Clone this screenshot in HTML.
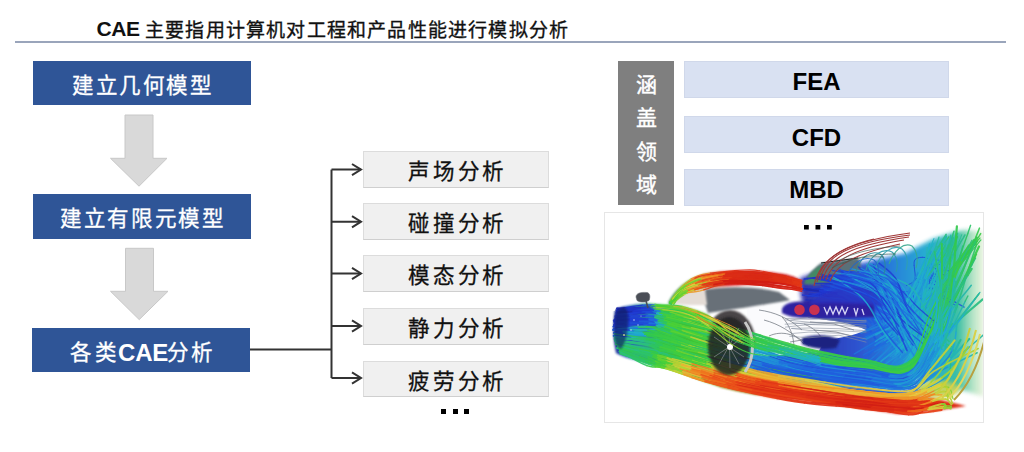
<!DOCTYPE html>
<html lang="zh-CN">
<head>
<meta charset="utf-8">
<style>
*{margin:0;padding:0;box-sizing:border-box}
html,body{width:1024px;height:452px;background:#fff;overflow:hidden;position:relative;font-family:"Liberation Serif",serif}
.a{position:absolute}
.title{font-size:19px;letter-spacing:1.2px;font-weight:bold;white-space:nowrap;color:#111;line-height:28px}
.tcn{font-weight:400;-webkit-text-stroke:0.35px #111}
.title .en{font-family:"Liberation Sans",sans-serif;font-size:19px;letter-spacing:0}
.hr{left:15px;top:41px;width:991px;height:2px;background:#9aa5bb}
.bb{background:#2f5597;color:#fff;text-align:center;font-size:21.5px;letter-spacing:1.6px;padding-top:3px;padding-left:1.6px;font-weight:500;white-space:nowrap;-webkit-text-stroke:0.3px #fff}
.gb{background:#f0f0f0;border:1px solid #dcdcdc;border-bottom-color:#cfcfcf;color:#111;text-align:center;font-size:21.5px;letter-spacing:2.6px;font-weight:500;white-space:nowrap;line-height:36px;padding-top:2px;padding-left:3.2px;-webkit-text-stroke:0.3px #111}
.lb{background:#d9e1f2;border:1px solid #d0d8ea;color:#000;text-align:center;font-family:"Liberation Sans",sans-serif;font-weight:bold;font-size:24px;line-height:37px;padding-top:1.5px}
.dots{font-family:"Liberation Sans",sans-serif}
.dot{position:absolute;width:5px;height:5px;background:#000}
</style>
</head>
<body>
<div class="a title" style="left:96.5px;font-family:'Liberation Sans',sans-serif;font-size:21px;letter-spacing:-0.4px;top:14.6px">CAE</div>
<div class="a title tcn" style="left:145px;top:16.5px">主要指用计算机对工程和产品性能进行模拟分析</div>
<div class="a hr"></div>

<div class="a bb" style="left:33px;top:61px;width:218px;height:44px;line-height:44px">建立几何模型</div>
<div class="a bb" style="left:33px;top:194px;width:218px;height:45px;line-height:45px">建立有限元模型</div>
<div class="a bb" style="left:32px;top:328px;width:218px;height:44px;line-height:44px;padding:0">
<span class="a" style="left:38px;top:3px">各</span><span class="a" style="left:63px;top:3px">类</span><span class="a" style="left:86px;top:3px;font-family:'Liberation Sans',sans-serif;font-size:24px;letter-spacing:-0.2px;font-weight:bold;-webkit-text-stroke:0">CAE</span><span class="a" style="left:135px;top:3px">分</span><span class="a" style="left:159px;top:3px">析</span></div>

<svg class="a" style="left:0;top:0" width="600" height="452">
  <g fill="#d9d9d9" stroke="#c8c8c8" stroke-width="1">
    <path d="M125 115 H153 V158.3 H167 L139 186.2 L110.5 158.3 H125 Z"/>
    <path d="M125.5 248.3 H153.5 V291.3 H168 L139.2 319.6 L110.5 291.3 H125.5 Z"/>
  </g>
  <g fill="none" stroke="#333" stroke-width="2">
    <path d="M250 349.5 H331.5"/>
    <path d="M331.5 169.6 V378"/>
    <path d="M331.5 169.6 H361 M331.5 221.7 H361 M331.5 273.5 H361 M331.5 326 H361 M331.5 378 H361"/>
    <path d="M352 164 L361 169.6 L352 175.2 M352 216.1 L361 221.7 L352 227.3 M352 267.9 L361 273.5 L352 279.1 M352 320.4 L361 326 L352 331.6 M352 372.4 L361 378 L352 383.6"/>
  </g>
</svg>

<div class="a gb" style="left:363px;top:151px;width:186px;height:37px">声场分析</div>
<div class="a gb" style="left:363px;top:203px;width:186px;height:37px">碰撞分析</div>
<div class="a gb" style="left:363px;top:255px;width:186px;height:37px">模态分析</div>
<div class="a gb" style="left:363px;top:308px;width:186px;height:37px">静力分析</div>
<div class="a gb" style="left:363px;top:361px;width:186px;height:36px">疲劳分析</div>
<div class="dot" style="left:441px;top:409px"></div>
<div class="dot" style="left:452.5px;top:409px"></div>
<div class="dot" style="left:464px;top:409px"></div>

<div class="a" style="left:618px;top:61px;width:56px;height:144px;background:#7f7f7f;color:#fff;font-size:21px;font-weight:400;-webkit-text-stroke:0.4px #fff;text-align:center;line-height:33.6px;padding-top:7.7px">涵<br>盖<br>领<br>域</div>
<div class="a lb" style="left:684px;top:60.5px;width:265px;height:37px">FEA</div>
<div class="a lb" style="left:684px;top:116px;width:265px;height:37px">CFD</div>
<div class="a lb" style="left:684px;top:168.5px;width:265px;height:37px">MBD</div>

<div class="a" id="car" style="left:604px;top:212px;width:380px;height:211px;border:1px solid #e6e6e6;background:#fff;overflow:hidden">
<svg width="380" height="211" viewBox="0 0 380 211" style="position:absolute;left:-1px;top:-1px">
<defs>
 <filter id="b1" x="-10%" y="-10%" width="120%" height="120%"><feGaussianBlur stdDeviation="1"/></filter>
 <filter id="b2" x="-10%" y="-10%" width="120%" height="120%"><feGaussianBlur stdDeviation="2"/></filter>
 <filter id="b05" x="-10%" y="-10%" width="120%" height="120%"><feGaussianBlur stdDeviation="0.5"/></filter>
 <linearGradient id="gPlume" x1="196" y1="0" x2="380" y2="0" gradientUnits="userSpaceOnUse">
  <stop offset="0" stop-color="#2828a8"/><stop offset="0.3" stop-color="#2048cc"/><stop offset="0.5" stop-color="#1f78d8"/><stop offset="0.68" stop-color="#1fa8d0"/><stop offset="0.86" stop-color="#30bca0"/><stop offset="1" stop-color="#b8dc98" stop-opacity="0.3"/>
 </linearGradient>
 <linearGradient id="gRoof" x1="64" y1="0" x2="200" y2="0" gradientUnits="userSpaceOnUse">
  <stop offset="0" stop-color="#309050"/><stop offset="0.2" stop-color="#a0a040"/><stop offset="0.35" stop-color="#c84020"/><stop offset="0.45" stop-color="#d81c1c"/><stop offset="1" stop-color="#c81818"/>
 </linearGradient>
 <linearGradient id="gNose" x1="9" y1="0" x2="110" y2="0" gradientUnits="userSpaceOnUse">
  <stop offset="0" stop-color="#1a2a88"/><stop offset="0.1" stop-color="#2a50c0"/><stop offset="0.3" stop-color="#2a9a90"/><stop offset="0.5" stop-color="#38c040"/><stop offset="1" stop-color="#40c030"/>
 </linearGradient>
 <linearGradient id="gBot" x1="0" y1="150" x2="0" y2="200" gradientUnits="userSpaceOnUse">
  <stop offset="0" stop-color="#d8c838"/><stop offset="0.3" stop-color="#f09028"/><stop offset="0.6" stop-color="#e84a18"/><stop offset="1" stop-color="#d82414"/>
 </linearGradient>
</defs>
<rect width="380" height="211" fill="#fff"/>

<!-- PLUME base fill -->
<path d="M196 66 L218 58 C228 57 234 56 240 55 C255 52 265 49 284 45 L302 41 L313 35 L329 27 L351 20 L362 18 L380 20 L380 185 C360 178 340 172 320 168 C290 164 260 160 230 156 C215 150 208 130 205 108 C198 95 195 80 196 66 Z" fill="url(#gPlume)" opacity="0.95" filter="url(#b2)"/>
<!-- dark spoiler region -->
<path d="M200 72 C203 64 209 57 217 51 L254 46 C258 50 258 58 252 66 C240 70 225 71 212 73 Z" fill="#5a7078" filter="url(#b1)"/>
<path d="M200 72 C203 64 209 58 216 54 L222 70 Z" fill="#3c9060" opacity="0.8" filter="url(#b1)"/>
<path d="M217 51 L254 46" stroke="#1a2020" stroke-width="1.2" fill="none"/>
<g fill="none" stroke-linecap="round"><g stroke-width="1.3" opacity="0.90"><path d="M247.3 75.2 249.6 75.8 252.7 76.6 256.4 77.5 260.4 78.6" stroke="#204ed9"/><path d="M260.4 78.6 264.4 79.6 268.1 80.7 271.5 81.5 275.0 82.2 278.4 82.9" stroke="#2061df"/><path d="M278.4 82.9 281.8 83.8 285.3 85.2 288.8 87.2 292.4 90.0 296.0 93.6" stroke="#2070de"/><path d="M296.0 93.6 299.6 97.5 303.2 101.7 306.9 105.7 310.5 109.4 314.4 112.9" stroke="#209bd6"/><path d="M314.4 112.9 318.5 116.4 322.7 119.9 326.5 123.0 329.8 125.6 332.2 127.6" stroke="#20aed2"/></g><g stroke-width="1.7" opacity="0.90"><path d="M224.7 75.7 227.1 75.4 230.5 74.9 234.5 74.4" stroke="#2047d7"/><path d="M234.5 74.4 238.8 73.9 243.1 73.5 247.1 73.4 250.8 73.5 254.6 73.7" stroke="#205cde"/><path d="M254.6 73.7 258.5 74.1 262.2 74.6 265.9 75.4 269.5 76.5 272.8 78.0" stroke="#205ede"/><path d="M272.8 78.0 276.0 79.9 279.2 82.0 282.2 84.3 285.3 86.4 288.5 88.4" stroke="#207cdc"/><path d="M288.5 88.4 291.8 90.3 295.5 92.2 299.1 94.0 302.5 95.7 305.4 97.1" stroke="#2099d6"/><path d="M305.4 97.1 307.5 98.2" stroke="#209dd6"/></g><g stroke-width="1.5" opacity="0.90"><path d="M240.3 60.0 242.6 61.0 245.7 62.3 249.4 63.8 253.4 65.6 257.4 67.5" stroke="#2054db"/><path d="M257.4 67.5 261.1 69.6 264.6 71.7 268.1 73.9 271.6 76.3 275.0 79.0" stroke="#2065e0"/><path d="M275.0 79.0 278.5 82.0 281.8 85.5 285.0 89.7 288.2 94.5 291.2 99.6" stroke="#207ddb"/><path d="M291.2 99.6 294.3 104.9 297.3 110.0 300.4 114.7 303.7 119.2 307.3 123.9" stroke="#209cd6"/><path d="M307.3 123.9 310.9 128.4 314.2 132.5 317.0 136.0 319.0 138.5" stroke="#209fd5"/></g><g stroke-width="1.9" opacity="0.90"><path d="M227.8 77.1 229.6 77.2 232.0 77.3" stroke="#2040d5"/><path d="M232.0 77.3 234.9 77.5 238.1 77.7 241.2 78.2 244.1 78.8 246.8 79.7" stroke="#2043d6"/><path d="M246.8 79.7 249.5 80.8 252.1 82.0 254.8 83.4 257.6 85.0 260.4 86.8" stroke="#204ad8"/><path d="M260.4 86.8 263.4 89.0 266.5 91.6 269.7 94.4 272.9 97.2 276.1 100.0" stroke="#205ede"/><path d="M276.1 100.0 279.3 102.5 282.7 105.0 286.3 107.5 289.9 109.9 293.3 112.1" stroke="#208ed8"/><path d="M293.3 112.1 296.1 114.0 298.1 115.3" stroke="#209fd5"/></g><g stroke-width="1.8" opacity="0.90"><path d="M205.4 82.3 207.9 82.6" stroke="#1e2cb6"/><path d="M207.9 82.6 211.2 83.0 215.3 83.4 219.6 83.9 223.9 84.6 227.9 85.5" stroke="#1e30c0"/><path d="M227.9 85.5 231.7 86.5 235.4 87.7 239.1 89.0 242.9 90.5 246.7 92.1" stroke="#203cd3"/><path d="M246.7 92.1 250.4 93.7 254.3 95.6 258.1 97.6 262.0 99.8 265.8 101.9" stroke="#204cd8"/><path d="M265.8 101.9 269.7 104.0 273.6 106.0 277.7 107.9 282.1 109.9 286.6 111.8" stroke="#2058dc"/><path d="M286.6 111.8 290.7 113.5 294.2 115.0 296.7 116.1" stroke="#2072dd"/></g><g stroke-width="1.3" opacity="0.90"><path d="M249.4 71.5 251.1 72.8 253.4 74.6 256.2 76.7 259.1 79.0 262.1 81.4" stroke="#2052da"/><path d="M262.1 81.4 264.9 83.5 267.4 85.4 270.0 87.1 272.5 88.8 275.1 90.7" stroke="#205ede"/><path d="M275.1 90.7 277.7 93.1 280.3 96.2 283.1 100.1 285.9 104.8 288.7 109.9" stroke="#2096d7"/><path d="M288.7 109.9 291.6 115.2 294.4 120.3 297.3 125.0 300.3 129.5 303.6 134.1" stroke="#20b0d1"/><path d="M303.6 134.1 306.8 138.6 309.8 142.7 312.4 146.1 314.2 148.6" stroke="#20a6d4"/></g><g stroke-width="1.3" opacity="0.90"><path d="M233.9 69.9 236.0 70.1 238.9 70.3" stroke="#204ad8"/><path d="M238.9 70.3 242.3 70.5 246.0 70.9 249.7 71.4 253.1 72.2 256.3 73.2" stroke="#204fd9"/><path d="M256.3 73.2 259.4 74.4 262.5 75.8 265.6 77.3 268.9 78.9 272.3 80.5" stroke="#2057dc"/><path d="M272.3 80.5 275.9 82.2 279.7 84.0 283.7 86.0 287.6 87.9 291.6 89.7" stroke="#206ede"/><path d="M291.6 89.7 295.5 91.5 299.7 93.2 304.1 95.0 308.6 96.7 312.7 98.2" stroke="#20a7d4"/><path d="M312.7 98.2 316.2 99.5 318.7 100.5" stroke="#24b7ae"/></g><g stroke-width="1.7" opacity="0.90"><path d="M220.1 66.5 222.7 67.5 226.2 68.8 230.4 70.4" stroke="#2037d1"/><path d="M230.4 70.4 234.9 72.2 239.4 73.9 243.6 75.5 247.5 76.9 251.3 78.1" stroke="#2058dc"/><path d="M251.3 78.1 255.1 79.2 258.9 80.6 262.9 82.4 267.1 84.8 271.7 88.0" stroke="#2067df"/><path d="M271.7 88.0 276.4 91.9 281.3 96.2 286.2 100.6 291.2 104.9 296.1 108.9" stroke="#2080db"/><path d="M296.1 108.9 301.2 112.6 306.8 116.5 312.3 120.2 317.5 123.6 321.8 126.4" stroke="#209bd6"/><path d="M321.8 126.4 325.0 128.5" stroke="#20acd3"/></g><g stroke-width="1.7" opacity="0.90"><path d="M226.2 63.9 228.7 64.5 232.2 65.4" stroke="#203ed4"/><path d="M232.2 65.4 236.3 66.4 240.7 67.5 245.2 68.6 249.3 69.6 253.2 70.3" stroke="#2052da"/><path d="M253.2 70.3 257.0 70.7 260.8 71.2 264.7 71.9 268.6 73.2 272.5 75.2" stroke="#205add"/><path d="M272.5 75.2 276.4 78.4 280.3 82.3 284.3 86.9 288.3 91.6 292.2 96.2" stroke="#2075dd"/><path d="M292.2 96.2 296.2 100.3 300.4 104.3 305.0 108.3 309.6 112.2 313.8 115.7" stroke="#20abd3"/><path d="M313.8 115.7 317.4 118.7 319.9 120.9" stroke="#20a9d3"/></g><g stroke-width="1.2" opacity="0.90"><path d="M236.8 78.5 239.2 78.1 242.5 77.5 246.4 76.7 250.7 76.0" stroke="#2046d6"/><path d="M250.7 76.0 254.9 75.5 258.8 75.3 262.5 75.2 266.2 75.1 269.9 75.2" stroke="#205cdd"/><path d="M269.9 75.2 273.6 75.6 277.3 76.4 280.9 77.7 284.4 79.9 287.9 82.7" stroke="#2065e0"/><path d="M287.9 82.7 291.4 85.9 294.9 89.3 298.3 92.6 301.8 95.6 305.5 98.4" stroke="#20a8d3"/><path d="M305.5 98.4 309.5 101.3 313.5 104.1 317.3 106.6 320.4 108.7 322.7 110.2" stroke="#21b2c9"/></g><g stroke-width="1.8" opacity="0.90"><path d="M198.9 77.6 201.8 78.0 205.7 78.5 210.4 79.1" stroke="#1f34c8"/><path d="M210.4 79.1 215.4 79.8 220.4 80.5 225.1 81.3 229.5 81.9 233.8 82.4" stroke="#1f32c5"/><path d="M233.8 82.4 238.1 82.9 242.5 83.7 246.9 85.1 251.3 87.2 255.8 90.3" stroke="#203fd4"/><path d="M255.8 90.3 260.3 94.2 264.9 98.7 269.4 103.4 274.0 108.0 278.6 112.1" stroke="#2062df"/><path d="M278.6 112.1 283.4 116.0 288.7 120.0 293.9 123.8 298.8 127.4 302.9 130.3" stroke="#209bd6"/><path d="M302.9 130.3 305.9 132.5" stroke="#20acd3"/></g><g stroke-width="1.8" opacity="0.90"><path d="M233.9 65.9 236.2 67.0" stroke="#2054db"/><path d="M236.2 67.0 239.3 68.3 243.0 70.0 247.0 71.8 250.9 73.8 254.6 75.8" stroke="#2051da"/><path d="M254.6 75.8 258.0 77.8 261.4 79.8 264.7 81.9 268.1 84.3 271.6 87.1" stroke="#205dde"/><path d="M271.6 87.1 275.3 90.7 279.2 95.1 283.3 100.4 287.5 106.1 291.8 112.0" stroke="#207ddb"/><path d="M291.8 112.0 296.0 117.7 300.3 122.9 304.7 128.0 309.5 133.2 314.3 138.2" stroke="#207bdc"/><path d="M314.3 138.2 318.7 142.7 322.5 146.5 325.2 149.3" stroke="#209bd6"/></g><g stroke-width="1.4" opacity="0.90"><path d="M249.1 68.9 250.1 70.0" stroke="#205bdd"/><path d="M250.1 70.0 251.4 71.4 253.1 73.0 254.8 74.9 256.5 76.7 258.2 78.5" stroke="#2052da"/><path d="M258.2 78.5 259.6 80.0 261.1 81.4 262.5 82.7 264.0 84.4 265.5 86.5" stroke="#2058dc"/><path d="M265.5 86.5 267.2 89.2 269.0 92.9 270.9 97.4 272.9 102.3 274.9 107.4" stroke="#206ede"/><path d="M274.9 107.4 277.0 112.3 279.0 116.8 281.1 121.1 283.3 125.6 285.6 129.8" stroke="#206fde"/><path d="M285.6 129.8 287.7 133.7 289.4 137.0 290.7 139.4" stroke="#208ad9"/></g><g stroke-width="1.8" opacity="0.90"><path d="M234.2 71.0 236.5 70.8" stroke="#204cd8"/><path d="M236.5 70.8 239.7 70.6 243.5 70.4 247.6 70.2 251.7 70.0 255.5 69.9" stroke="#205add"/><path d="M255.5 69.9 259.0 69.6 262.7 69.1 266.3 68.7 269.8 68.5 273.3 68.8" stroke="#2064e0"/><path d="M273.3 68.8 276.7 69.9 279.9 71.8 283.0 74.5 286.0 77.7 289.0 81.1" stroke="#2073dd"/><path d="M289.0 81.1 292.0 84.4 295.0 87.3 298.3 90.1 301.8 92.9 305.3 95.6" stroke="#20abd3"/><path d="M305.3 95.6 308.6 98.0 311.3 100.1 313.3 101.6" stroke="#20a5d4"/></g><g stroke-width="1.5" opacity="0.90"><path d="M229.4 71.5 231.8 71.5 235.3 71.3 239.4 71.2" stroke="#2041d5"/><path d="M239.4 71.2 243.8 71.1 248.2 71.0 252.3 71.0 256.0 70.9 259.7 70.6" stroke="#204cd8"/><path d="M259.7 70.6 263.4 70.4 267.2 70.5 271.1 70.9 275.2 72.0 279.6 74.0" stroke="#2065e0"/><path d="M279.6 74.0 284.1 76.6 288.8 79.6 293.6 82.8 298.3 85.9 303.0 88.7" stroke="#208ed8"/><path d="M303.0 88.7 308.0 91.3 313.3 94.0 318.7 96.6 323.6 98.9 327.8 100.9" stroke="#23b4ba"/><path d="M327.8 100.9 330.8 102.4" stroke="#2abf81"/></g><g stroke-width="1.5" opacity="0.90"><path d="M209.4 76.9 212.6 76.7 216.9 76.5" stroke="#1f33c6"/><path d="M216.9 76.5 222.1 76.2 227.7 76.0 233.3 76.0 238.4 76.2 243.3 76.4" stroke="#204cd8"/><path d="M243.3 76.4 248.2 76.6 253.1 76.9 257.9 77.6 262.8 78.7 267.5 80.5" stroke="#205add"/><path d="M267.5 80.5 272.1 83.2 276.7 86.7 281.2 90.6 285.6 94.7 290.1 98.7" stroke="#2077dc"/><path d="M290.1 98.7 294.6 102.3 299.4 105.7 304.7 109.2 309.9 112.6 314.7 115.6" stroke="#20b0d0"/><path d="M314.7 115.6 318.8 118.2 321.7 120.1" stroke="#22b4be"/></g><g stroke-width="1.6" opacity="0.90"><path d="M225.8 63.4 228.5 63.4 232.2 63.2" stroke="#2042d5"/><path d="M232.2 63.2 236.6 63.1 241.3 63.1 246.0 63.2 250.4 63.7 254.5 64.3" stroke="#204bd8"/><path d="M254.5 64.3 258.5 65.1 262.6 66.1 266.7 67.3 270.8 68.8 275.0 70.5" stroke="#2059dc"/><path d="M275.0 70.5 279.4 72.6 283.8 75.0 288.3 77.7 292.8 80.5 297.3 83.3" stroke="#2071de"/><path d="M297.3 83.3 301.8 85.7 306.6 88.1 311.8 90.6 316.9 92.9 321.7 95.1" stroke="#20a2d5"/><path d="M321.7 95.1 325.7 96.9 328.6 98.2" stroke="#25b8a5"/></g><g stroke-width="1.2" opacity="0.90"><path d="M217.1 73.1 219.4 73.9 222.6 74.9 226.4 76.0 230.5 77.3" stroke="#2037cf"/><path d="M230.5 77.3 234.6 78.7 238.4 80.0 242.0 81.0 245.6 81.8 249.2 82.7" stroke="#2040d5"/><path d="M249.2 82.7 252.8 83.8 256.3 85.6 259.8 88.3 263.1 92.2 266.5 97.1" stroke="#2060df"/><path d="M266.5 97.1 269.7 102.7 273.0 108.5 276.2 114.1 279.5 119.2 283.0 124.0" stroke="#2089d9"/><path d="M283.0 124.0 286.8 128.9 290.6 133.7 294.1 138.1 297.1 141.7 299.3 144.4" stroke="#2095d7"/></g><g stroke-width="1.6" opacity="0.90"><path d="M236.3 66.4 238.1 66.8" stroke="#204dd9"/><path d="M238.1 66.8 240.5 67.3 243.4 68.0 246.6 68.8 249.7 69.8 252.6 71.1" stroke="#204ad8"/><path d="M252.6 71.1 255.3 72.3 258.1 73.6 260.9 75.0 263.6 76.9 266.3 79.4" stroke="#205add"/><path d="M266.3 79.4 268.9 82.8 271.4 87.4 273.8 93.0 276.1 99.3 278.4 105.9" stroke="#2085da"/><path d="M278.4 105.9 280.7 112.2 283.1 118.0 285.6 123.5 288.3 129.2 291.1 134.6" stroke="#208ed8"/><path d="M291.1 134.6 293.6 139.6 295.7 143.8 297.3 146.9" stroke="#20a2d5"/></g><g stroke-width="1.8" opacity="0.90"><path d="M220.0 75.4 223.3 76.3 227.9 77.6 233.3 79.1 239.1 80.7" stroke="#203bd3"/><path d="M239.1 80.7 244.9 82.5 250.3 84.3 255.3 86.2 260.2 88.0 265.1 90.0" stroke="#205add"/><path d="M265.1 90.0 270.1 92.2 275.2 94.6 280.5 97.4 286.1 100.7 291.8 104.5" stroke="#2088d9"/><path d="M291.8 104.5 297.7 108.5 303.6 112.6 309.5 116.6 315.4 120.3 321.6 123.8" stroke="#22b3c3"/><path d="M321.6 123.8 328.3 127.5 335.0 131.0 341.2 134.2 346.5 136.9 350.3 138.9" stroke="#28bc90"/></g><g stroke-width="1.3" opacity="0.90"><path d="M226.4 76.7 228.4 77.2 231.1 77.9 234.3 78.8" stroke="#2048d7"/><path d="M234.3 78.8 237.8 79.8 241.3 80.9 244.6 82.1 247.5 83.3 250.4 84.4" stroke="#2042d5"/><path d="M250.4 84.4 253.3 85.5 256.2 87.1 259.4 89.2 262.7 92.1 266.4 96.1" stroke="#205bdd"/><path d="M266.4 96.1 270.3 101.0 274.3 106.5 278.4 112.2 282.6 117.8 286.6 122.8" stroke="#2086da"/><path d="M286.6 122.8 290.9 127.6 295.5 132.6 300.0 137.3 304.3 141.6 307.9 145.3" stroke="#20aad3"/><path d="M307.9 145.3 310.5 148.0" stroke="#21b2c9"/></g><g stroke-width="1.7" opacity="0.90"><path d="M203.8 84.7 207.5 84.0 212.7 83.0" stroke="#1f33c7"/><path d="M212.7 83.0 218.9 81.8 225.5 80.6 232.1 79.7 238.3 79.1 244.1 78.9" stroke="#2041d5"/><path d="M244.1 78.9 249.9 79.0 255.8 79.2 261.6 79.7 267.3 80.3 272.8 81.2" stroke="#2055db"/><path d="M272.8 81.2 278.2 82.5 283.4 84.1 288.5 85.9 293.6 87.8 298.7 89.6" stroke="#2078dc"/><path d="M298.7 89.6 303.8 91.3 309.3 92.8 315.3 94.4 321.2 96.0 326.7 97.4" stroke="#22b3c2"/><path d="M326.7 97.4 331.4 98.6 334.8 99.5" stroke="#2cc174"/></g><g stroke-width="1.2" opacity="0.90"><path d="M232.3 73.0 235.6 72.8 240.0 72.6 245.3 72.3 251.1 72.1 256.8 72.0" stroke="#2052da"/><path d="M256.8 72.0 262.1 72.2 267.1 72.6 272.2 73.2 277.2 73.9 282.2 74.8" stroke="#2061df"/><path d="M282.2 74.8 287.1 75.9 291.9 77.4 296.4 79.2 300.7 81.4 305.0 83.8" stroke="#20aad3"/><path d="M305.0 83.8 309.2 86.3 313.4 88.8 317.6 91.0 322.2 93.2 327.2 95.4" stroke="#23b4bc"/><path d="M327.2 95.4 332.1 97.5 336.7 99.4 340.6 101.1 343.4 102.2" stroke="#27bb98"/></g><g stroke-width="1.8" opacity="0.90"><path d="M200.4 67.1 203.3 66.7" stroke="#2036cd"/><path d="M203.3 66.7 207.3 66.2 212.0 65.6 217.1 65.0 222.2 64.5 227.0 64.2" stroke="#1f32c5"/><path d="M227.0 64.2 231.4 64.1 235.9 63.9 240.4 63.8 244.8 64.0 249.2 64.7" stroke="#203dd4"/><path d="M249.2 64.7 253.5 65.8 257.8 67.8 261.9 70.3 266.1 73.3 270.2 76.5" stroke="#205add"/><path d="M270.2 76.5 274.2 79.6 278.4 82.3 282.8 84.9 287.6 87.5 292.3 90.1" stroke="#2072dd"/><path d="M292.3 90.1 296.8 92.4 300.5 94.3 303.2 95.8" stroke="#2088d9"/></g><g stroke-width="1.6" opacity="0.90"><path d="M208.8 82.7 212.2 82.1 216.8 81.4 222.3 80.5 228.2 79.6 234.2 79.0" stroke="#203ad3"/><path d="M234.2 79.0 239.7 78.8 244.8 78.9 249.8 79.3 254.8 79.8 259.9 80.6" stroke="#204ed9"/><path d="M259.9 80.6 265.1 81.6 270.5 82.7 276.1 84.2 281.9 86.0 287.8 87.9" stroke="#206bdf"/><path d="M287.8 87.9 293.8 90.0 299.8 92.0 305.7 93.8 311.9 95.5 318.7 97.3" stroke="#20b0cf"/><path d="M318.7 97.3 325.5 99.0 331.7 100.6 337.0 101.9 340.9 102.9" stroke="#27bb97"/></g><g stroke-width="1.7" opacity="0.90"><path d="M244.4 59.9 246.0 60.5 248.2 61.2 250.8 62.0 253.6 63.1" stroke="#205cdd"/><path d="M253.6 63.1 256.4 64.3 259.0 65.7 261.3 67.1 263.7 68.6 266.0 70.3" stroke="#2062df"/><path d="M266.0 70.3 268.3 72.3 270.8 74.7 273.5 77.8 276.5 81.8 279.7 86.5" stroke="#205add"/><path d="M279.7 86.5 282.9 91.8 286.3 97.1 289.6 102.4 292.9 107.1 296.4 111.7" stroke="#2079dc"/><path d="M296.4 111.7 300.1 116.4 303.8 121.0 307.3 125.1 310.2 128.6 312.3 131.1" stroke="#208dd8"/></g><g stroke-width="1.8" opacity="0.90"><path d="M238.0 58.7 240.9 59.3 245.1 60.3" stroke="#204bd8"/><path d="M245.1 60.3 250.0 61.4 255.3 62.7 260.6 63.9 265.5 65.2 270.2 66.2" stroke="#2053db"/><path d="M270.2 66.2 274.9 67.1 279.6 68.0 284.2 69.2 288.8 70.8 293.1 73.0" stroke="#2061df"/><path d="M293.1 73.0 297.2 76.0 301.1 79.8 304.8 83.9 308.5 88.2 312.3 92.5" stroke="#208ed8"/><path d="M312.3 92.5 316.0 96.3 320.1 99.9 324.5 103.6 328.9 107.3 333.0 110.5" stroke="#26b9a4"/><path d="M333.0 110.5 336.5 113.3 339.0 115.3" stroke="#2dc464"/></g><g stroke-width="1.9" opacity="0.90"><path d="M217.4 62.3 218.9 63.0" stroke="#1e30c0"/><path d="M218.9 63.0 220.9 64.0 223.3 65.1 226.0 66.4 228.6 67.8 231.0 69.2" stroke="#203cd3"/><path d="M231.0 69.2 233.2 70.3 235.4 71.3 237.6 72.3 239.8 73.7 242.1 75.8" stroke="#204cd9"/><path d="M242.1 75.8 244.6 78.8 247.3 83.1 250.2 88.5 253.2 94.5 256.2 100.8" stroke="#2054db"/><path d="M256.2 100.8 259.3 106.9 262.3 112.4 265.4 117.7 268.8 123.1 272.2 128.3" stroke="#2059dc"/><path d="M272.2 128.3 275.4 133.0 278.0 137.0 279.9 139.9" stroke="#2079dc"/></g><g stroke-width="1.8" opacity="0.90"><path d="M232.7 66.0 235.1 66.1 238.5 66.2 242.5 66.4" stroke="#2053db"/><path d="M242.5 66.4 246.9 66.6 251.2 66.8 255.2 67.0 259.1 67.0 262.9 66.7" stroke="#205ede"/><path d="M262.9 66.7 266.8 66.4 270.6 66.4 274.3 66.9 277.8 68.2 281.1 70.5" stroke="#2076dd"/><path d="M281.1 70.5 284.2 73.6 287.1 77.2 290.0 81.1 292.9 84.8 295.9 88.2" stroke="#207adc"/><path d="M295.9 88.2 299.1 91.3 302.5 94.5 306.0 97.6 309.2 100.5 311.9 102.8" stroke="#2096d7"/><path d="M311.9 102.8 313.9 104.6" stroke="#22b3bf"/></g><g stroke-width="1.8" opacity="0.90"><path d="M230.9 78.9 233.8 78.7 237.7 78.3 242.4 77.9 247.4 77.6 252.4 77.4" stroke="#204fd9"/><path d="M252.4 77.4 257.1 77.7 261.4 78.2 265.8 78.9 270.1 79.8 274.5 81.0" stroke="#2062df"/><path d="M274.5 81.0 278.8 82.4 283.2 84.0 287.5 86.1 291.8 88.5 296.1 91.2" stroke="#2089d9"/><path d="M296.1 91.2 300.4 93.9 304.6 96.6 308.9 99.1 313.5 101.4 318.5 103.8" stroke="#24b5b5"/><path d="M318.5 103.8 323.4 106.2 328.0 108.3 331.9 110.1 334.7 111.4" stroke="#26b9a3"/></g><g stroke-width="1.3" opacity="0.90"><path d="M235.7 73.5 237.8 74.0 240.8 74.7" stroke="#2049d7"/><path d="M240.8 74.7 244.3 75.5 248.1 76.5 251.9 77.6 255.4 79.0 258.7 80.5" stroke="#2057dc"/><path d="M258.7 80.5 262.0 82.1 265.4 83.9 268.7 86.0 271.9 88.5 275.0 91.6" stroke="#205bdd"/><path d="M275.0 91.6 277.9 95.5 280.7 100.2 283.3 105.3 286.0 110.6 288.6 115.8" stroke="#2064e0"/><path d="M288.6 115.8 291.2 120.4 294.1 125.0 297.2 129.6 300.4 134.0 303.2 138.1" stroke="#2090d8"/><path d="M303.2 138.1 305.7 141.5 307.5 144.0" stroke="#20afd2"/></g><g stroke-width="1.7" opacity="0.90"><path d="M229.7 63.1 231.9 63.9 235.0 65.1 238.6 66.5 242.5 68.0 246.4 69.5" stroke="#204cd9"/><path d="M246.4 69.5 250.0 70.9 253.5 72.2 257.0 73.3 260.5 74.4 263.9 75.7" stroke="#2059dd"/><path d="M263.9 75.7 267.2 77.3 270.3 79.5 273.2 82.4 275.9 85.8 278.5 89.6" stroke="#205fde"/><path d="M278.5 89.6 280.9 93.6 283.4 97.4 286.0 100.9 288.8 104.2 291.8 107.6" stroke="#2097d7"/><path d="M291.8 107.6 294.8 111.0 297.6 114.0 300.0 116.5 301.7 118.4" stroke="#20b1ce"/></g><g stroke-width="1.3" opacity="0.90"><path d="M205.7 81.9 209.5 82.2" stroke="#2037d0"/><path d="M209.5 82.2 214.7 82.7 220.9 83.2 227.6 83.9 234.3 84.7 240.5 85.6" stroke="#2039d2"/><path d="M240.5 85.6 246.3 86.6 252.1 87.5 257.8 88.6 263.6 90.0 269.5 91.8" stroke="#204cd8"/><path d="M269.5 91.8 275.4 94.0 281.4 97.0 287.5 100.7 293.6 104.7 299.8 108.9" stroke="#2073dd"/><path d="M299.8 108.9 306.0 113.0 312.1 116.7 318.7 120.3 325.8 123.9 332.8 127.4" stroke="#20aad3"/><path d="M332.8 127.4 339.4 130.6 344.9 133.3 348.9 135.3" stroke="#2cc273"/></g><g stroke-width="1.4" opacity="0.90"><path d="M207.6 84.5 209.6 84.0 212.3 83.4 215.5 82.6 219.0 81.9 222.5 81.2" stroke="#1f35cb"/><path d="M222.5 81.2 225.8 80.6 228.8 80.2 231.7 79.6 234.6 79.2 237.6 78.9" stroke="#204cd8"/><path d="M237.6 78.9 240.7 79.1 244.0 79.7 247.4 81.0 251.1 82.9 254.8 85.1" stroke="#2059dc"/><path d="M254.8 85.1 258.6 87.5 262.4 89.9 266.2 91.9 270.1 93.8 274.4 95.8" stroke="#2075dd"/><path d="M274.4 95.8 278.6 97.7 282.6 99.4 285.9 100.9 288.3 101.9" stroke="#2097d7"/></g><g stroke-width="1.6" opacity="0.90"><path d="M244.9 72.3 247.3 72.3 250.6 72.4 254.5 72.4" stroke="#205ede"/><path d="M254.5 72.4 258.7 72.6 263.0 72.9 266.9 73.5 270.6 74.1 274.3 74.8" stroke="#2070de"/><path d="M274.3 74.8 278.1 75.6 281.8 76.8 285.4 78.4 288.9 80.5 292.2 83.5" stroke="#2083da"/><path d="M292.2 83.5 295.4 87.2 298.5 91.4 301.5 95.7 304.6 99.9 307.6 103.8" stroke="#20a0d5"/><path d="M307.6 103.8 311.0 107.4 314.6 111.1 318.2 114.7 321.5 118.0 324.3 120.7" stroke="#20add2"/><path d="M324.3 120.7 326.4 122.8" stroke="#20aad3"/></g><g stroke-width="1.8" opacity="0.90"><path d="M242.1 65.7 244.7 67.1 248.3 68.9 252.6 71.1" stroke="#205add"/><path d="M252.6 71.1 257.2 73.5 261.8 75.8 266.1 78.1 270.2 80.0 274.2 81.6" stroke="#2062df"/><path d="M274.2 81.6 278.3 83.3 282.3 85.3 286.3 87.6 290.1 90.7 293.9 94.7" stroke="#2069df"/><path d="M293.9 94.7 297.7 99.4 301.3 104.6 305.0 109.9 308.6 115.1 312.3 119.9" stroke="#20a7d4"/><path d="M312.3 119.9 316.2 124.4 320.5 129.1 324.7 133.6 328.7 137.7 332.0 141.2" stroke="#27bb96"/><path d="M332.0 141.2 334.4 143.7" stroke="#29bd8d"/></g><g stroke-width="1.3" opacity="0.90"><path d="M225.2 62.7 227.5 63.5 230.6 64.8" stroke="#2039d2"/><path d="M230.6 64.8 234.4 66.2 238.4 67.8 242.5 69.4 246.3 71.0 249.8 72.4" stroke="#203cd3"/><path d="M249.8 72.4 253.4 73.8 257.0 75.2 260.6 76.8 264.0 78.6 267.4 81.0" stroke="#2050da"/><path d="M267.4 81.0 270.5 83.8 273.5 87.2 276.4 90.9 279.2 94.7 282.1 98.4" stroke="#2075dd"/><path d="M282.1 98.4 285.0 101.8 288.1 105.1 291.5 108.4 294.9 111.7 298.0 114.6" stroke="#20a4d4"/><path d="M298.0 114.6 300.7 117.1 302.6 118.9" stroke="#21b1ce"/></g><g stroke-width="1.3" opacity="0.90"><path d="M198.4 83.0 201.4 83.3" stroke="#2036ce"/><path d="M201.4 83.3 205.6 83.7 210.5 84.2 215.9 84.7 221.2 85.3 226.1 85.9" stroke="#203fd4"/><path d="M226.1 85.9 230.8 86.4 235.6 86.8 240.4 87.3 245.1 87.9 249.6 88.9" stroke="#2053da"/><path d="M249.6 88.9 253.9 90.3 257.9 92.2 261.7 94.6 265.4 97.3 268.9 100.2" stroke="#2061df"/><path d="M268.9 100.2 272.5 102.9 276.1 105.4 280.1 107.8 284.4 110.2 288.6 112.6" stroke="#205cdd"/><path d="M288.6 112.6 292.6 114.7 295.9 116.5 298.3 117.8" stroke="#206cdf"/></g><g stroke-width="1.3" opacity="0.90"><path d="M199.3 76.5 202.9 76.8 207.7 77.2" stroke="#1d2ab1"/><path d="M207.7 77.2 213.5 77.8 219.7 78.4 226.0 79.3 231.7 80.4 237.1 81.8" stroke="#203fd4"/><path d="M237.1 81.8 242.6 83.3 248.0 85.1 253.4 87.0 258.8 89.1 264.1 91.3" stroke="#204fd9"/><path d="M264.1 91.3 269.3 93.8 274.5 96.6 279.6 99.5 284.7 102.4 289.8 105.3" stroke="#205dde"/><path d="M289.8 105.3 294.9 108.0 300.4 110.6 306.4 113.3 312.3 115.8 317.8 118.2" stroke="#2083da"/><path d="M317.8 118.2 322.4 120.2 325.8 121.6" stroke="#20a8d3"/></g><g stroke-width="1.6" opacity="0.90"><path d="M242.2 71.6 244.8 71.4" stroke="#2058dc"/><path d="M244.8 71.4 248.5 71.1 252.9 70.8 257.6 70.6 262.3 70.5 266.7 70.7" stroke="#205ede"/><path d="M266.7 70.7 270.8 71.2 274.8 71.7 278.9 72.3 283.0 73.3 287.1 74.6" stroke="#2068df"/><path d="M287.1 74.6 291.2 76.3 295.3 78.7 299.4 81.6 303.5 84.9 307.6 88.3" stroke="#2080db"/><path d="M307.6 88.3 311.7 91.6 315.8 94.7 320.2 97.5 325.0 100.5 329.7 103.3" stroke="#20b0d2"/><path d="M329.7 103.3 334.1 105.9 337.8 108.1 340.5 109.7" stroke="#2abf7f"/></g><g stroke-width="1.4" opacity="0.90"><path d="M210.6 77.6 213.9 77.5 218.5 77.3 223.9 77.1" stroke="#2040d5"/><path d="M223.9 77.1 229.8 76.9 235.7 77.0 241.1 77.3 246.3 77.9 251.5 78.6" stroke="#2049d7"/><path d="M251.5 78.6 256.7 79.6 261.9 80.7 266.9 82.1 271.7 83.8 276.2 86.0" stroke="#206fde"/><path d="M276.2 86.0 280.5 88.6 284.7 91.5 288.8 94.5 292.9 97.4 297.1 100.0" stroke="#2080db"/><path d="M297.1 100.0 301.6 102.5 306.5 105.1 311.4 107.6 315.9 109.9 319.7 111.9" stroke="#2096d7"/><path d="M319.7 111.9 322.5 113.3" stroke="#21b1cd"/></g><g stroke-width="1.7" opacity="0.90"><path d="M234.4 64.2 237.3 64.9 241.3 65.7 246.1 66.7 251.2 67.7" stroke="#204bd8"/><path d="M251.2 67.7 256.3 68.9 261.0 70.0 265.4 70.9 269.8 71.6 274.1 72.4" stroke="#206ede"/><path d="M274.1 72.4 278.5 73.4 283.0 75.1 287.5 77.6 292.2 81.2 297.0 85.7" stroke="#2065e0"/><path d="M297.0 85.7 301.8 90.8 306.6 96.1 311.5 101.3 316.3 106.0 321.5 110.4" stroke="#21b1ca"/><path d="M321.5 110.4 327.0 115.0 332.5 119.4 337.7 123.4 342.0 126.8 345.1 129.3" stroke="#28bd8e"/></g><g stroke-width="1.8" opacity="0.90"><path d="M209.4 66.1 212.9 66.8 217.7 67.7" stroke="#1f34c8"/><path d="M217.7 67.7 223.4 68.8 229.6 70.0 235.8 71.2 241.5 72.3 246.8 73.3" stroke="#2038d2"/><path d="M246.8 73.3 252.1 74.2 257.4 75.2 262.8 76.2 268.1 77.6 273.5 79.2" stroke="#2050da"/><path d="M273.5 79.2 278.9 81.3 284.4 83.8 289.9 86.6 295.4 89.4 301.0 92.2" stroke="#2075dd"/><path d="M301.0 92.2 306.5 94.7 312.3 97.1 318.7 99.6 325.0 102.0 330.9 104.1" stroke="#20a7d4"/><path d="M330.9 104.1 335.8 106.0 339.4 107.3" stroke="#23b4bd"/></g><g stroke-width="1.9" opacity="0.90"><path d="M240.0 60.1 241.5 60.0 243.7 60.0 246.2 60.0 249.0 59.9" stroke="#2044d6"/><path d="M249.0 59.9 251.8 60.0 254.3 60.1 256.7 60.2 259.2 60.0 261.7 60.0" stroke="#2053da"/><path d="M261.7 60.0 264.1 60.2 266.5 60.9 268.7 62.3 270.8 64.6 272.7 67.7" stroke="#2074dd"/><path d="M272.7 67.7 274.6 71.3 276.4 75.1 278.2 78.8 280.1 82.1 282.1 85.2" stroke="#2085da"/><path d="M282.1 85.2 284.3 88.4 286.5 91.5 288.6 94.3 290.3 96.6 291.5 98.3" stroke="#207bdc"/></g><g stroke-width="1.4" opacity="0.90"><path d="M235.8 57.3 237.1 58.3 238.8 59.6 240.9 61.1 243.1 62.8 245.3 64.6" stroke="#204fd9"/><path d="M245.3 64.6 247.4 66.3 249.2 68.0 251.1 69.6 252.9 71.2 254.8 73.1" stroke="#205dde"/><path d="M254.8 73.1 256.8 75.4 258.9 78.2 261.2 81.7 263.6 85.9 266.1 90.4" stroke="#205dde"/><path d="M266.1 90.4 268.6 95.0 271.1 99.5 273.6 103.7 276.2 107.7 279.1 111.7" stroke="#206bdf"/><path d="M279.1 111.7 281.9 115.7 284.5 119.3 286.7 122.3 288.3 124.5" stroke="#2086da"/></g><g stroke-width="1.5" opacity="0.90"><path d="M221.4 71.8 224.3 71.7 228.4 71.4" stroke="#2039d2"/><path d="M228.4 71.4 233.2 71.0 238.3 70.8 243.5 70.8 248.3 71.0 252.8 71.5" stroke="#204fd9"/><path d="M252.8 71.5 257.3 72.0 261.8 72.7 266.3 73.7 270.7 75.2 275.1 77.4" stroke="#206ede"/><path d="M275.1 77.4 279.4 80.4 283.6 84.1 287.8 88.3 291.9 92.8 296.1 97.1" stroke="#209bd6"/><path d="M296.1 97.1 300.2 100.9 304.7 104.6 309.5 108.4 314.4 112.0 318.8 115.4" stroke="#23b5b9"/><path d="M318.8 115.4 322.6 118.2 325.4 120.2" stroke="#26b9a1"/></g><g stroke-width="1.4" opacity="0.90"><path d="M227.5 68.8 229.1 69.8 231.3 71.2 234.0 72.9 236.8 74.7 239.6 76.5" stroke="#204cd8"/><path d="M239.6 76.5 242.2 78.2 244.7 79.7 247.0 81.0 249.4 82.3 251.8 83.7" stroke="#2054db"/><path d="M251.8 83.7 254.3 85.6 257.0 87.9 259.8 91.0 262.8 94.7 265.9 98.7" stroke="#2055db"/><path d="M265.9 98.7 269.1 102.9 272.2 106.9 275.3 110.6 278.6 114.2 282.1 117.8" stroke="#205ede"/><path d="M282.1 117.8 285.6 121.3 288.9 124.5 291.6 127.2 293.6 129.2" stroke="#207fdb"/></g><g stroke-width="1.4" opacity="0.90"><path d="M210.0 77.7 211.8 78.0 214.2 78.4 217.1 78.9 220.3 79.5 223.4 80.1" stroke="#203cd3"/><path d="M223.4 80.1 226.3 80.9 228.9 81.8 231.5 82.6 234.1 83.6 236.8 84.8" stroke="#2043d6"/><path d="M236.8 84.8 239.6 86.2 242.5 87.8 245.7 89.9 249.1 92.3 252.6 95.0" stroke="#2041d5"/><path d="M252.6 95.0 256.2 97.7 259.7 100.4 263.2 102.8 266.9 105.2 270.9 107.6" stroke="#2061df"/><path d="M270.9 107.6 274.9 109.9 278.6 112.0 281.7 113.8 283.9 115.1" stroke="#2087da"/></g><g stroke-width="1.2" opacity="0.90"><path d="M220.5 72.7 223.2 73.1" stroke="#2043d5"/><path d="M223.2 73.1 226.9 73.7 231.4 74.4 236.2 75.2 241.0 76.1 245.5 77.1" stroke="#204ad8"/><path d="M245.5 77.1 249.6 78.0 253.7 78.8 257.7 79.7 261.9 80.9 266.1 82.5" stroke="#2058dc"/><path d="M266.1 82.5 270.5 84.7 275.1 87.8 279.8 91.6 284.7 95.9 289.6 100.4" stroke="#2074dd"/><path d="M289.6 100.4 294.5 104.7 299.3 108.6 304.5 112.4 310.0 116.2 315.6 119.9" stroke="#22b3c4"/><path d="M315.6 119.9 320.7 123.3 325.0 126.1 328.2 128.2" stroke="#21b2c7"/></g><g stroke-width="1.8" opacity="0.90"><path d="M239.8 69.8 242.4 69.7 246.0 69.5 250.2 69.3" stroke="#2044d6"/><path d="M250.2 69.3 254.8 69.2 259.4 69.3 263.7 69.6 267.7 70.3 271.8 71.3" stroke="#205add"/><path d="M271.8 71.3 275.9 72.4 279.9 73.7 283.9 75.0 287.6 76.5 291.1 78.0" stroke="#206fde"/><path d="M291.1 78.0 294.4 79.7 297.7 81.5 300.8 83.3 304.0 85.1 307.2 86.7" stroke="#208bd9"/><path d="M307.2 86.7 310.7 88.3 314.4 90.0 318.2 91.6 321.7 93.0 324.6 94.2" stroke="#20b1cf"/><path d="M324.6 94.2 326.8 95.1" stroke="#26b9a0"/></g><g stroke-width="1.5" opacity="0.90"><path d="M211.3 71.5 214.5 71.5 218.9 71.5 224.2 71.6 229.8 71.7" stroke="#1f34c8"/><path d="M229.8 71.7 235.5 71.8 240.7 72.1 245.6 72.3 250.6 72.4 255.5 72.6" stroke="#2052da"/><path d="M255.5 72.6 260.4 73.1 265.3 74.1 270.1 75.8 274.8 78.5 279.5 82.1" stroke="#205fde"/><path d="M279.5 82.1 284.1 86.1 288.6 90.4 293.2 94.5 297.8 98.3 302.7 101.8" stroke="#2091d8"/><path d="M302.7 101.8 308.0 105.4 313.3 108.8 318.3 112.0 322.4 114.7 325.4 116.6" stroke="#25b7ac"/></g><g stroke-width="1.5" opacity="0.90"><path d="M202.1 88.0 205.8 88.5 211.0 89.1 217.1 89.8 223.7 90.6 230.3 91.4" stroke="#1e2fbd"/><path d="M230.3 91.4 236.5 92.2 242.3 92.7 248.1 92.9 253.9 93.2 259.7 93.7" stroke="#2043d5"/><path d="M259.7 93.7 265.4 94.7 270.9 96.5 276.2 99.1 281.4 102.6 286.5 106.6" stroke="#2058dc"/><path d="M286.5 106.6 291.5 110.7 296.6 114.7 301.7 118.3 307.1 121.8 313.1 125.3" stroke="#209dd5"/><path d="M313.1 125.3 319.0 128.7 324.4 131.8 329.1 134.3 332.4 136.3" stroke="#25b7ac"/></g><g stroke-width="1.9" opacity="0.90"><path d="M212.6 65.7 214.8 66.2" stroke="#2037d0"/><path d="M214.8 66.2 217.8 66.8 221.5 67.6 225.3 68.6 229.2 69.7 232.8 71.1" stroke="#203bd3"/><path d="M232.8 71.1 236.2 72.5 239.6 74.0 242.9 75.6 246.3 77.6 249.7 80.2" stroke="#204ed9"/><path d="M249.7 80.2 253.1 83.5 256.4 87.7 259.8 92.9 263.2 98.6 266.6 104.6" stroke="#2061df"/><path d="M266.6 104.6 270.0 110.3 273.4 115.5 277.0 120.6 280.9 125.7 284.9 130.7" stroke="#205bdd"/><path d="M284.9 130.7 288.5 135.2 291.5 139.0 293.8 141.8" stroke="#2079dc"/></g><g stroke-width="1.4" opacity="0.90"><path d="M241.0 73.2 243.0 73.1 245.8 72.8 249.1 72.4 252.7 72.2 256.2 72.1" stroke="#2057dc"/><path d="M256.2 72.1 259.5 72.3 262.6 72.8 265.8 73.3 268.9 74.1 272.0 75.1" stroke="#2072dd"/><path d="M272.0 75.1 275.1 76.4 278.0 78.1 280.9 80.4 283.6 83.2 286.3 86.3" stroke="#2080db"/><path d="M286.3 86.3 289.0 89.5 291.7 92.6 294.3 95.5 297.3 98.2 300.4 101.0" stroke="#207bdc"/><path d="M300.4 101.0 303.5 103.6 306.5 106.1 308.9 108.1 310.7 109.7" stroke="#209fd5"/></g><g stroke-width="1.2" opacity="0.90"><path d="M248.9 74.6 250.7 74.7" stroke="#204bd8"/><path d="M250.7 74.7 253.1 74.8 256.0 74.9 259.2 75.0 262.3 75.1 265.2 75.2" stroke="#204dd9"/><path d="M265.2 75.2 267.9 75.2 270.7 74.9 273.5 74.6 276.2 74.5 278.9 74.9" stroke="#2062df"/><path d="M278.9 74.9 281.5 76.0 283.9 77.9 286.3 80.6 288.6 83.7 290.9 87.0" stroke="#209bd6"/><path d="M290.9 87.0 293.1 90.3 295.4 93.1 297.9 95.8 300.6 98.6 303.3 101.2" stroke="#20a4d4"/><path d="M303.3 101.2 305.8 103.6 307.9 105.7 309.4 107.2" stroke="#209bd6"/></g><g stroke-width="1.2" opacity="0.90"><path d="M225.3 68.9 228.1 69.6" stroke="#203cd3"/><path d="M228.1 69.6 231.9 70.4 236.4 71.5 241.3 72.6 246.2 73.9 250.8 75.2" stroke="#204cd8"/><path d="M250.8 75.2 255.0 76.4 259.3 77.5 263.6 78.7 267.9 80.2 272.1 82.1" stroke="#205ede"/><path d="M272.1 82.1 276.2 84.6 280.3 88.0 284.2 92.1 288.1 96.7 292.0 101.4" stroke="#206ede"/><path d="M292.0 101.4 295.9 106.0 299.8 110.1 304.0 114.1 308.5 118.2 313.0 122.1" stroke="#207fdb"/><path d="M313.0 122.1 317.2 125.7 320.7 128.8 323.3 131.0" stroke="#20a3d4"/></g><g stroke-width="1.4" opacity="0.90"><path d="M204.3 77.2 207.0 77.4 210.8 77.5 215.2 77.8 220.0 78.1" stroke="#1f33c6"/><path d="M220.0 78.1 224.7 78.5 229.2 79.0 233.3 79.7 237.3 80.6 241.4 81.5" stroke="#2051da"/><path d="M241.4 81.5 245.5 82.5 249.7 83.7 254.0 84.9 258.6 86.3 263.3 88.0" stroke="#205ede"/><path d="M263.3 88.0 268.1 89.7 273.0 91.5 277.9 93.2 282.7 94.7 287.8 96.3" stroke="#2061df"/><path d="M287.8 96.3 293.3 97.9 298.8 99.4 303.9 100.8 308.2 101.9 311.4 102.8" stroke="#209ad6"/></g><g stroke-width="1.7" opacity="0.90"><path d="M217.0 84.1 220.2 85.0 224.6 86.3 229.9 87.9 235.5 89.5" stroke="#2043d5"/><path d="M235.5 89.5 241.2 91.3 246.4 92.9 251.4 94.5 256.4 95.9 261.4 97.4" stroke="#204ed9"/><path d="M261.4 97.4 266.3 99.1 271.2 101.0 275.8 103.3 280.3 106.2 284.6 109.5" stroke="#2082db"/><path d="M284.6 109.5 288.8 113.1 292.9 116.8 297.0 120.4 301.2 123.7 305.7 126.9" stroke="#2080db"/><path d="M305.7 126.9 310.5 130.2 315.4 133.3 319.9 136.2 323.7 138.6 326.5 140.4" stroke="#22b3c1"/></g><g stroke-width="2.0" opacity="0.90"><path d="M202.3 77.6 204.6 77.8 207.8 78.1 211.6 78.4 215.7 78.8" stroke="#1d27aa"/><path d="M215.7 78.8 219.7 79.3 223.5 80.0 227.1 80.6 230.7 81.1 234.2 81.8" stroke="#2037d1"/><path d="M234.2 81.8 237.8 82.7 241.3 84.1 244.8 86.1 248.1 88.9 251.4 92.4" stroke="#2056dc"/><path d="M251.4 92.4 254.7 96.4 257.9 100.5 261.1 104.5 264.4 108.1 267.9 111.6" stroke="#205dde"/><path d="M267.9 111.6 271.6 115.1 275.4 118.5 278.9 121.6 281.9 124.3 284.0 126.2" stroke="#2067df"/></g><g stroke-width="1.5" opacity="0.90"><path d="M228.6 78.7 230.4 78.9 232.9 79.2 236.0 79.6 239.2 80.0" stroke="#204dd9"/><path d="M239.2 80.0 242.5 80.4 245.5 80.9 248.4 81.5 251.3 82.0 254.2 82.6" stroke="#2060df"/><path d="M254.2 82.6 257.0 83.3 259.8 84.1 262.5 85.0 265.0 86.1 267.4 87.4" stroke="#2074dd"/><path d="M267.4 87.4 269.7 88.7 272.0 90.1 274.3 91.4 276.7 92.7 279.2 93.9" stroke="#207adc"/><path d="M279.2 93.9 281.9 95.1 284.6 96.3 287.2 97.4 289.3 98.3 290.8 99.0" stroke="#2091d8"/></g><g stroke-width="1.0" opacity="0.85"><path d="M302.5 73.4 303.5 72.9 305.0 72.3 306.7 71.6 308.4 70.5 309.9 69.1" stroke="#2047d7"/><path d="M309.9 69.1 310.9 67.3 311.2 64.5 311.0 61.0 310.5 57.1 310.1 53.3" stroke="#2047d7"/><path d="M310.1 53.3 310.1 50.0 310.9 47.7 312.7 46.4 315.4 45.5 318.4 45.3" stroke="#2047d7"/><path d="M318.4 45.3 321.5 45.5 324.1 46.4 325.9 47.7 327.0 50.1 327.6 53.5" stroke="#2047d7"/><path d="M327.6 53.5 327.8 57.5 327.6 61.5 327.0 64.9 325.9 67.3 323.8 68.2" stroke="#2047d7"/><path d="M323.8 68.2 320.4 68.1 316.6 67.4 313.2 66.7 311.1 66.5 310.9 67.3" stroke="#2047d7"/><path d="M310.9 67.3 313.5 69.3 318.3 72.2 324.4 75.7 330.6 79.1 336.0 82.0" stroke="#2047d7"/><path d="M336.0 82.0 339.7 84.1" stroke="#2047d7"/></g><g stroke-width="1.3" opacity="0.85"><path d="M324.7 85.0 325.7 84.5 327.1 83.9 328.7 83.2 330.3 82.2" stroke="#2053da"/><path d="M330.3 82.2 331.8 80.9 332.7 79.1 333.0 76.5 332.8 73.1 332.3 69.4" stroke="#2053da"/><path d="M332.3 69.4 332.0 65.8 332.0 62.7 332.7 60.5 334.4 59.2 337.0 58.4" stroke="#2053da"/><path d="M337.0 58.4 339.9 58.2 342.8 58.4 345.3 59.2 347.0 60.5 348.0 62.7" stroke="#2053da"/><path d="M348.0 62.7 348.6 66.0 348.8 69.8 348.6 73.6 348.0 76.9 347.0 79.1" stroke="#2053da"/><path d="M347.0 79.1 345.0 80.0 341.8 79.9 338.2 79.3 334.9 78.6 332.9 78.4" stroke="#2053da"/><path d="M332.9 78.4 332.7 79.1 335.2 81.0 339.8 83.8 345.5 87.1 351.4 90.3" stroke="#2053da"/><path d="M351.4 90.3 356.6 93.1 360.1 95.1" stroke="#2053da"/></g><g stroke-width="1.2" opacity="0.85"><path d="M285.8 106.9 286.7 106.4 288.2 105.9 289.8 105.1 291.5 104.1 292.9 102.8" stroke="#2060df"/><path d="M292.9 102.8 293.9 101.0 294.2 98.3 294.0 94.9 293.5 91.1 293.2 87.4" stroke="#2060df"/><path d="M293.2 87.4 293.2 84.2 293.9 82.0 295.7 80.7 298.2 79.9 301.2 79.6" stroke="#2060df"/><path d="M301.2 79.6 304.2 79.9 306.7 80.7 308.5 82.0 309.5 84.3 310.1 87.6" stroke="#2060df"/><path d="M310.1 87.6 310.3 91.5 310.1 95.3 309.5 98.7 308.5 101.0 306.4 101.9" stroke="#2060df"/><path d="M306.4 101.9 303.1 101.8 299.5 101.1 296.2 100.5 294.1 100.2 293.9 101.0" stroke="#2060df"/><path d="M293.9 101.0 296.4 102.9 301.1 105.8 307.0 109.1 313.0 112.4 318.3 115.3" stroke="#2060df"/><path d="M318.3 115.3 321.8 117.2" stroke="#2060df"/></g><g stroke-width="0.9" opacity="0.85"><path d="M323.4 72.3 324.1 71.9 325.2 71.5" stroke="#204bd8"/><path d="M325.2 71.5 326.4 71.0 327.6 70.3 328.6 69.3 329.3 68.0 329.6 66.1" stroke="#204bd8"/><path d="M329.6 66.1 329.4 63.6 329.1 60.8 328.8 58.1 328.8 55.8 329.3 54.2" stroke="#204bd8"/><path d="M329.3 54.2 330.6 53.3 332.5 52.7 334.6 52.5 336.8 52.7 338.6 53.3" stroke="#204bd8"/><path d="M338.6 53.3 339.9 54.2 340.6 55.9 341.1 58.3 341.2 61.1 341.1 63.9" stroke="#204bd8"/><path d="M341.1 63.9 340.6 66.3 339.9 68.0 338.4 68.6 336.0 68.5 333.4 68.1" stroke="#204bd8"/><path d="M333.4 68.1 331.0 67.6 329.4 67.4 329.3 68.0 331.2 69.4 334.5 71.5" stroke="#204bd8"/><path d="M334.5 71.5 338.8 73.9 343.2 76.3 347.0 78.3 349.5 79.8" stroke="#204bd8"/></g><g stroke-width="1.0" opacity="0.85"><path d="M306.6 104.0 307.2 103.7 308.1 103.3 309.2 102.9 310.2 102.3 311.1 101.4" stroke="#205cdd"/><path d="M311.1 101.4 311.7 100.3 311.9 98.6 311.7 96.5 311.5 94.1 311.2 91.8" stroke="#205cdd"/><path d="M311.2 91.8 311.2 89.8 311.7 88.4 312.8 87.6 314.4 87.1 316.3 86.9" stroke="#205cdd"/><path d="M316.3 86.9 318.1 87.1 319.7 87.6 320.8 88.4 321.5 89.8 321.8 91.9" stroke="#205cdd"/><path d="M321.8 91.9 322.0 94.3 321.8 96.8 321.5 98.8 320.8 100.3 319.5 100.8" stroke="#205cdd"/><path d="M319.5 100.8 317.5 100.8 315.2 100.4 313.1 100.0 311.8 99.8 311.7 100.3" stroke="#205cdd"/><path d="M311.7 100.3 313.3 101.5 316.2 103.3 319.9 105.4 323.7 107.5 327.0 109.2" stroke="#205cdd"/><path d="M327.0 109.2 329.2 110.5" stroke="#205cdd"/></g><g stroke-width="1.0" opacity="0.85"><path d="M320.0 80.3 320.7 79.9" stroke="#2057dc"/><path d="M320.7 79.9 321.7 79.6 322.8 79.1 323.9 78.4 324.9 77.5 325.5 76.2" stroke="#2057dc"/><path d="M325.5 76.2 325.7 74.5 325.6 72.2 325.3 69.6 325.0 67.1 325.0 65.0" stroke="#2057dc"/><path d="M325.0 65.0 325.5 63.5 326.7 62.6 328.4 62.1 330.4 61.9 332.4 62.1" stroke="#2057dc"/><path d="M332.4 62.1 334.2 62.6 335.3 63.5 336.0 65.0 336.4 67.3 336.6 69.9" stroke="#2057dc"/><path d="M336.6 69.9 336.4 72.5 336.0 74.7 335.3 76.2 333.9 76.9 331.7 76.8" stroke="#2057dc"/><path d="M331.7 76.8 329.3 76.4 327.0 75.9 325.6 75.8 325.5 76.2 327.2 77.6" stroke="#2057dc"/><path d="M327.2 77.6 330.4 79.5 334.3 81.7 338.4 84.0 341.9 85.9 344.3 87.2" stroke="#2057dc"/></g><g stroke-width="1.2" opacity="0.85"><path d="M293.8 106.9 294.8 106.4 296.2 105.8 297.8 105.1 299.4 104.2" stroke="#207bdc"/><path d="M299.4 104.2 300.8 102.8 301.7 101.1 302.0 98.6 301.8 95.3 301.3 91.6" stroke="#207bdc"/><path d="M301.3 91.6 301.0 88.0 301.0 85.0 301.7 82.9 303.4 81.6 305.9 80.8" stroke="#207bdc"/><path d="M305.9 80.8 308.7 80.6 311.6 80.8 314.1 81.6 315.7 82.9 316.7 85.1" stroke="#207bdc"/><path d="M316.7 85.1 317.3 88.3 317.5 92.0 317.3 95.7 316.7 98.9 315.7 101.1" stroke="#207bdc"/><path d="M315.7 101.1 313.7 102.0 310.6 101.9 307.0 101.3 303.9 100.6 301.8 100.4" stroke="#207bdc"/><path d="M301.8 100.4 301.7 101.1 304.1 103.0 308.6 105.7 314.3 108.9 320.1 112.1" stroke="#207bdc"/><path d="M320.1 112.1 325.2 114.9 328.6 116.8" stroke="#207bdc"/></g><g stroke-width="1.1" opacity="0.85"><path d="M318.4 68.8 319.2 68.4 320.3 68.0" stroke="#206adf"/><path d="M320.3 68.0 321.6 67.4 322.9 66.6 324.0 65.5 324.8 64.1 325.0 62.1" stroke="#206adf"/><path d="M325.0 62.1 324.9 59.4 324.5 56.4 324.2 53.5 324.2 51.0 324.8 49.3" stroke="#206adf"/><path d="M324.8 49.3 326.2 48.3 328.2 47.7 330.5 47.5 332.8 47.7 334.8 48.3" stroke="#206adf"/><path d="M334.8 48.3 336.2 49.3 337.0 51.1 337.5 53.7 337.6 56.7 337.5 59.7" stroke="#206adf"/><path d="M337.5 59.7 337.0 62.3 336.2 64.1 334.6 64.8 332.0 64.8 329.1 64.3" stroke="#206adf"/><path d="M329.1 64.3 326.6 63.7 324.9 63.6 324.8 64.1 326.8 65.7 330.4 67.9" stroke="#206adf"/><path d="M330.4 67.9 335.0 70.5 339.7 73.1 343.9 75.3 346.6 76.9" stroke="#206adf"/></g><g stroke-width="1.2" opacity="0.85"><path d="M318.5 71.7 319.0 71.4 319.9 71.1 320.9 70.6 321.9 70.0" stroke="#2051da"/><path d="M321.9 70.0 322.7 69.2 323.3 68.1 323.5 66.6 323.4 64.5 323.1 62.3" stroke="#2051da"/><path d="M323.1 62.3 322.9 60.1 322.9 58.2 323.3 56.8 324.4 56.1 325.9 55.6" stroke="#2051da"/><path d="M325.9 55.6 327.7 55.4 329.4 55.6 331.0 56.1 332.0 56.8 332.6 58.2" stroke="#2051da"/><path d="M332.6 58.2 333.0 60.2 333.1 62.5 333.0 64.8 332.6 66.8 332.0 68.1" stroke="#2051da"/><path d="M332.0 68.1 330.8 68.7 328.8 68.6 326.6 68.2 324.7 67.8 323.4 67.7" stroke="#2051da"/><path d="M323.4 67.7 323.3 68.1 324.8 69.3 327.6 71.0 331.1 73.0 334.7 75.0" stroke="#2051da"/><path d="M334.7 75.0 337.8 76.7 339.9 77.8" stroke="#2051da"/></g><g stroke-width="1.1" opacity="0.85"><path d="M321.5 84.8 322.3 84.3 323.5 83.9 325.0 83.2 326.4 82.4" stroke="#205add"/><path d="M326.4 82.4 327.6 81.2 328.4 79.7 328.7 77.5 328.5 74.5 328.1 71.3" stroke="#205add"/><path d="M328.1 71.3 327.8 68.2 327.8 65.5 328.4 63.6 329.9 62.5 332.1 61.8" stroke="#205add"/><path d="M332.1 61.8 334.6 61.6 337.1 61.8 339.3 62.5 340.8 63.6 341.7 65.5" stroke="#205add"/><path d="M341.7 65.5 342.2 68.4 342.4 71.6 342.2 74.9 341.7 77.7 340.8 79.7" stroke="#205add"/><path d="M340.8 79.7 339.0 80.5 336.3 80.4 333.1 79.8 330.3 79.3 328.5 79.1" stroke="#205add"/><path d="M328.5 79.1 328.4 79.7 330.6 81.4 334.5 83.8 339.5 86.6 344.7 89.4" stroke="#205add"/><path d="M344.7 89.4 349.1 91.9 352.1 93.5" stroke="#205add"/></g><g stroke-width="1.7" opacity="0.90"><path d="M272.8 135.7 275.9 133.6 280.3 130.7 285.4 127.3 290.9 123.5" stroke="#206ede"/><path d="M290.9 123.5 296.2 119.4 300.8 115.2 304.9 110.7 308.8 105.8 312.6 100.7" stroke="#2091d8"/><path d="M312.6 100.7 316.2 95.4 319.6 89.9 322.8 84.5 325.8 78.8 328.6 72.9" stroke="#22b3c0"/><path d="M328.6 72.9 331.2 66.8 333.6 60.9 335.9 55.2 338.1 50.1 340.2 45.4" stroke="#20aed2"/><path d="M340.2 45.4 342.2 40.8 344.1 36.5 345.8 32.7 347.2 29.6 348.3 27.2" stroke="#24b6b0"/></g><g stroke-width="1.7" opacity="0.90"><path d="M301.2 134.4 302.9 132.5 305.4 130.0" stroke="#2087da"/><path d="M305.4 130.0 308.3 127.0 311.4 123.7 314.3 120.0 316.7 116.3 318.6 112.3" stroke="#208fd8"/><path d="M318.6 112.3 320.2 108.1 321.7 103.7 323.1 99.0 324.5 94.1 326.2 89.0" stroke="#20a7d4"/><path d="M326.2 89.0 328.1 83.5 330.2 77.4 332.3 71.2 334.4 64.9 336.4 59.1" stroke="#21b1cb"/><path d="M336.4 59.1 338.2 53.8 339.9 48.9 341.5 44.2 343.0 39.8 344.3 35.9" stroke="#22b3c0"/><path d="M344.3 35.9 345.4 32.7 346.3 30.3" stroke="#26b9a1"/></g><g stroke-width="1.4" opacity="0.90"><path d="M319.4 158.0 320.4 155.9" stroke="#20aed2"/><path d="M320.4 155.9 321.8 153.1 323.5 149.7 325.3 145.8 326.9 141.7 328.1 137.4" stroke="#23b4ba"/><path d="M328.1 137.4 328.8 133.0 329.3 128.2 329.7 123.1 329.9 117.8 330.3 112.3" stroke="#25b7ab"/><path d="M330.3 112.3 330.8 106.5 331.4 100.2 332.2 93.4 333.0 86.4 333.8 79.4" stroke="#23b5b7"/><path d="M333.8 79.4 334.6 72.8 335.3 66.9 335.9 61.4 336.6 56.1 337.1 51.2" stroke="#23b5b9"/><path d="M337.1 51.2 337.6 46.8 338.0 43.2 338.4 40.5" stroke="#29be88"/></g><g stroke-width="1.1" opacity="0.90"><path d="M302.4 122.0 303.9 120.5" stroke="#209ad6"/><path d="M303.9 120.5 306.0 118.4 308.4 115.9 310.9 113.1 313.3 110.0 315.2 106.9" stroke="#2091d8"/><path d="M315.2 106.9 316.7 103.6 318.0 99.9 319.1 96.1 320.2 92.1 321.1 88.1" stroke="#209ad6"/><path d="M321.1 88.1 321.9 84.2 322.7 80.3 323.4 76.3 323.9 72.2 324.4 68.2" stroke="#20acd3"/><path d="M324.4 68.2 324.9 64.5 325.4 61.1 325.8 57.9 326.3 54.8 326.7 51.9" stroke="#20a6d4"/><path d="M326.7 51.9 327.1 49.3 327.4 47.2 327.6 45.6" stroke="#22b2c5"/></g><g stroke-width="1.8" opacity="0.90"><path d="M257.7 120.7 261.8 119.0 267.7 116.8 274.6 114.2 281.9 111.2" stroke="#2081db"/><path d="M281.9 111.2 289.1 107.9 295.4 104.6 301.1 101.1 306.7 97.3 312.0 93.4" stroke="#20a8d3"/><path d="M312.0 93.4 317.2 89.2 322.3 84.9 327.2 80.4 332.1 75.7 336.9 70.6" stroke="#20abd3"/><path d="M336.9 70.6 341.6 65.3 346.0 60.1 350.3 55.1 354.2 50.7 357.9 46.6" stroke="#2dc36c"/><path d="M357.9 46.6 361.5 42.6 364.8 38.9 367.8 35.6 370.3 32.9 372.1 30.8" stroke="#31c850"/></g><g stroke-width="1.3" opacity="0.90"><path d="M297.2 163.6 298.9 161.1 301.4 157.8 304.3 153.8" stroke="#209fd5"/><path d="M304.3 153.8 307.3 149.3 310.1 144.5 312.4 139.5 314.3 134.2 315.8 128.4" stroke="#2097d7"/><path d="M315.8 128.4 317.1 122.3 318.5 116.0 319.9 109.6 321.7 103.3 323.8 96.7" stroke="#20b0d0"/><path d="M323.8 96.7 326.2 89.9 328.7 83.0 331.3 76.2 333.7 69.8 335.8 64.0" stroke="#23b5b6"/><path d="M335.8 64.0 337.8 58.5 339.7 53.3 341.4 48.4 343.0 44.1 344.3 40.5" stroke="#27ba9a"/><path d="M344.3 40.5 345.3 37.8" stroke="#2abf82"/></g><g stroke-width="1.7" opacity="0.90"><path d="M250.6 153.4 253.3 151.3 257.1 148.5 261.5 145.1 266.2 141.3" stroke="#2061df"/><path d="M266.2 141.3 270.7 137.2 274.6 132.9 278.0 128.5 281.1 123.7 284.0 118.6" stroke="#2064e0"/><path d="M284.0 118.6 286.8 113.3 289.7 107.8 292.7 102.2 295.9 96.3 299.2 89.9" stroke="#2083da"/><path d="M299.2 89.9 302.6 83.3 305.9 76.8 309.0 70.6 311.9 65.1 314.5 59.9" stroke="#208cd9"/><path d="M314.5 59.9 317.1 55.0 319.5 50.3 321.6 46.2 323.3 42.8 324.7 40.3" stroke="#20a6d4"/></g><g stroke-width="1.0" opacity="0.90"><path d="M293.5 153.9 295.9 151.4 299.3 148.0" stroke="#2088d9"/><path d="M299.3 148.0 303.2 143.9 307.4 139.4 311.4 134.4 314.9 129.3 317.8 124.0" stroke="#20a2d5"/><path d="M317.8 124.0 320.4 118.1 322.9 112.0 325.3 105.6 327.8 99.0 330.3 92.4" stroke="#22b3c3"/><path d="M330.3 92.4 333.1 85.6 335.9 78.4 338.8 71.0 341.6 63.7 344.3 56.8" stroke="#25b7ac"/><path d="M344.3 56.8 346.8 50.6 349.0 44.8 351.2 39.3 353.3 34.1 355.1 29.4" stroke="#27ba9c"/><path d="M355.1 29.4 356.6 25.6 357.7 22.7" stroke="#28bc91"/></g><g stroke-width="1.7" opacity="0.90"><path d="M281.4 146.6 283.4 144.5" stroke="#207adc"/><path d="M283.4 144.5 286.3 141.7 289.7 138.4 293.2 134.6 296.6 130.5 299.5 126.3" stroke="#207ddb"/><path d="M299.5 126.3 301.9 121.9 304.1 117.2 306.1 112.2 308.0 107.0 309.9 101.5" stroke="#2097d7"/><path d="M309.9 101.5 311.6 95.9 313.2 89.8 314.8 83.2 316.2 76.4 317.6 69.7" stroke="#22b3c1"/><path d="M317.6 69.7 318.9 63.3 320.1 57.6 321.2 52.3 322.4 47.2 323.4 42.4" stroke="#23b4bb"/><path d="M323.4 42.4 324.3 38.2 325.1 34.7 325.7 32.1" stroke="#20b1cf"/></g><g stroke-width="1.6" opacity="0.90"><path d="M261.5 137.4 265.1 135.4 270.3 132.8 276.3 129.6 282.7 126.0 289.0 122.1" stroke="#206adf"/><path d="M289.0 122.1 294.5 118.1 299.4 114.0 304.1 109.6 308.7 104.9 313.1 100.0" stroke="#209dd6"/><path d="M313.1 100.0 317.4 94.7 321.6 89.2 325.8 83.0 330.0 76.2 334.1 69.2" stroke="#27ba9d"/><path d="M334.1 69.2 338.0 62.1 341.8 55.5 345.2 49.5 348.5 44.0 351.6 38.7" stroke="#26b8a5"/><path d="M351.6 38.7 354.5 33.8 357.1 29.4 359.3 25.8 360.9 23.0" stroke="#29bd8a"/></g><g stroke-width="1.1" opacity="0.90"><path d="M267.0 154.0 269.4 151.5" stroke="#2083da"/><path d="M269.4 151.5 272.8 148.1 276.8 144.1 281.0 139.6 285.1 134.7 288.6 129.7" stroke="#2086da"/><path d="M288.6 129.7 291.5 124.3 294.2 118.6 296.7 112.4 299.1 106.1 301.6 99.6" stroke="#208ad9"/><path d="M301.6 99.6 304.1 93.2 306.7 86.6 309.4 79.7 312.2 72.6 314.8 65.7" stroke="#209ed5"/><path d="M314.8 65.7 317.3 59.2 319.6 53.2 321.7 47.7 323.8 42.4 325.7 37.4" stroke="#25b8a6"/><path d="M325.7 37.4 327.4 33.0 328.8 29.3 329.9 26.6" stroke="#22b3c4"/></g><g stroke-width="1.5" opacity="0.90"><path d="M299.8 154.5 301.3 152.5 303.3 149.7 305.7 146.4" stroke="#20a7d4"/><path d="M305.7 146.4 308.2 142.7 310.6 138.7 312.5 134.6 313.9 130.3 315.2 125.7" stroke="#21b1ca"/><path d="M315.2 125.7 316.3 120.9 317.3 115.8 318.2 110.4 319.1 104.7 319.9 98.6" stroke="#25b7aa"/><path d="M319.9 98.6 320.7 91.8 321.3 84.8 322.0 77.8 322.6 71.2 323.1 65.3" stroke="#26b99f"/><path d="M323.1 65.3 323.7 59.9 324.3 54.6 324.8 49.7 325.2 45.4 325.6 41.8" stroke="#26b99f"/><path d="M325.6 41.8 325.9 39.1" stroke="#26b9a0"/></g><g stroke-width="1.1" opacity="0.90"><path d="M266.9 152.0 269.3 150.0 272.6 147.2" stroke="#2061df"/><path d="M272.6 147.2 276.5 144.0 280.6 140.3 284.5 136.3 287.9 132.2 290.7 128.0" stroke="#2074dd"/><path d="M290.7 128.0 293.2 123.5 295.5 118.7 297.8 113.6 300.2 108.2 302.8 102.5" stroke="#2092d7"/><path d="M302.8 102.5 305.8 96.2 309.0 89.2 312.3 81.9 315.6 74.7 318.7 67.8" stroke="#20a8d3"/><path d="M318.7 67.8 321.5 61.6 324.1 56.0 326.6 50.5 328.9 45.4 330.9 40.9" stroke="#22b3c1"/><path d="M330.9 40.9 332.7 37.2 333.9 34.4" stroke="#26b99f"/></g><g stroke-width="1.1" opacity="0.90"><path d="M282.5 123.0 284.3 121.4 286.8 119.2 289.8 116.6 292.8 113.7" stroke="#2094d7"/><path d="M292.8 113.7 295.7 110.5 298.2 107.2 300.1 103.8 301.6 100.0 303.0 96.0" stroke="#2097d7"/><path d="M303.0 96.0 304.4 91.8 306.0 87.7 307.8 83.6 310.0 79.4 312.6 75.1" stroke="#2086da"/><path d="M312.6 75.1 315.3 70.7 317.9 66.4 320.5 62.4 322.8 58.7 324.8 55.3" stroke="#2097d7"/><path d="M324.8 55.3 326.8 51.9 328.7 48.9 330.3 46.1 331.7 43.8 332.7 42.1" stroke="#20acd3"/></g><g stroke-width="1.6" opacity="0.90"><path d="M313.5 155.9 315.9 153.6 319.3 150.7 323.2 147.1" stroke="#24b5b5"/><path d="M323.2 147.1 327.4 143.1 331.4 138.7 334.9 134.3 337.8 129.6 340.6 124.6" stroke="#28bb94"/><path d="M340.6 124.6 343.1 119.3 345.5 113.8 347.9 108.0 350.3 101.9 352.7 95.4" stroke="#29bd8c"/><path d="M352.7 95.4 355.0 88.2 357.3 80.9 359.5 73.6 361.6 66.6 363.6 60.4" stroke="#2bc07b"/><path d="M363.6 60.4 365.4 54.7 367.2 49.1 368.8 44.0 370.3 39.4 371.5 35.6" stroke="#2dc369"/><path d="M371.5 35.6 372.4 32.7" stroke="#2ec561"/></g><g stroke-width="1.6" opacity="0.90"><path d="M284.6 141.3 287.3 139.1 291.2 136.1" stroke="#2091d8"/><path d="M291.2 136.1 295.8 132.5 300.6 128.4 305.3 124.1 309.3 119.6 312.9 114.9" stroke="#20a0d5"/><path d="M312.9 114.9 316.2 109.9 319.4 104.5 322.5 98.9 325.4 93.1 328.1 87.1" stroke="#24b5b5"/><path d="M328.1 87.1 330.7 80.6 333.1 73.6 335.3 66.4 337.4 59.2 339.4 52.5" stroke="#28bc93"/><path d="M339.4 52.5 341.3 46.4 343.1 40.7 344.8 35.3 346.5 30.3 347.9 25.8" stroke="#29be89"/><path d="M347.9 25.8 349.1 22.0 350.0 19.2" stroke="#2bc177"/></g><g stroke-width="1.8" opacity="0.90"><path d="M277.1 149.3 279.7 147.1 283.4 144.2 287.7 140.7 292.3 136.7" stroke="#20a0d5"/><path d="M292.3 136.7 296.7 132.5 300.5 128.1 303.8 123.6 306.7 118.7 309.6 113.5" stroke="#21b1ce"/><path d="M309.6 113.5 312.3 108.0 315.1 102.3 318.0 96.5 321.0 90.1 324.2 83.3" stroke="#23b4bc"/><path d="M324.2 83.3 327.3 76.2 330.4 69.2 333.4 62.6 336.0 56.6 338.5 51.1" stroke="#23b4ba"/><path d="M338.5 51.1 340.9 45.8 343.2 40.8 345.2 36.4 346.8 32.8 348.1 30.0" stroke="#26b9a2"/></g><g stroke-width="1.8" opacity="0.90"><path d="M266.8 131.6 270.8 129.5 276.3 126.6" stroke="#2065e0"/><path d="M276.3 126.6 282.8 123.2 289.8 119.3 296.5 115.2 302.6 110.9 307.9 106.3" stroke="#20a1d5"/><path d="M307.9 106.3 313.1 101.3 318.2 96.1 323.0 90.6 327.7 85.2 332.3 79.8" stroke="#20acd3"/><path d="M332.3 79.8 336.8 74.3 341.2 68.6 345.4 62.9 349.4 57.3 353.2 52.0" stroke="#25b8a7"/><path d="M353.2 52.0 356.7 47.1 360.1 42.6 363.4 38.3 366.4 34.2 369.1 30.6" stroke="#33c94d"/><path d="M369.1 30.6 371.3 27.6 373.0 25.4" stroke="#36ca4b"/></g><g stroke-width="1.2" opacity="0.90"><path d="M288.3 151.4 290.3 149.2" stroke="#2092d7"/><path d="M290.3 149.2 293.2 146.4 296.6 142.9 300.2 139.0 303.6 134.9 306.5 130.6" stroke="#20a6d4"/><path d="M306.5 130.6 308.8 126.1 310.8 121.4 312.6 116.5 314.5 111.2 316.4 105.5" stroke="#21b2c9"/><path d="M316.4 105.5 318.7 99.4 321.3 92.5 324.2 84.9 327.2 77.0 330.2 69.0" stroke="#20b0d0"/><path d="M330.2 69.0 333.1 61.5 335.6 54.7 338.0 48.5 340.2 42.6 342.3 37.0" stroke="#20acd3"/><path d="M342.3 37.0 344.2 32.1 345.8 28.0 346.9 24.9" stroke="#23b5b6"/></g><g stroke-width="1.1" opacity="0.90"><path d="M270.5 140.1 274.0 138.1" stroke="#2079dc"/><path d="M274.0 138.1 279.0 135.4 284.9 132.1 291.1 128.5 297.2 124.6 302.6 120.5" stroke="#2081db"/><path d="M302.6 120.5 307.3 116.2 311.8 111.6 316.2 106.7 320.4 101.6 324.5 96.4" stroke="#20a0d5"/><path d="M324.5 96.4 328.6 91.1 332.8 85.7 336.9 79.9 340.9 74.0 344.8 68.1" stroke="#24b6b0"/><path d="M344.8 68.1 348.5 62.6 351.8 57.7 355.1 53.0 358.2 48.6 361.0 44.4" stroke="#27bb98"/><path d="M361.0 44.4 363.6 40.7 365.7 37.7 367.3 35.4" stroke="#2fc65b"/></g><g stroke-width="1.7" opacity="0.90"><path d="M291.3 142.6 293.1 140.9 295.7 138.5 298.7 135.6" stroke="#20a9d3"/><path d="M298.7 135.6 301.8 132.4 304.8 128.9 307.2 125.4 309.3 121.6 311.2 117.7" stroke="#22b2c5"/><path d="M311.2 117.7 312.9 113.4 314.4 109.0 315.8 104.3 317.1 99.5 318.3 94.3" stroke="#21b2c8"/><path d="M318.3 94.3 319.3 88.6 320.2 82.7 321.0 76.9 321.8 71.4 322.5 66.5" stroke="#22b2c6"/><path d="M322.5 66.5 323.2 61.9 323.9 57.5 324.6 53.4 325.2 49.8 325.7 46.7" stroke="#22b2c5"/><path d="M325.7 46.7 326.1 44.5" stroke="#21b2c9"/></g><g stroke-width="1.6" opacity="0.90"><path d="M256.9 127.5 261.1 125.7" stroke="#206cde"/><path d="M261.1 125.7 267.0 123.2 274.0 120.2 281.4 116.9 288.6 113.3 295.0 109.5" stroke="#2090d8"/><path d="M295.0 109.5 300.8 105.6 306.4 101.4 311.8 96.9 317.1 92.3 322.2 87.4" stroke="#23b4bb"/><path d="M322.2 87.4 327.1 82.5 331.9 77.2 336.5 71.6 341.0 65.7 345.2 59.9" stroke="#2abf7e"/><path d="M345.2 59.9 349.2 54.5 352.9 49.6 356.5 45.0 359.9 40.6 363.1 36.5" stroke="#34c94c"/><path d="M363.1 36.5 366.0 32.9 368.4 29.9 370.1 27.6" stroke="#2fc65a"/></g><g stroke-width="1.4" opacity="0.90"><path d="M259.1 126.6 262.0 124.8" stroke="#206fde"/><path d="M262.0 124.8 266.1 122.5 270.9 119.7 276.0 116.6 280.9 113.3 285.2 109.8" stroke="#2084da"/><path d="M285.2 109.8 288.9 106.1 292.4 102.2 295.8 98.1 299.0 93.7 302.1 89.2" stroke="#20a3d4"/><path d="M302.1 89.2 305.2 84.6 308.2 79.8 311.2 74.6 314.0 69.2 316.7 63.9" stroke="#23b4bb"/><path d="M316.7 63.9 319.3 58.9 321.7 54.4 324.0 50.2 326.2 46.2 328.2 42.4" stroke="#27bb97"/><path d="M328.2 42.4 330.0 39.1 331.5 36.3 332.7 34.2" stroke="#27ba9d"/></g><g stroke-width="1.5" opacity="0.90"><path d="M277.0 163.2 279.3 160.9 282.6 157.7 286.4 153.9 290.5 149.6 294.4 145.0" stroke="#208bd9"/><path d="M294.4 145.0 297.7 140.2 300.5 135.2 303.0 129.8 305.3 124.0 307.6 118.0" stroke="#2082da"/><path d="M307.6 118.0 309.9 111.9 312.4 105.7 315.1 99.2 318.0 92.3 320.9 85.3" stroke="#20a9d3"/><path d="M320.9 85.3 323.8 78.3 326.6 71.7 329.0 65.8 331.3 60.3 333.6 55.0" stroke="#22b3c4"/><path d="M333.6 55.0 335.6 50.0 337.5 45.6 339.0 41.9 340.1 39.2" stroke="#25b8a7"/></g><g stroke-width="1.4" opacity="0.90"><path d="M250.2 142.0 253.9 139.8 259.0 136.9 265.1 133.4 271.5 129.5" stroke="#2074dd"/><path d="M271.5 129.5 277.7 125.2 283.3 120.9 288.2 116.2 292.9 111.3 297.4 106.0" stroke="#209fd5"/><path d="M297.4 106.0 301.9 100.5 306.2 94.9 310.4 89.1 314.6 83.0 318.7 76.5" stroke="#20a1d5"/><path d="M318.7 76.5 322.7 69.8 326.6 63.1 330.2 56.9 333.6 51.2 336.8 46.0" stroke="#22b2c4"/><path d="M336.8 46.0 340.0 41.0 342.8 36.3 345.4 32.1 347.5 28.6 349.1 26.0" stroke="#29bd8c"/></g><g stroke-width="1.7" opacity="0.90"><path d="M272.5 122.9 275.0 120.9 278.5 118.2 282.6 114.9 286.9 111.2 291.0 107.3" stroke="#208cd9"/><path d="M291.0 107.3 294.7 103.2 297.7 98.9 300.4 94.1 302.9 89.1 305.5 83.9" stroke="#20afd2"/><path d="M305.5 83.9 308.0 78.7 310.8 73.6 313.9 68.5 317.1 63.1 320.4 57.7" stroke="#20a6d4"/><path d="M320.4 57.7 323.7 52.5 326.8 47.5 329.6 43.0 332.2 38.7 334.7 34.6" stroke="#27bb96"/><path d="M334.7 34.6 337.0 30.8 339.1 27.5 340.8 24.6 342.1 22.5" stroke="#2abf7f"/></g><g stroke-width="1.5" opacity="0.90"><path d="M306.3 123.6 309.2 121.5" stroke="#20b0d0"/><path d="M309.2 121.5 313.3 118.7 318.1 115.4 323.2 111.7 328.1 107.7 332.4 103.6" stroke="#25b8a7"/><path d="M332.4 103.6 336.2 99.2 339.8 94.5 343.2 89.5 346.5 84.3 349.6 79.0" stroke="#2dc465"/><path d="M349.6 79.0 352.5 73.6 355.2 68.0 357.7 62.0 360.1 55.9 362.3 49.9" stroke="#35ca4b"/><path d="M362.3 49.9 364.3 44.2 366.3 39.1 368.2 34.3 370.1 29.7 371.8 25.4" stroke="#33c94d"/><path d="M371.8 25.4 373.3 21.6 374.6 18.4 375.5 16.1" stroke="#33c94d"/></g><g stroke-width="1.2" opacity="0.90"><path d="M256.7 120.9 259.8 119.1 264.3 116.7" stroke="#2074dd"/><path d="M264.3 116.7 269.5 113.9 275.0 110.7 280.4 107.3 285.1 103.7 289.2 100.0" stroke="#2077dc"/><path d="M289.2 100.0 293.0 96.0 296.7 91.8 300.3 87.4 303.9 82.8 307.5 78.0" stroke="#2081db"/><path d="M307.5 78.0 311.4 72.9 315.3 67.5 319.2 61.8 323.0 56.2 326.6 50.9" stroke="#209ed5"/><path d="M326.6 50.9 329.9 46.1 333.0 41.7 336.0 37.4 338.8 33.5 341.2 29.9" stroke="#26b99f"/><path d="M341.2 29.9 343.3 27.0 344.8 24.8" stroke="#2ec561"/></g><g stroke-width="1.6" opacity="0.90"><path d="M283.5 120.8 285.6 119.2" stroke="#206adf"/><path d="M285.6 119.2 288.5 117.1 291.9 114.5 295.5 111.6 298.9 108.5 301.8 105.2" stroke="#207adc"/><path d="M301.8 105.2 304.1 101.9 306.1 98.2 308.0 94.4 309.8 90.4 311.8 86.2" stroke="#2095d7"/><path d="M311.8 86.2 314.0 81.8 316.6 77.2 319.4 72.1 322.3 66.9 325.3 61.7" stroke="#21b1cd"/><path d="M325.3 61.7 328.0 56.8 330.5 52.4 332.8 48.4 335.0 44.4 337.1 40.8" stroke="#27bb97"/><path d="M337.1 40.8 338.9 37.6 340.4 34.9 341.5 32.8" stroke="#2dc369"/></g><g stroke-width="1.3" opacity="0.90"><path d="M286.2 144.6 288.8 142.5 292.3 139.6" stroke="#209cd6"/><path d="M292.3 139.6 296.4 136.1 300.8 132.3 305.0 128.1 308.7 123.8 311.8 119.2" stroke="#20add3"/><path d="M311.8 119.2 314.8 114.1 317.6 108.8 320.2 103.3 322.7 97.8 325.1 92.5" stroke="#24b7ae"/><path d="M325.1 92.5 327.4 87.1 329.6 81.6 331.7 76.0 333.6 70.6 335.5 65.4" stroke="#28bd8d"/><path d="M335.5 65.4 337.2 60.8 338.9 56.4 340.5 52.1 342.0 48.2 343.3 44.7" stroke="#2abf82"/><path d="M343.3 44.7 344.4 41.8 345.3 39.6" stroke="#29bd8b"/></g><g stroke-width="1.0" opacity="0.90"><path d="M307.0 156.9 308.0 154.4 309.6 151.2 311.4 147.2 313.2 142.8 314.8 138.1" stroke="#209cd6"/><path d="M314.8 138.1 316.1 133.2 317.0 128.0 317.6 122.3 318.1 116.3 318.5 110.1" stroke="#20aed2"/><path d="M318.5 110.1 318.8 103.8 319.3 97.7 319.7 91.4 320.1 84.9 320.5 78.3" stroke="#21b2c6"/><path d="M320.5 78.3 320.9 71.9 321.3 65.8 321.6 60.3 321.9 55.1 322.2 50.1" stroke="#20a5d4"/><path d="M322.2 50.1 322.5 45.5 322.8 41.4 323.0 37.9 323.1 35.4" stroke="#24b6b0"/></g><g stroke-width="1.6" opacity="0.90"><path d="M319.5 138.3 321.2 136.3" stroke="#22b3c1"/><path d="M321.2 136.3 323.6 133.8 326.5 130.8 329.4 127.3 332.2 123.6 334.6 119.8" stroke="#21b2c7"/><path d="M334.6 119.8 336.4 115.8 338.0 111.5 339.4 107.0 340.8 102.2 342.1 97.2" stroke="#25b7aa"/><path d="M342.1 97.2 343.6 92.1 345.1 86.6 346.7 80.6 348.3 74.4 349.9 68.3" stroke="#2abf81"/><path d="M349.9 68.3 351.3 62.5 352.7 57.2 353.9 52.4 355.2 47.8 356.3 43.4" stroke="#28bc92"/><path d="M356.3 43.4 357.3 39.6 358.1 36.4 358.8 34.0" stroke="#28bc91"/></g><g stroke-width="1.3" opacity="0.90"><path d="M271.1 133.2 273.9 131.3 277.8 128.7 282.4 125.7" stroke="#2097d7"/><path d="M282.4 125.7 287.3 122.2 292.0 118.5 296.1 114.6 299.6 110.5 302.7 106.1" stroke="#20b1ce"/><path d="M302.7 106.1 305.7 101.3 308.7 96.5 311.8 91.5 315.1 86.7 318.7 81.8" stroke="#20a9d3"/><path d="M318.7 81.8 322.6 76.6 326.6 71.5 330.5 66.4 334.3 61.6 337.6 57.3" stroke="#22b3c3"/><path d="M337.6 57.3 340.7 53.2 343.7 49.3 346.5 45.6 349.0 42.4 351.1 39.6" stroke="#27bb97"/><path d="M351.1 39.6 352.7 37.6" stroke="#2ac07e"/></g><g stroke-width="1.3" opacity="0.90"><path d="M317.0 162.1 318.3 159.4 320.2 155.8" stroke="#20a7d4"/><path d="M320.2 155.8 322.3 151.5 324.5 146.7 326.6 141.4 328.3 136.1 329.5 130.4" stroke="#20add3"/><path d="M329.5 130.4 330.4 124.2 331.2 117.7 331.9 110.9 332.7 104.0 333.5 97.0" stroke="#20b0d2"/><path d="M333.5 97.0 334.4 89.8 335.3 82.2 336.3 74.5 337.2 66.9 338.0 59.7" stroke="#23b4bc"/><path d="M338.0 59.7 338.8 53.2 339.6 47.1 340.3 41.3 341.0 35.8 341.6 31.0" stroke="#26b9a2"/><path d="M341.6 31.0 342.1 27.0 342.4 24.0" stroke="#25b8a7"/></g><g stroke-width="1.1" opacity="0.90"><path d="M282.0 149.6 284.7 147.6 288.5 145.0" stroke="#208ad9"/><path d="M288.5 145.0 292.9 141.9 297.6 138.3 302.2 134.5 306.2 130.6 309.6 126.5" stroke="#209bd6"/><path d="M309.6 126.5 312.9 122.1 316.0 117.4 318.9 112.5 321.7 107.4 324.4 102.0" stroke="#23b4bb"/><path d="M324.4 102.0 326.8 96.2 329.1 89.8 331.3 83.2 333.3 76.6 335.2 70.4" stroke="#26b8a4"/><path d="M335.2 70.4 337.0 64.8 338.8 59.7 340.4 54.7 342.0 50.1 343.4 46.0" stroke="#27bb99"/><path d="M343.4 46.0 344.6 42.6 345.4 40.0" stroke="#2ec561"/></g><g stroke-width="1.7" opacity="0.90"><path d="M303.6 133.1 304.7 131.6" stroke="#20add3"/><path d="M304.7 131.6 306.3 129.6 308.1 127.3 310.0 124.6 311.7 121.8 313.0 118.8" stroke="#20a8d3"/><path d="M313.0 118.8 313.9 115.8 314.4 112.6 314.8 109.3 315.1 105.7 315.6 101.7" stroke="#21b1cc"/><path d="M315.6 101.7 316.4 97.5 317.6 92.6 319.0 87.2 320.6 81.5 322.2 75.7" stroke="#23b4bc"/><path d="M322.2 75.7 323.7 70.3 325.1 65.4 326.3 61.0 327.4 56.7 328.5 52.7" stroke="#209cd6"/><path d="M328.5 52.7 329.4 49.2 330.2 46.3 330.8 44.1" stroke="#20a4d4"/></g><g stroke-width="1.4" opacity="0.90"><path d="M255.1 129.0 258.2 127.3" stroke="#2058dc"/><path d="M258.2 127.3 262.5 125.0 267.6 122.3 273.0 119.2 278.2 115.9 282.8 112.5" stroke="#206bdf"/><path d="M282.8 112.5 286.7 108.9 290.4 105.1 293.9 101.0 297.3 96.7 300.8 92.3" stroke="#208cd9"/><path d="M300.8 92.3 304.4 87.9 308.3 83.2 312.4 78.1 316.5 73.0 320.6 67.9" stroke="#20a7d4"/><path d="M320.6 67.9 324.4 63.2 327.9 58.8 331.1 54.8 334.3 50.9 337.2 47.3" stroke="#29be85"/><path d="M337.2 47.3 339.8 44.1 341.9 41.5 343.5 39.5" stroke="#2ec561"/></g><g stroke-width="1.2" opacity="0.90"><path d="M303.9 121.5 305.9 119.7 308.7 117.3 312.0 114.4 315.4 111.1" stroke="#20b0d0"/><path d="M315.4 111.1 318.7 107.6 321.4 103.9 323.7 100.1 325.8 96.0 327.8 91.6" stroke="#23b4bb"/><path d="M327.8 91.6 329.6 87.0 331.3 82.3 332.9 77.4 334.5 72.2 336.0 66.6" stroke="#28bc93"/><path d="M336.0 66.6 337.5 60.8 338.8 55.1 340.1 49.7 341.3 44.8 342.4 40.3" stroke="#26b9a2"/><path d="M342.4 40.3 343.5 36.0 344.6 31.9 345.5 28.3 346.3 25.3 346.8 23.1" stroke="#26b8a4"/></g><g stroke-width="1.5" opacity="0.90"><path d="M303.4 154.7 305.5 152.5 308.3 149.4 311.7 145.8" stroke="#20a5d4"/><path d="M311.7 145.8 315.2 141.7 318.5 137.3 321.4 132.7 323.7 127.9 325.9 122.9" stroke="#21b1cb"/><path d="M325.9 122.9 327.9 117.5 329.7 111.9 331.5 105.9 333.3 99.6 335.1 92.7" stroke="#23b4bb"/><path d="M335.1 92.7 336.8 85.1 338.4 77.3 340.0 69.4 341.5 62.0 342.9 55.3" stroke="#26b99f"/><path d="M342.9 55.3 344.2 49.2 345.5 43.3 346.6 37.8 347.7 32.9 348.6 28.9" stroke="#28bc92"/><path d="M348.6 28.9 349.2 25.8" stroke="#27bb97"/></g><g stroke-width="1.8" opacity="0.90"><path d="M261.4 123.5 265.5 121.9 271.3 119.7 278.1 117.1 285.4 114.2" stroke="#2063e0"/><path d="M285.4 114.2 292.5 111.0 298.8 107.8 304.4 104.4 309.9 100.8 315.2 97.0" stroke="#2094d7"/><path d="M315.2 97.0 320.3 93.0 325.3 88.7 330.2 84.1 334.9 79.0 339.5 73.4" stroke="#25b8a7"/><path d="M339.5 73.4 344.0 67.5 348.3 61.7 352.3 56.1 356.0 51.1 359.6 46.6" stroke="#2ec65c"/><path d="M359.6 46.6 363.1 42.2 366.3 38.1 369.1 34.5 371.5 31.4 373.3 29.2" stroke="#33c94d"/></g><g stroke-width="1.5" opacity="0.90"><path d="M286.2 140.0 287.7 138.2 289.8 135.9 292.3 133.1" stroke="#208bd9"/><path d="M292.3 133.1 294.9 129.9 297.3 126.5 299.3 123.0 300.7 119.4 301.9 115.5" stroke="#2089d9"/><path d="M301.9 115.5 302.8 111.4 303.8 107.1 304.9 102.5 306.3 97.6 308.1 92.2" stroke="#208bd9"/><path d="M308.1 92.2 310.2 86.3 312.4 80.1 314.7 73.9 316.8 68.0 318.7 62.8" stroke="#20aed2"/><path d="M318.7 62.8 320.4 57.9 322.1 53.3 323.6 48.9 325.0 45.1 326.1 41.9" stroke="#21b1cb"/><path d="M326.1 41.9 327.0 39.5" stroke="#209ed5"/></g><g stroke-width="1.2" opacity="0.90"><path d="M286.6 122.3 288.7 120.5 291.6 118.1 295.0 115.1 298.5 111.8" stroke="#209ed5"/><path d="M298.5 111.8 302.0 108.3 304.9 104.6 307.3 100.7 309.4 96.6 311.4 92.1" stroke="#2097d7"/><path d="M311.4 92.1 313.3 87.5 315.2 82.8 317.1 77.9 319.0 72.8 320.9 67.3" stroke="#20a0d5"/><path d="M320.9 67.3 322.8 61.7 324.6 56.2 326.3 50.9 327.9 46.2 329.3 41.8" stroke="#24b6b0"/><path d="M329.3 41.8 330.8 37.5 332.1 33.6 333.3 30.1 334.3 27.2 335.0 25.0" stroke="#26b9a2"/></g><g stroke-width="1.4" opacity="0.90"><path d="M262.4 127.0 266.2 125.1 271.6 122.7" stroke="#208bd9"/><path d="M271.6 122.7 278.0 119.7 284.7 116.4 291.3 112.8 297.2 109.1 302.3 105.3" stroke="#20a6d4"/><path d="M302.3 105.3 307.2 101.1 311.9 96.7 316.5 92.1 321.2 87.3 326.0 82.4" stroke="#20a7d4"/><path d="M326.0 82.4 331.0 77.0 336.3 71.2 341.5 65.2 346.6 59.3 351.5 53.7" stroke="#24b6b1"/><path d="M351.5 53.7 355.9 48.6 360.1 44.0 364.1 39.4 367.8 35.2 371.1 31.5" stroke="#30c754"/><path d="M371.1 31.5 373.8 28.4 375.9 26.1" stroke="#37ca49"/></g><g stroke-width="1.3" opacity="0.90"><path d="M259.9 153.4 262.4 151.2 265.9 148.1 270.1 144.5" stroke="#207cdc"/><path d="M270.1 144.5 274.5 140.4 278.7 136.0 282.4 131.4 285.4 126.6 288.2 121.5" stroke="#2078dc"/><path d="M288.2 121.5 290.8 116.0 293.4 110.3 296.0 104.4 298.8 98.4 301.8 91.9" stroke="#208ed8"/><path d="M301.8 91.9 305.0 85.0 308.2 77.9 311.4 70.9 314.4 64.2 317.1 58.2" stroke="#21b2c9"/><path d="M317.1 58.2 319.6 52.7 322.0 47.3 324.3 42.4 326.3 37.9 328.0 34.3" stroke="#24b5b5"/><path d="M328.0 34.3 329.3 31.5" stroke="#21b2c8"/></g><g stroke-width="1.5" opacity="0.90"><path d="M271.2 132.9 275.2 130.8 280.7 128.1" stroke="#2083da"/><path d="M280.7 128.1 287.1 124.8 294.0 121.1 300.7 117.1 306.7 113.0 312.0 108.6" stroke="#209fd5"/><path d="M312.0 108.6 317.1 104.0 322.1 99.1 326.9 93.9 331.6 88.6 336.1 83.1" stroke="#20b0d0"/><path d="M336.1 83.1 340.6 77.2 344.9 70.8 349.2 64.3 353.2 57.8 357.0 51.7" stroke="#27ba99"/><path d="M357.0 51.7 360.5 46.2 363.9 41.1 367.1 36.1 370.1 31.6 372.8 27.5" stroke="#31c84f"/><path d="M372.8 27.5 375.1 24.1 376.7 21.6" stroke="#39cb48"/></g><g stroke-width="1.2" opacity="0.90"><path d="M259.2 143.0 263.3 140.8 268.9 137.9 275.6 134.3 282.7 130.4" stroke="#206dde"/><path d="M282.7 130.4 289.7 126.1 295.8 121.7 301.3 117.1 306.5 112.1 311.5 106.8" stroke="#209cd6"/><path d="M311.5 106.8 316.5 101.3 321.4 95.6 326.4 89.9 331.6 83.8 336.9 77.4" stroke="#24b6b1"/><path d="M336.9 77.4 342.2 70.8 347.4 64.3 352.3 58.2 356.7 52.7 360.9 47.5" stroke="#29be89"/><path d="M360.9 47.5 365.0 42.6 368.7 37.9 372.1 33.8 374.8 30.4 376.9 27.9" stroke="#30c851"/></g><g stroke-width="1.5" opacity="0.90"><path d="M275.5 147.9 278.4 145.7 282.4 142.8 287.2 139.2 292.3 135.3" stroke="#207adc"/><path d="M292.3 135.3 297.2 131.0 301.5 126.7 305.2 122.1 308.7 117.3 312.0 112.2" stroke="#20a3d4"/><path d="M312.0 112.2 315.2 106.7 318.4 101.0 321.6 94.8 324.9 88.0 328.3 80.5" stroke="#209fd5"/><path d="M328.3 80.5 331.7 72.7 334.9 64.8 338.0 57.4 340.8 50.8 343.5 44.7" stroke="#22b3c3"/><path d="M343.5 44.7 346.1 38.8 348.4 33.3 350.6 28.5 352.3 24.4 353.6 21.4" stroke="#27bb98"/></g><g stroke-width="1.3" opacity="0.90"><path d="M275.8 164.2 279.0 161.7 283.6 158.5" stroke="#206dde"/><path d="M283.6 158.5 289.0 154.5 294.7 150.1 300.3 145.3 305.1 140.4 309.4 135.3" stroke="#208dd8"/><path d="M309.4 135.3 313.4 129.8 317.2 124.0 320.9 117.9 324.7 111.5 328.5 104.8" stroke="#20b1ce"/><path d="M328.5 104.8 332.5 97.6 336.7 89.7 340.8 81.5 344.9 73.4 348.7 65.7" stroke="#25b8a6"/><path d="M348.7 65.7 352.2 58.8 355.5 52.5 358.6 46.3 361.6 40.6 364.2 35.6" stroke="#29bd8a"/><path d="M364.2 35.6 366.3 31.3 368.0 28.2" stroke="#2bc176"/></g><g stroke-width="1.7" opacity="0.90"><path d="M308.7 163.3 310.1 160.7" stroke="#20acd3"/><path d="M310.1 160.7 312.1 157.3 314.4 153.3 316.8 148.7 319.1 143.8 320.9 138.7" stroke="#22b2c5"/><path d="M320.9 138.7 322.2 133.3 323.2 127.4 324.1 121.3 324.9 114.8 325.9 108.3" stroke="#21b2c8"/><path d="M325.9 108.3 327.1 101.8 328.6 95.0 330.4 87.9 332.3 80.6 334.2 73.5" stroke="#20a7d4"/><path d="M334.2 73.5 336.0 66.7 337.6 60.6 339.0 54.9 340.4 49.4 341.7 44.3" stroke="#21b1cd"/><path d="M341.7 44.3 342.9 39.8 343.9 36.0 344.6 33.2" stroke="#2cc273"/></g><g stroke-width="1.4" opacity="0.90"><path d="M292.9 149.9 295.1 147.9 298.1 145.2 301.6 141.9 305.4 138.2" stroke="#2089d9"/><path d="M305.4 138.2 308.9 134.2 312.0 130.1 314.5 125.8 316.7 121.3 318.9 116.5" stroke="#209cd6"/><path d="M318.9 116.5 320.9 111.4 322.9 106.0 325.0 100.3 327.1 94.0 329.4 87.0" stroke="#20a6d4"/><path d="M329.4 87.0 331.6 79.7 333.8 72.4 335.8 65.6 337.7 59.4 339.4 53.7" stroke="#21b2c9"/><path d="M339.4 53.7 341.1 48.3 342.7 43.2 344.1 38.7 345.3 34.9 346.1 32.1" stroke="#2abe84"/></g><g stroke-width="1.3" opacity="0.90"><path d="M280.2 152.8 283.3 150.6 287.5 147.7 292.5 144.2 297.8 140.2" stroke="#2097d7"/><path d="M297.8 140.2 303.0 135.9 307.5 131.5 311.3 126.9 314.9 122.0 318.3 116.8" stroke="#2085da"/><path d="M318.3 116.8 321.7 111.3 325.1 105.6 328.7 99.7 332.7 93.3 336.9 86.4" stroke="#209ad6"/><path d="M336.9 86.4 341.2 79.2 345.4 72.2 349.4 65.5 353.0 59.4 356.3 53.9" stroke="#2dc36c"/><path d="M356.3 53.9 359.6 48.5 362.6 43.5 365.2 39.1 367.5 35.4 369.1 32.6" stroke="#34c94c"/></g><g stroke-width="1.7" opacity="0.90"><path d="M263.0 156.4 265.8 153.9" stroke="#208ad9"/><path d="M265.8 153.9 269.8 150.5 274.5 146.5 279.4 142.0 284.2 137.1 288.4 132.1" stroke="#208ad9"/><path d="M288.4 132.1 291.9 126.7 295.2 121.0 298.4 114.9 301.4 108.6 304.5 102.1" stroke="#208bd9"/><path d="M304.5 102.1 307.7 95.5 311.1 88.6 314.7 81.3 318.3 73.8 321.7 66.5" stroke="#2093d7"/><path d="M321.7 66.5 325.0 59.5 328.0 53.2 330.8 47.3 333.6 41.7 336.1 36.4" stroke="#20acd3"/><path d="M336.1 36.4 338.3 31.8 340.2 27.9 341.6 25.0" stroke="#24b6b0"/></g><g stroke-width="1.2" opacity="0.90"><path d="M299.1 152.9 300.4 151.1 302.1 148.6 304.2 145.6 306.4 142.3 308.3 138.7" stroke="#21b2c9"/><path d="M308.3 138.7 309.9 135.0 311.1 131.2 312.0 127.1 312.7 122.7 313.4 118.1" stroke="#20b0cf"/><path d="M313.4 118.1 314.0 113.3 314.7 108.1 315.5 102.5 316.2 96.3 316.9 89.9" stroke="#209ad6"/><path d="M316.9 89.9 317.6 83.5 318.3 77.4 318.9 71.9 319.5 66.9 320.0 62.1" stroke="#209bd6"/><path d="M320.0 62.1 320.5 57.6 321.0 53.6 321.4 50.3 321.7 47.8" stroke="#20a6d4"/></g><g stroke-width="1.1" opacity="0.90"><path d="M295.4 138.7 297.6 136.7 300.6 134.1 304.1 131.0" stroke="#20a5d4"/><path d="M304.1 131.0 307.8 127.5 311.4 123.8 314.5 119.9 317.0 115.7 319.4 111.3" stroke="#25b7aa"/><path d="M319.4 111.3 321.6 106.6 323.6 101.7 325.6 96.7 327.5 91.6 329.4 86.4" stroke="#26b8a5"/><path d="M329.4 86.4 331.1 80.8 332.7 75.1 334.3 69.5 335.8 64.2 337.2 59.4" stroke="#23b4bb"/><path d="M337.2 59.4 338.5 54.9 339.8 50.6 341.0 46.6 342.0 43.1 342.9 40.1" stroke="#24b6af"/><path d="M342.9 40.1 343.6 37.9" stroke="#28bc8f"/></g><g stroke-width="1.7" opacity="0.90"><path d="M300.1 159.2 302.0 156.7" stroke="#2088d9"/><path d="M302.0 156.7 304.7 153.5 307.9 149.5 311.2 145.1 314.3 140.4 316.9 135.4" stroke="#20a0d5"/><path d="M316.9 135.4 319.0 130.3 320.8 124.8 322.5 119.0 324.0 112.8 325.8 106.4" stroke="#21b2c9"/><path d="M325.8 106.4 327.8 99.8 330.1 92.7 332.7 84.9 335.4 76.9 338.1 69.0" stroke="#24b6b1"/><path d="M338.1 69.0 340.7 61.5 343.0 54.7 345.1 48.5 347.2 42.5 349.1 36.9" stroke="#2cc270"/><path d="M349.1 36.9 350.8 31.9 352.2 27.8 353.2 24.7" stroke="#2fc756"/></g></g>

<!-- blue lower body -->
<path d="M146 138 C170 136 200 138 230 144 C260 150 290 158 312 166 L305 176 C270 175 230 172 200 168 C175 164 158 156 146 150 Z" fill="#2452d4" filter="url(#b1)"/>

<!-- white body side -->
<path d="M142 90 C160 85 180 85 200 91 L204 106 C230 108 250 112 262 118 C250 124 235 126 222 128 L214 140 C195 142 170 144 150 144 C146 125 143 108 142 90 Z" fill="#fbfbfd" filter="url(#b05)"/>
<g fill="none" stroke="#6a7078" stroke-width="0.8" opacity="0.9">
 <path d="M160 108 C175 112 188 120 200 132"/>
 <path d="M165 124 C178 118 192 122 205 134"/>
 <path d="M155 98 C170 100 185 106 198 118"/>
 <path d="M178 105 C185 112 190 124 190 136"/>
 <path d="M200 112 C210 116 216 122 220 130"/>
 <path d="M186 130 L210 126 L222 132"/>
 <path d="M206 110 L230 112 L250 118"/>
 <path d="M210 118 L232 120 L248 124"/>
</g>
<path d="M198 126 C210 122 225 122 236 128 L232 136 C220 138 205 136 198 132 Z" fill="#1c2480" filter="url(#b1)"/>

<!-- wheel arch dark -->
<ellipse cx="126" cy="134" rx="26" ry="36" fill="#4a4446" filter="url(#b1)"/>
<!-- roof underside dark gray -->
<path d="M98 78 C120 74 150 74 175 80 L186 88 C165 92 140 96 118 99 L104 101 C101 92 99 86 98 78 Z" fill="#687078" filter="url(#b1)"/>
<!-- windshield -->
<path d="M68 92 C72 84 80 79 90 76 L101 76 L103 93 C92 93 79 93 68 92 Z" fill="#e4dcd6" filter="url(#b1)"/>
<!-- roof band -->
<path d="M64 91 C70 78 82 67 100 62 C120 57.5 150 57.5 180 62 C190 64 196 67 198 70 L196 74 C180 72 160 72 140 73 C120 74 100 76 90 78 C80 81 72 86 67 92 Z" fill="url(#gRoof)" filter="url(#b1)"/>

<g fill="none" stroke-linecap="round"><g stroke-width="1.1" opacity="0.90"><path d="M67.2 91.9 68.2 90.0 69.5 87.3 71.2 84.1 73.0 80.8 75.1 77.7" stroke="#2fc758"/><path d="M75.1 77.7 77.2 75.0 79.5 72.7 81.9 70.6 84.5 68.6 87.3 66.8" stroke="#b4d234"/><path d="M87.3 66.8 90.4 65.2 93.9 63.8 97.7 62.6 101.9 61.7 106.4 61.0" stroke="#ef8723"/><path d="M106.4 61.0 111.1 60.5 115.9 60.0 120.6 59.6 125.5 59.1 130.5 58.6" stroke="#e13517"/><path d="M130.5 58.6 135.7 58.2 140.8 58.0 145.8 57.9 150.7 58.1 155.4 58.7" stroke="#da2b15"/><path d="M155.4 58.7 160.1 59.5 164.7 60.5 169.2 61.6 173.5 62.7 177.5 63.7" stroke="#db2d16"/><path d="M177.5 63.7 181.6 64.6 185.6 65.5 189.4 66.3 192.9 67.1 195.8 67.8" stroke="#e03417"/><path d="M195.8 67.8 197.9 68.3" stroke="#e43917"/></g><g stroke-width="1.3" opacity="0.90"><path d="M66.0 91.7 67.0 90.1 68.3 87.7 70.0 85.0 71.8 82.1" stroke="#2bc177"/><path d="M71.8 82.1 74.0 79.3 76.4 76.8 79.1 74.5 82.2 72.3 85.5 70.2" stroke="#32c94e"/><path d="M85.5 70.2 89.0 68.3 92.7 66.5 96.4 65.0 100.2 63.8 104.1 62.8" stroke="#ee9227"/><path d="M104.1 62.8 108.2 62.0 112.4 61.4 116.7 60.9 121.1 60.5 125.6 60.1" stroke="#e63d18"/><path d="M125.6 60.1 130.4 59.8 135.3 59.7 140.2 59.7 145.1 59.8 149.9 60.1" stroke="#db2c16"/><path d="M149.9 60.1 154.8 60.5 159.9 61.2 165.0 61.9 169.9 62.8 174.5 63.7" stroke="#db2c16"/><path d="M174.5 63.7 178.7 64.5 182.5 65.5 186.2 66.5 189.6 67.6 192.6 68.6" stroke="#df3216"/><path d="M192.6 68.6 195.0 69.5 196.9 70.1" stroke="#e33817"/></g><g stroke-width="1.4" opacity="0.90"><path d="M65.4 90.9 66.5 89.4" stroke="#55d232"/><path d="M66.5 89.4 68.0 87.2 69.8 84.6 71.9 81.9 74.1 79.2 76.5 76.8" stroke="#b8d235"/><path d="M76.5 76.8 79.0 74.5 81.7 72.3 84.6 70.1 87.7 68.0 91.0 66.2" stroke="#f08221"/><path d="M91.0 66.2 94.5 64.7 98.3 63.6 102.4 62.9 106.7 62.4 111.2 62.0" stroke="#e33817"/><path d="M111.2 62.0 115.7 61.7 120.3 61.3 124.8 60.9 129.5 60.5 134.2 60.1" stroke="#dd2f16"/><path d="M134.2 60.1 139.0 59.8 143.8 59.7 148.7 59.9 153.8 60.4 159.1 61.2" stroke="#da2a15"/><path d="M159.1 61.2 164.5 62.2 169.7 63.2 174.6 64.2 179.0 65.1 182.9 65.9" stroke="#dc2e16"/><path d="M182.9 65.9 186.7 66.6 190.1 67.4 193.1 68.0 195.6 68.6 197.5 69.0" stroke="#e13617"/></g><g stroke-width="1.3" opacity="0.90"><path d="M65.3 91.3 66.6 89.5" stroke="#4ad038"/><path d="M66.6 89.5 68.2 87.1 70.2 84.2 72.4 81.1 74.8 78.3 77.3 75.9" stroke="#89d232"/><path d="M77.3 75.9 80.0 74.0 82.9 72.3 86.0 70.8 89.2 69.4 92.6 68.1" stroke="#bed136"/><path d="M92.6 68.1 96.2 66.9 99.9 65.6 103.8 64.3 107.8 63.2 112.0 62.1" stroke="#e8cb3e"/><path d="M112.0 62.1 116.2 61.2 120.6 60.5 125.1 60.1 129.7 59.8 134.5 59.6" stroke="#dd2f16"/><path d="M134.5 59.6 139.3 59.6 144.2 59.7 149.0 59.9 154.1 60.2 159.4 60.7" stroke="#da2a15"/><path d="M159.4 60.7 164.7 61.2 169.8 61.9 174.6 62.6 178.9 63.5 182.7 64.5" stroke="#dc2e16"/><path d="M182.7 64.5 186.2 65.8 189.4 67.1 192.1 68.4 194.4 69.5 196.1 70.3" stroke="#e13617"/></g><g stroke-width="1.3" opacity="0.90"><path d="M67.9 90.1 68.7 88.6 69.7 86.6 70.9 84.1" stroke="#48cf3a"/><path d="M70.9 84.1 72.4 81.5 74.2 79.0 76.3 76.8 78.8 74.9 81.6 73.0" stroke="#93d232"/><path d="M81.6 73.0 84.7 71.2 88.1 69.5 91.6 67.9 95.3 66.5 99.2 65.3" stroke="#afd233"/><path d="M99.2 65.3 103.4 64.2 107.8 63.2 112.3 62.4 116.8 61.7 121.3 61.3" stroke="#f08522"/><path d="M121.3 61.3 125.8 61.0 130.3 61.0 134.8 61.1 139.4 61.3 144.0 61.7" stroke="#db2d16"/><path d="M144.0 61.7 148.7 62.0 153.4 62.4 158.3 62.9 163.3 63.5 168.1 64.1" stroke="#da2b15"/><path d="M168.1 64.1 172.7 64.8 177.0 65.6 181.0 66.6 185.0 67.7 188.8 68.9" stroke="#de3016"/><path d="M188.8 68.9 192.1 70.1 194.9 71.1 197.0 71.8" stroke="#e23817"/></g><g stroke-width="1.1" opacity="0.90"><path d="M66.2 92.1 67.4 90.6 69.0 88.5 70.8 86.0 73.0 83.4 75.2 80.8" stroke="#3fcd42"/><path d="M75.2 80.8 77.6 78.4 80.1 76.3 82.7 74.2 85.4 72.2 88.4 70.2" stroke="#b4d234"/><path d="M88.4 70.2 91.5 68.4 94.9 66.9 98.4 65.5 102.1 64.2 106.0 63.1" stroke="#e84018"/><path d="M106.0 63.1 110.1 62.2 114.4 61.5 118.9 61.0 123.7 60.8 128.7 60.8" stroke="#de3116"/><path d="M128.7 60.8 134.0 61.0 139.3 61.4 144.5 61.8 149.5 62.3 154.3 62.9" stroke="#da2b15"/><path d="M154.3 62.9 159.1 63.6 163.7 64.3 168.2 65.1 172.5 65.9 176.6 66.7" stroke="#db2d16"/><path d="M176.6 66.7 180.6 67.5 184.7 68.3 188.5 69.2 192.0 69.9 194.9 70.6" stroke="#e03417"/><path d="M194.9 70.6 197.0 71.1" stroke="#e43917"/></g><g stroke-width="1.2" opacity="0.90"><path d="M67.6 89.9 68.3 88.7 69.2 87.1" stroke="#32c94e"/><path d="M69.2 87.1 70.4 85.1 71.8 82.9 73.5 80.8 75.6 78.7 78.2 76.6" stroke="#6cd232"/><path d="M78.2 76.6 81.3 74.4 84.6 72.1 88.2 70.0 91.9 68.1 95.5 66.6" stroke="#b8d235"/><path d="M95.5 66.6 99.1 65.5 102.8 64.7 106.5 64.2 110.3 63.9 114.4 63.6" stroke="#ed9c2b"/><path d="M114.4 63.6 118.8 63.4 123.7 63.1 129.0 62.9 134.5 62.8 140.0 62.8" stroke="#dc2e16"/><path d="M140.0 62.8 145.4 62.8 150.5 63.0 155.3 63.3 159.9 63.8 164.5 64.3" stroke="#da2a15"/><path d="M164.5 64.3 168.8 64.9 173.0 65.6 176.9 66.2 180.8 66.9 184.7 67.8" stroke="#dd2f16"/><path d="M184.7 67.8 188.4 68.6 191.7 69.4 194.5 70.1 196.6 70.6" stroke="#e23717"/></g><g stroke-width="1.3" opacity="0.90"><path d="M66.8 90.5 67.8 89.3 69.2 87.6 70.9 85.6" stroke="#89d232"/><path d="M70.9 85.6 72.9 83.4 75.0 81.3 77.3 79.2 79.7 77.1 82.2 74.9" stroke="#a8d232"/><path d="M82.2 74.9 84.9 72.7 87.9 70.6 91.1 68.6 94.6 67.0 98.5 65.8" stroke="#c3d138"/><path d="M98.5 65.8 102.8 64.8 107.4 64.0 112.1 63.4 116.8 62.9 121.5 62.5" stroke="#ef7b1f"/><path d="M121.5 62.5 126.0 62.1 130.6 61.9 135.2 61.8 139.8 61.8 144.4 61.9" stroke="#db2d16"/><path d="M144.4 61.9 149.0 62.1 153.7 62.5 158.5 63.0 163.3 63.7 168.0 64.4" stroke="#da2b15"/><path d="M168.0 64.4 172.5 65.2 176.6 66.0 180.6 66.9 184.4 68.0 188.1 69.2" stroke="#de3016"/><path d="M188.1 69.2 191.3 70.3 194.1 71.2 196.1 71.9" stroke="#e23817"/></g><g stroke-width="1.6" opacity="0.90"><path d="M67.7 90.8 68.6 89.3 69.8 87.2 71.3 84.7" stroke="#2fc65b"/><path d="M71.3 84.7 72.9 82.1 74.8 79.6 76.9 77.4 79.2 75.6 81.7 73.8" stroke="#64d232"/><path d="M81.7 73.8 84.4 72.1 87.4 70.6 90.5 69.2 94.0 68.0 97.7 66.9" stroke="#6ed232"/><path d="M97.7 66.9 101.7 66.0 105.9 65.2 110.3 64.5 114.9 64.0 119.6 63.5" stroke="#eda02d"/><path d="M119.6 63.5 124.6 63.1 129.9 62.9 135.4 62.7 140.8 62.7 146.1 62.7" stroke="#db2d16"/><path d="M146.1 62.7 151.1 63.0 155.9 63.3 160.5 63.9 165.0 64.5 169.3 65.2" stroke="#da2b15"/><path d="M169.3 65.2 173.4 66.0 177.3 66.8 181.0 67.6 184.7 68.6 188.3 69.5" stroke="#de3016"/><path d="M188.3 69.5 191.4 70.5 194.0 71.3 196.0 71.8" stroke="#e23817"/></g><g stroke-width="1.4" opacity="0.90"><path d="M66.1 89.9 67.2 88.7 68.7 87.1" stroke="#4ed134"/><path d="M68.7 87.1 70.5 85.2 72.5 83.2 74.7 81.2 76.9 79.3 79.3 77.6" stroke="#c2d137"/><path d="M79.3 77.6 81.8 75.9 84.5 74.2 87.4 72.6 90.6 71.1 94.0 69.7" stroke="#eca42e"/><path d="M94.0 69.7 97.7 68.4 101.7 67.2 105.9 66.1 110.3 65.2 114.9 64.4" stroke="#ec611c"/><path d="M114.9 64.4 119.5 63.9 124.2 63.7 129.2 63.8 134.2 64.0 139.3 64.4" stroke="#dc2e16"/><path d="M139.3 64.4 144.3 64.8 149.2 65.2 154.0 65.6 158.8 66.0 163.5 66.4" stroke="#da2a15"/><path d="M163.5 66.4 168.1 66.9 172.5 67.4 176.6 68.0 180.7 68.8 184.7 69.7" stroke="#dd2f16"/><path d="M184.7 69.7 188.6 70.6 192.1 71.6 195.1 72.3 197.2 72.9" stroke="#e23717"/></g><g stroke-width="1.3" opacity="0.90"><path d="M67.0 91.6 68.1 90.0 69.6 87.8 71.4 85.3" stroke="#2abf83"/><path d="M71.4 85.3 73.4 82.6 75.6 80.1 77.9 78.0 80.1 76.3 82.5 74.8" stroke="#73d232"/><path d="M82.5 74.8 85.0 73.5 87.8 72.3 90.8 71.1 94.2 70.0 98.1 69.0" stroke="#ef781f"/><path d="M98.1 69.0 102.4 67.9 107.0 67.0 111.8 66.1 116.6 65.5 121.3 65.0" stroke="#e13517"/><path d="M121.3 65.0 126.0 64.8 130.8 64.8 135.6 65.0 140.4 65.3 145.1 65.6" stroke="#db2d16"/><path d="M145.1 65.6 149.8 65.8 154.4 65.9 159.0 66.0 163.6 66.1 168.1 66.3" stroke="#da2b15"/><path d="M168.1 66.3 172.4 66.5 176.5 67.0 180.6 67.8 184.8 68.8 188.8 70.0" stroke="#de3016"/><path d="M188.8 70.0 192.5 71.1 195.6 72.1 197.8 72.7" stroke="#e23817"/></g><g stroke-width="1.4" opacity="0.90"><path d="M68.5 90.4 69.5 89.0 70.8 87.0" stroke="#70d232"/><path d="M70.8 87.0 72.3 84.8 74.2 82.4 76.1 80.1 78.3 78.2 80.6 76.7" stroke="#46cf3c"/><path d="M80.6 76.7 83.0 75.4 85.6 74.1 88.5 73.0 91.5 71.9 94.9 70.9" stroke="#c0d137"/><path d="M94.9 70.9 98.6 69.8 102.6 68.7 106.8 67.8 111.2 66.8 115.8 66.1" stroke="#ec631c"/><path d="M115.8 66.1 120.4 65.4 125.2 64.9 130.3 64.5 135.5 64.3 140.7 64.1" stroke="#dc2e16"/><path d="M140.7 64.1 145.8 64.2 150.8 64.3 155.8 64.7 160.8 65.3 165.7 66.1" stroke="#da2a15"/><path d="M165.7 66.1 170.4 66.9 174.9 67.8 179.0 68.7 182.8 69.6 186.5 70.7" stroke="#dd2f16"/><path d="M186.5 70.7 190.0 71.8 193.0 72.9 195.5 73.8 197.4 74.4" stroke="#e23717"/></g><g stroke-width="1.3" opacity="0.90"><path d="M66.7 90.6 67.6 89.3 68.8 87.6" stroke="#63d232"/><path d="M68.8 87.6 70.2 85.5 71.9 83.4 74.0 81.3 76.3 79.5 78.9 77.9" stroke="#c8d139"/><path d="M78.9 77.9 82.0 76.4 85.3 74.9 88.9 73.5 92.5 72.2 96.3 71.0" stroke="#d3d13b"/><path d="M96.3 71.0 100.1 69.8 104.1 68.6 108.2 67.4 112.4 66.4 116.7 65.6" stroke="#eda22e"/><path d="M116.7 65.6 121.1 65.1 125.5 64.8 130.0 64.7 134.5 64.9 139.1 65.1" stroke="#dc2e16"/><path d="M139.1 65.1 143.8 65.5 148.6 65.8 153.5 66.2 158.6 66.7 163.8 67.3" stroke="#da2a15"/><path d="M163.8 67.3 168.9 67.9 173.7 68.6 178.0 69.2 181.9 70.0 185.7 70.9" stroke="#dd2f16"/><path d="M185.7 70.9 189.1 71.8 192.2 72.7 194.7 73.5 196.6 74.0" stroke="#e23717"/></g><g stroke-width="1.5" opacity="0.90"><path d="M67.0 91.0 68.2 89.6" stroke="#2cc173"/><path d="M68.2 89.6 69.8 87.8 71.7 85.6 73.8 83.2 76.1 81.0 78.4 79.1" stroke="#53d232"/><path d="M78.4 79.1 80.7 77.4 83.1 75.8 85.7 74.3 88.4 72.9 91.4 71.6" stroke="#e9c63c"/><path d="M91.4 71.6 94.7 70.4 98.4 69.4 102.3 68.5 106.5 67.7 110.9 67.1" stroke="#ec5f1c"/><path d="M110.9 67.1 115.5 66.6 120.1 66.2 124.9 66.0 130.0 66.0 135.1 66.2" stroke="#dd2f16"/><path d="M135.1 66.2 140.4 66.4 145.5 66.7 150.6 67.0 155.6 67.4 160.8 67.8" stroke="#da2a15"/><path d="M160.8 67.8 165.8 68.3 170.7 68.8 175.3 69.4 179.4 70.0 183.1 70.6" stroke="#dc2e16"/><path d="M183.1 70.6 186.6 71.4 189.7 72.2 192.4 73.0 194.6 73.6 196.3 74.1" stroke="#e13617"/></g><g stroke-width="1.2" opacity="0.90"><path d="M69.0 90.7 69.9 89.3 71.2 87.3 72.7 85.0" stroke="#2fc65b"/><path d="M72.7 85.0 74.4 82.6 76.4 80.4 78.4 78.6 80.6 77.3 82.9 76.2" stroke="#bcd136"/><path d="M82.9 76.2 85.5 75.3 88.2 74.5 91.1 73.6 94.4 72.6 97.9 71.4" stroke="#eac039"/><path d="M97.9 71.4 101.7 70.0 105.7 68.6 110.0 67.2 114.4 66.1 118.9 65.4" stroke="#ec621c"/><path d="M118.9 65.4 123.6 65.2 128.5 65.3 133.6 65.7 138.7 66.2 143.9 66.7" stroke="#db2d16"/><path d="M143.9 66.7 148.9 67.0 154.1 67.3 159.4 67.4 164.7 67.6 169.8 67.8" stroke="#da2b15"/><path d="M169.8 67.8 174.6 68.2 178.8 68.7 182.6 69.4 186.0 70.4 189.1 71.5" stroke="#de3016"/><path d="M189.1 71.5 191.8 72.6 194.0 73.5 195.6 74.1" stroke="#e23817"/></g><g stroke-width="1.0" opacity="0.90"><path d="M67.6 91.4 68.5 90.0 69.7 88.0 71.2 85.7 72.9 83.2 74.9 80.9" stroke="#3dcc44"/><path d="M74.9 80.9 77.1 79.0 79.6 77.6 82.5 76.4 85.6 75.3 88.9 74.3" stroke="#6cd232"/><path d="M88.9 74.3 92.3 73.3 95.8 72.3 99.3 71.2 102.8 69.9 106.5 68.7" stroke="#d6d13c"/><path d="M106.5 68.7 110.3 67.6 114.3 66.7 118.6 66.1 123.2 65.8 128.1 65.7" stroke="#e53b17"/><path d="M128.1 65.7 133.3 65.8 138.5 66.0 143.8 66.4 148.9 66.8 154.1 67.4" stroke="#da2b15"/><path d="M154.1 67.4 159.4 68.1 164.7 69.0 169.9 69.9 174.7 70.7 179.1 71.4" stroke="#db2d16"/><path d="M179.1 71.4 183.0 72.0 186.7 72.6 190.1 73.0 193.0 73.5 195.5 73.8" stroke="#e03417"/><path d="M195.5 73.8 197.3 74.1" stroke="#e43917"/></g><g stroke-width="1.3" opacity="0.90"><path d="M67.5 92.2 68.5 90.9 69.7 89.1 71.2 87.0 73.0 84.8" stroke="#2fc65a"/><path d="M73.0 84.8 75.0 82.6 77.2 80.7 79.7 79.1 82.4 77.5 85.3 76.0" stroke="#abd232"/><path d="M85.3 76.0 88.5 74.5 91.8 73.3 95.4 72.1 99.2 71.1 103.2 70.2" stroke="#97d232"/><path d="M103.2 70.2 107.4 69.4 111.8 68.8 116.3 68.2 120.8 67.8 125.4 67.5" stroke="#ed671d"/><path d="M125.4 67.5 130.2 67.3 135.1 67.2 140.1 67.3 145.0 67.4 149.8 67.5" stroke="#db2c16"/><path d="M149.8 67.5 154.6 67.8 159.5 68.2 164.4 68.7 169.2 69.2 173.7 69.8" stroke="#db2c16"/><path d="M173.7 69.8 177.8 70.4 181.8 71.1 185.7 71.8 189.3 72.6 192.6 73.4" stroke="#df3216"/><path d="M192.6 73.4 195.3 74.0 197.3 74.5" stroke="#e33817"/></g><g stroke-width="1.2" opacity="0.90"><path d="M67.5 91.8 68.5 90.4 69.9 88.4" stroke="#36ca4a"/><path d="M69.9 88.4 71.5 86.2 73.4 83.8 75.5 81.5 77.8 79.7 80.4 78.1" stroke="#8ed232"/><path d="M80.4 78.1 83.2 76.7 86.3 75.5 89.5 74.4 92.9 73.3 96.4 72.4" stroke="#b7d235"/><path d="M96.4 72.4 100.0 71.5 103.7 70.7 107.6 69.9 111.6 69.3 115.8 68.8" stroke="#ebad32"/><path d="M115.8 68.8 120.2 68.4 125.0 68.1 130.2 68.0 135.6 67.9 140.9 67.9" stroke="#dc2e16"/><path d="M140.9 67.9 146.2 68.0 151.1 68.2 155.8 68.5 160.4 68.8 164.9 69.3" stroke="#da2a15"/><path d="M164.9 69.3 169.2 69.8 173.3 70.4 177.1 71.0 180.9 71.7 184.7 72.6" stroke="#dd2f16"/><path d="M184.7 72.6 188.3 73.6 191.4 74.5 194.1 75.2 196.1 75.8" stroke="#e23717"/></g><g stroke-width="1.1" opacity="0.90"><path d="M69.4 92.0 70.1 90.8 70.9 89.0" stroke="#4cd136"/><path d="M70.9 89.0 72.0 87.0 73.3 84.9 74.9 82.8 76.9 81.1 79.1 79.5" stroke="#59d232"/><path d="M79.1 79.5 81.7 78.1 84.6 76.8 87.8 75.5 91.1 74.3 94.5 73.3" stroke="#e9c43b"/><path d="M94.5 73.3 98.2 72.3 102.1 71.4 106.1 70.6 110.4 69.9 114.7 69.3" stroke="#e73f18"/><path d="M114.7 69.3 119.2 68.8 123.9 68.6 128.7 68.4 133.7 68.4 138.7 68.5" stroke="#d21e14"/><path d="M138.7 68.5 143.8 68.7 148.8 68.9 153.9 69.2 159.1 69.5 164.4 69.9" stroke="#d21e14"/><path d="M164.4 69.9 169.5 70.4 174.4 71.0 178.8 71.6 182.8 72.4 186.8 73.3" stroke="#d21e14"/><path d="M186.8 73.3 190.4 74.4 193.6 75.4 196.3 76.2 198.3 76.8" stroke="#d72615"/></g><g stroke-width="1.5" opacity="0.90"><path d="M67.5 91.0 68.6 89.8 70.2 88.1 72.0 86.1" stroke="#4dd135"/><path d="M72.0 86.1 74.0 84.1 76.2 82.1 78.5 80.5 80.8 79.1 83.2 77.9" stroke="#5fd232"/><path d="M83.2 77.9 85.8 76.9 88.5 75.9 91.5 74.9 94.7 74.0 98.1 73.0" stroke="#ed9c2b"/><path d="M98.1 73.0 101.8 72.0 105.7 71.1 109.8 70.2 114.1 69.5 118.6 69.0" stroke="#e13617"/><path d="M118.6 69.0 123.4 68.7 128.5 68.6 133.8 68.7 139.2 68.9 144.5 69.1" stroke="#d21e14"/><path d="M144.5 69.1 149.6 69.4 154.7 69.7 159.8 70.0 164.8 70.5 169.7 71.0" stroke="#d21e14"/><path d="M169.7 71.0 174.3 71.5 178.6 72.1 182.7 72.9 186.6 73.8 190.3 74.8" stroke="#d31f14"/><path d="M190.3 74.8 193.6 75.7 196.4 76.5 198.4 77.1" stroke="#d82615"/></g><g stroke-width="1.2" opacity="0.90"><path d="M67.8 91.6 68.8 90.4 70.1 88.7 71.7 86.7 73.5 84.6 75.4 82.7" stroke="#42ce3f"/><path d="M75.4 82.7 77.5 81.1 79.7 80.0 82.0 79.0 84.5 78.2 87.2 77.4" stroke="#a6d232"/><path d="M87.2 77.4 90.2 76.7 93.6 75.9 97.4 75.1 101.5 74.2 106.0 73.3" stroke="#eb591b"/><path d="M106.0 73.3 110.7 72.5 115.5 71.7 120.3 71.2 125.3 70.7 130.5 70.4" stroke="#d52315"/><path d="M130.5 70.4 135.7 70.2 141.1 70.1 146.3 70.0 151.3 70.1 156.3 70.2" stroke="#d21e14"/><path d="M156.3 70.2 161.2 70.4 166.1 70.7 170.8 71.1 175.3 71.5 179.4 72.0" stroke="#d21e14"/><path d="M179.4 72.0 183.3 72.6 187.1 73.4 190.6 74.2 193.7 75.1 196.3 75.8" stroke="#d52315"/><path d="M196.3 75.8 198.3 76.3" stroke="#d92815"/></g><g stroke-width="1.4" opacity="0.90"><path d="M68.5 91.0 69.6 89.9 71.2 88.3 73.0 86.5" stroke="#4ed134"/><path d="M73.0 86.5 75.1 84.5 77.4 82.7 79.7 81.2 82.1 80.0 84.6 79.1" stroke="#5fd232"/><path d="M84.6 79.1 87.3 78.2 90.2 77.5 93.2 76.6 96.4 75.7 99.8 74.7" stroke="#ed9c2b"/><path d="M99.8 74.7 103.4 73.5 107.2 72.2 111.2 71.1 115.3 70.1 119.7 69.4" stroke="#e13617"/><path d="M119.7 69.4 124.3 69.1 129.2 68.9 134.3 69.0 139.5 69.2 144.7 69.5" stroke="#d21e14"/><path d="M144.7 69.5 149.7 69.9 154.6 70.4 159.7 71.1 164.7 72.0 169.6 72.9" stroke="#d21e14"/><path d="M169.6 72.9 174.2 73.7 178.5 74.4 182.5 75.1 186.4 75.7 190.1 76.2" stroke="#d31f14"/><path d="M190.1 76.2 193.4 76.7 196.2 77.1 198.2 77.4" stroke="#d82615"/></g><g stroke-width="1.1" opacity="0.90"><path d="M68.2 90.5 69.4 89.6 71.0 88.4 72.9 87.0 75.1 85.4" stroke="#55d232"/><path d="M75.1 85.4 77.3 84.0 79.5 82.7 81.5 81.6 83.6 80.7 85.7 79.8" stroke="#78d232"/><path d="M85.7 79.8 88.1 78.9 90.7 78.0 93.7 77.1 97.2 76.0 101.1 74.8" stroke="#ee741e"/><path d="M101.1 74.8 105.2 73.5 109.6 72.4 114.1 71.4 118.7 70.8 123.5 70.4" stroke="#db2c16"/><path d="M123.5 70.4 128.5 70.4 133.6 70.5 138.8 70.7 144.0 71.1 149.1 71.4" stroke="#d21e14"/><path d="M149.1 71.4 154.1 71.7 159.2 72.1 164.3 72.5 169.3 73.0 173.9 73.6" stroke="#d21e14"/><path d="M173.9 73.6 178.2 74.1 182.2 74.7 186.1 75.3 189.6 76.0 192.8 76.6" stroke="#d42114"/><path d="M192.8 76.6 195.4 77.1 197.4 77.5" stroke="#d82715"/></g><g stroke-width="1.5" opacity="0.90"><path d="M69.9 92.1 70.7 90.8 71.6 89.0 72.8 86.9 74.2 84.7" stroke="#40cd41"/><path d="M74.2 84.7 75.9 82.7 77.7 81.1 79.8 80.0 82.1 79.2 84.6 78.6" stroke="#78d232"/><path d="M84.6 78.6 87.4 78.0 90.5 77.4 93.8 76.7 97.6 75.7 101.8 74.6" stroke="#ee741e"/><path d="M101.8 74.6 106.3 73.4 110.9 72.3 115.6 71.4 120.3 70.8 125.0 70.5" stroke="#db2c16"/><path d="M125.0 70.5 129.7 70.5 134.5 70.7 139.4 71.0 144.2 71.4 149.1 71.8" stroke="#d21e14"/><path d="M149.1 71.8 154.0 72.2 159.2 72.6 164.3 73.2 169.4 73.7 174.1 74.3" stroke="#d21e14"/><path d="M174.1 74.3 178.4 74.7 182.5 75.1 186.3 75.5 189.9 75.9 193.1 76.2" stroke="#d42114"/><path d="M193.1 76.2 195.7 76.5 197.7 76.7" stroke="#d82715"/></g><g stroke-width="1.4" opacity="0.90"><path d="M69.0 91.5 70.2 90.5" stroke="#aad232"/><path d="M70.2 90.5 71.7 89.1 73.6 87.4 75.6 85.7 77.8 84.1 79.9 82.7" stroke="#83d232"/><path d="M79.9 82.7 81.9 81.5 83.9 80.4 86.0 79.4 88.2 78.5 90.8 77.6" stroke="#cdd13a"/><path d="M90.8 77.6 93.8 76.7 97.3 75.7 101.2 74.6 105.4 73.6 109.8 72.7" stroke="#ea4c19"/><path d="M109.8 72.7 114.4 71.9 119.0 71.4 123.7 71.3 128.7 71.3 133.8 71.6" stroke="#d21e14"/><path d="M133.8 71.6 138.9 71.9 144.0 72.3 149.0 72.7 153.8 73.1 158.7 73.6" stroke="#d21e14"/><path d="M158.7 73.6 163.5 74.1 168.1 74.6 172.6 75.2 176.8 75.7 180.9 76.3" stroke="#d21e14"/><path d="M180.9 76.3 185.1 76.9 189.0 77.6 192.5 78.2 195.5 78.8 197.7 79.2" stroke="#d62515"/></g><g stroke-width="1.3" opacity="0.90"><path d="M70.8 90.3 71.5 89.3 72.4 88.0 73.5 86.4" stroke="#71d232"/><path d="M73.5 86.4 74.8 84.7 76.5 83.2 78.4 82.0 80.7 81.3 83.3 80.7" stroke="#64d232"/><path d="M83.3 80.7 86.2 80.3 89.4 80.0 92.7 79.5 96.2 78.8 99.8 77.8" stroke="#ed9c2b"/><path d="M99.8 77.8 103.7 76.6 107.7 75.2 111.9 73.9 116.3 72.8 120.8 72.0" stroke="#e13617"/><path d="M120.8 72.0 125.6 71.7 130.7 71.6 136.0 71.6 141.3 71.9 146.5 72.2" stroke="#d21e14"/><path d="M146.5 72.2 151.3 72.6 155.9 73.1 160.2 73.7 164.5 74.5 168.6 75.2" stroke="#d21e14"/><path d="M168.6 75.2 172.6 75.9 176.5 76.4 180.6 76.8 184.9 77.1 189.0 77.3" stroke="#d31f14"/><path d="M189.0 77.3 192.8 77.5 196.0 77.6 198.4 77.7" stroke="#d82615"/></g></g>
<!-- taillight band -->
<path d="M178 97 C180 92 186 90 195 89.5 C215 89 240 89 262 90 L270 92 L271 105 C250 106 225 106 205 106 C192 106 183 104 178 101 Z" fill="#2e24a0" filter="url(#b1)"/>
<circle cx="195.5" cy="97.7" r="5.3" fill="#c83050" filter="url(#b05)"/>
<circle cx="210.4" cy="97.7" r="5.3" fill="#c83050" filter="url(#b05)"/>
<g stroke="#e8e8ff" stroke-width="1.3" fill="none" opacity="0.9">
 <path d="M220 95 l3 7 l3 -7 l3 7 l3 -7 l3 7 l3 -7 l3 7 l3 -7"/>
 <path d="M250 96 l2 7 l2 -7 M258 97 l2 6"/>
</g>
<!-- blue region above taillight -->
<path d="M205 92 C215 80 240 72 270 76 L280 95 C260 92 230 90 205 92 Z" fill="#2c30c0" opacity="0.75" filter="url(#b1)"/>
<g fill="none" stroke-linecap="round"><g stroke-width="1.0" opacity="0.85"><path d="M265.0 56.6 266.3 58.7 268.3 61.6 270.5 65.0" stroke="#25b8a8"/><path d="M270.5 65.0 273.0 69.0 275.5 73.4 277.8 78.1 280.0 83.6 282.3 90.0" stroke="#21b2c9"/><path d="M282.3 90.0 284.6 96.8 286.8 103.7 289.0 110.2 291.1 115.9 293.2 121.2" stroke="#22b4be"/><path d="M293.2 121.2 295.3 126.2 297.4 130.9 299.3 135.1 300.9 138.5 302.0 141.1" stroke="#24b5b5"/></g><g stroke-width="1.3" opacity="0.85"><path d="M226.4 73.8 230.1 75.0 235.3 76.6" stroke="#2056db"/><path d="M235.3 76.6 241.3 78.5 247.7 80.8 253.8 83.7 259.0 87.2 263.3 91.6" stroke="#2053db"/><path d="M263.3 91.6 267.2 96.9 270.8 102.7 274.2 108.7 277.5 114.3 280.8 119.3" stroke="#2057dc"/><path d="M280.8 119.3 284.2 123.7 287.7 128.0 291.1 132.0 294.2 135.5 296.7 138.5" stroke="#2058dc"/><path d="M296.7 138.5 298.6 140.7" stroke="#2055db"/></g><g stroke-width="1.2" opacity="0.85"><path d="M234.6 58.3 237.8 59.7" stroke="#2038d2"/><path d="M237.8 59.7 242.4 61.6 247.7 63.9 253.4 66.6 258.8 69.8 263.4 73.6" stroke="#203fd4"/><path d="M263.4 73.6 267.3 78.1 270.9 83.6 274.2 89.5 277.4 95.5 280.5 101.2" stroke="#2044d6"/><path d="M280.5 101.2 283.5 106.2 286.7 110.7 289.9 115.1 293.0 119.2 295.9 122.8" stroke="#2040d5"/><path d="M295.9 122.8 298.3 125.8 300.0 128.0" stroke="#203bd3"/></g><g stroke-width="1.3" opacity="0.85"><path d="M229.7 65.2 233.0 67.4 237.7 70.4 243.2 73.9 248.9 77.9" stroke="#20abd3"/><path d="M248.9 77.9 254.4 82.2 259.0 86.5 262.9 91.3 266.3 96.7 269.5 102.3" stroke="#21b1cc"/><path d="M269.5 102.3 272.5 108.0 275.4 113.3 278.2 118.1 281.2 122.4 284.3 126.6" stroke="#21b2c9"/><path d="M284.3 126.6 287.3 130.5 290.0 134.0 292.3 136.9 294.0 139.1" stroke="#20a5d4"/></g><g stroke-width="1.4" opacity="0.85"><path d="M262.6 67.0 265.3 67.6 269.1 68.4 273.5 69.3 278.2 70.5" stroke="#209bd6"/><path d="M278.2 70.5 282.7 72.1 286.6 74.3 289.8 77.2 292.7 80.8 295.5 84.8" stroke="#21b1cd"/><path d="M295.5 84.8 298.1 89.0 300.6 92.9 303.1 96.3 305.6 99.3 308.3 102.3" stroke="#2093d7"/><path d="M308.3 102.3 310.8 105.0 313.2 107.4 315.1 109.4 316.5 111.0" stroke="#20a0d5"/></g><g stroke-width="1.2" opacity="0.85"><path d="M230.9 73.4 235.6 74.9 242.2 76.7 250.0 78.9 258.3 81.6" stroke="#203ad3"/><path d="M258.3 81.6 266.3 84.6 273.4 87.9 279.6 91.9 285.6 96.6 291.3 101.6" stroke="#203fd4"/><path d="M291.3 101.6 296.9 106.7 302.2 111.6 307.4 115.8 312.7 119.7 318.2 123.4" stroke="#2036ce"/><path d="M318.2 123.4 323.5 126.9 328.3 129.9 332.3 132.5 335.3 134.4" stroke="#203bd3"/></g><g stroke-width="1.6" opacity="0.85"><path d="M253.8 54.5 257.2 57.1" stroke="#203ad3"/><path d="M257.2 57.1 262.0 60.5 267.6 64.7 273.4 69.4 278.9 74.3 283.5 79.3" stroke="#203fd4"/><path d="M283.5 79.3 287.1 84.7 290.1 90.7 292.9 97.0 295.4 103.3 297.8 109.2" stroke="#2040d5"/><path d="M297.8 109.2 300.3 114.6 302.9 119.4 305.6 124.1 308.2 128.5 310.6 132.4" stroke="#2040d5"/><path d="M310.6 132.4 312.6 135.6 314.1 138.0" stroke="#2045d6"/></g><g stroke-width="1.6" opacity="0.85"><path d="M269.2 52.7 270.4 55.2 272.0 58.5 274.0 62.6 276.1 67.1 278.2 72.0" stroke="#203dd3"/><path d="M278.2 72.0 280.3 77.1 282.3 82.7 284.5 89.0 286.6 95.6 288.8 102.2" stroke="#2045d6"/><path d="M288.8 102.2 290.9 108.4 292.8 114.0 294.8 119.1 296.8 124.0 298.7 128.6" stroke="#2042d5"/><path d="M298.7 128.6 300.5 132.7 302.0 136.1 303.1 138.6" stroke="#2044d6"/></g><g stroke-width="1.0" opacity="0.85"><path d="M260.6 61.9 263.8 63.4 268.3 65.4 273.5 67.8 279.0 70.5" stroke="#22b3bf"/><path d="M279.0 70.5 284.1 73.5 288.2 76.5 291.4 79.8 294.1 83.6 296.4 87.6" stroke="#23b4bb"/><path d="M296.4 87.6 298.5 91.5 300.6 95.3 302.7 98.6 304.9 101.7 307.2 104.6" stroke="#21b2c9"/><path d="M307.2 104.6 309.5 107.4 311.5 109.8 313.2 111.9 314.5 113.4" stroke="#24b6b1"/></g><g stroke-width="1.3" opacity="0.85"><path d="M228.5 58.4 232.5 59.3 238.1 60.5 244.7 61.9 251.5 63.6" stroke="#2040d5"/><path d="M251.5 63.6 257.9 65.7 263.2 68.1 267.2 71.2 270.7 74.8 273.7 78.7" stroke="#2039d2"/><path d="M273.7 78.7 276.4 82.8 279.1 86.6 281.8 90.0 284.7 93.0 287.7 95.9" stroke="#2047d7"/><path d="M287.7 95.9 290.6 98.6 293.2 101.0 295.4 103.0 297.1 104.5" stroke="#2040d5"/></g><g stroke-width="1.5" opacity="0.85"><path d="M251.6 67.0 254.8 68.5 259.2 70.5 264.5 72.9" stroke="#2096d7"/><path d="M264.5 72.9 270.0 75.8 275.1 79.2 279.4 83.3 282.9 88.3 286.0 94.4" stroke="#2096d7"/><path d="M286.0 94.4 288.8 101.0 291.3 107.7 293.8 114.0 296.3 119.6 298.9 124.7" stroke="#2096d7"/><path d="M298.9 124.7 301.7 129.5 304.3 134.0 306.6 138.0 308.6 141.4 310.1 143.9" stroke="#2088d9"/></g><g stroke-width="1.6" opacity="0.85"><path d="M273.5 61.7 277.2 62.8 282.4 64.2 288.5 66.0 294.9 68.2 300.9 70.9" stroke="#22b3bf"/><path d="M300.9 70.9 305.9 74.1 309.9 78.2 313.3 83.1 316.4 88.6 319.2 94.1" stroke="#24b6b3"/><path d="M319.2 94.1 321.9 99.4 324.7 104.0 327.6 108.1 330.6 112.1 333.5 115.8" stroke="#26b9a2"/><path d="M333.5 115.8 336.1 119.1 338.4 121.9 340.0 123.9" stroke="#22b3c1"/></g><g stroke-width="1.3" opacity="0.85"><path d="M267.2 61.5 270.2 62.9 274.4 64.9 279.3 67.3 284.5 70.0 289.7 73.0" stroke="#203ed4"/><path d="M289.7 73.0 294.3 76.0 298.4 79.4 302.4 83.3 306.3 87.3 310.1 91.4" stroke="#2044d6"/><path d="M310.1 91.4 313.8 95.2 317.4 98.6 321.0 101.8 324.7 104.8 328.2 107.6" stroke="#2041d5"/><path d="M328.2 107.6 331.5 110.1 334.2 112.2 336.2 113.7" stroke="#2041d5"/></g><g stroke-width="1.3" opacity="0.85"><path d="M226.1 70.1 231.2 71.7 238.5 73.9 247.0 76.6 255.9 79.6" stroke="#205bdd"/><path d="M255.9 79.6 264.3 82.9 271.3 86.5 276.8 90.5 281.7 95.1 286.0 100.0" stroke="#2057dc"/><path d="M286.0 100.0 290.0 104.9 293.8 109.6 297.7 113.8 301.8 117.5 306.1 121.2" stroke="#205dde"/><path d="M306.1 121.2 310.2 124.6 313.9 127.6 317.0 130.1 319.3 132.0" stroke="#205ede"/></g><g stroke-width="1.3" opacity="0.85"><path d="M229.3 69.2 232.8 70.0" stroke="#203ed4"/><path d="M232.8 70.0 237.6 70.9 243.3 72.1 249.2 73.7 254.9 75.8 259.6 78.4" stroke="#2042d5"/><path d="M259.6 78.4 263.5 82.0 266.9 86.3 270.0 91.2 272.9 96.2 275.7 100.9" stroke="#2043d5"/><path d="M275.7 100.9 278.5 105.0 281.4 108.7 284.5 112.2 287.4 115.5 290.1 118.4" stroke="#2040d5"/><path d="M290.1 118.4 292.3 120.9 293.9 122.7" stroke="#2044d6"/></g><g stroke-width="1.3" opacity="0.85"><path d="M246.5 56.6 250.2 57.5" stroke="#2094d7"/><path d="M250.2 57.5 255.4 58.6 261.6 60.0 268.0 61.7 273.9 63.8 278.7 66.4" stroke="#2097d7"/><path d="M278.7 66.4 282.4 69.7 285.5 73.6 288.2 78.0 290.6 82.4 292.9 86.7" stroke="#2093d7"/><path d="M292.9 86.7 295.3 90.4 297.9 93.7 300.5 96.9 303.1 99.8 305.4 102.5" stroke="#208ed8"/><path d="M305.4 102.5 307.4 104.7 308.8 106.3" stroke="#2093d7"/></g><g stroke-width="1.1" opacity="0.85"><path d="M228.5 66.9 234.4 68.4 242.7 70.3 252.5 72.6 262.8 75.3" stroke="#209bd6"/><path d="M262.8 75.3 272.4 78.2 280.6 81.2 287.2 84.6 293.1 88.5 298.4 92.6" stroke="#20a6d4"/><path d="M298.4 92.6 303.4 96.7 308.2 100.7 313.0 104.1 318.1 107.3 323.3 110.4" stroke="#20abd3"/><path d="M323.3 110.4 328.3 113.2 332.9 115.7 336.7 117.8 339.5 119.4" stroke="#20a1d5"/></g><g stroke-width="1.4" opacity="0.85"><path d="M253.9 68.5 256.8 70.3 260.8 72.7 265.6 75.6" stroke="#203bd3"/><path d="M265.6 75.6 270.6 78.9 275.4 82.5 279.4 86.3 282.7 90.5 285.7 95.2" stroke="#2040d5"/><path d="M285.7 95.2 288.4 100.2 290.9 105.3 293.4 110.0 295.9 114.3 298.4 118.2" stroke="#2047d7"/><path d="M298.4 118.2 301.1 121.9 303.6 125.4 306.0 128.5 307.9 131.0 309.3 133.0" stroke="#2041d5"/></g><g stroke-width="1.6" opacity="0.85"><path d="M273.2 56.5 275.5 58.2 278.8 60.3 282.6 63.0" stroke="#2060df"/><path d="M282.6 63.0 286.6 66.0 290.4 69.3 293.5 72.8 296.0 76.8 298.2 81.3" stroke="#2058dc"/><path d="M298.2 81.3 300.1 86.2 301.9 91.0 303.7 95.6 305.4 99.7 307.3 103.4" stroke="#2054db"/><path d="M307.3 103.4 309.2 107.0 311.0 110.4 312.7 113.3 314.1 115.8 315.2 117.7" stroke="#2054db"/></g><g stroke-width="1.3" opacity="0.85"><path d="M240.1 59.8 245.3 61.5 252.5 63.8 261.1 66.5 270.0 69.7" stroke="#2063e0"/><path d="M270.0 69.7 278.5 73.1 285.6 76.8 291.4 81.0 296.5 85.8 301.2 90.9" stroke="#2062df"/><path d="M301.2 90.9 305.5 96.0 309.7 100.8 313.9 105.1 318.4 109.0 322.9 112.8" stroke="#205cdd"/><path d="M322.9 112.8 327.3 116.3 331.3 119.5 334.7 122.0 337.1 124.0" stroke="#2059dd"/></g><g stroke-width="1.3" opacity="0.85"><path d="M259.6 66.5 263.5 68.0 269.1 70.1 275.7 72.5 282.6 75.4 289.0 78.8" stroke="#20a0d5"/><path d="M289.0 78.8 294.4 82.5 298.5 86.9 302.2 92.1 305.4 97.8 308.3 103.4" stroke="#209bd6"/><path d="M308.3 103.4 311.1 108.9 314.0 113.6 317.1 117.9 320.2 122.1 323.3 125.9" stroke="#2095d7"/><path d="M323.3 125.9 326.1 129.4 328.4 132.2 330.1 134.4" stroke="#209bd6"/></g><g stroke-width="1.4" opacity="0.85"><path d="M262.6 52.3 265.4 54.3 269.4 57.0 274.0 60.3 278.9 64.2 283.6 68.7" stroke="#20abd3"/><path d="M283.6 68.7 287.7 73.8 291.1 80.0 294.2 87.4 297.2 95.4 300.0 103.5" stroke="#20afd2"/><path d="M300.0 103.5 302.6 111.2 305.3 117.9 308.1 124.0 310.9 129.9 313.6 135.4" stroke="#22b3c4"/><path d="M313.6 135.4 316.1 140.3 318.2 144.3 319.7 147.3" stroke="#25b8a8"/></g><g stroke-width="1.5" opacity="0.85"><path d="M274.9 51.1 276.8 52.6 279.5 54.7 282.7 57.3" stroke="#203ed4"/><path d="M282.7 57.3 286.0 60.1 289.1 63.2 291.7 66.4 293.6 70.0 295.3 74.0" stroke="#203bd3"/><path d="M295.3 74.0 296.7 78.3 298.0 82.6 299.3 86.7 300.6 90.3 301.9 93.6" stroke="#203cd3"/><path d="M301.9 93.6 303.4 96.7 304.7 99.7 306.0 102.3 307.0 104.5 307.8 106.2" stroke="#2039d2"/></g><g stroke-width="1.6" opacity="0.85"><path d="M263.6 53.8 265.8 56.3" stroke="#2099d6"/><path d="M265.8 56.3 268.8 59.5 272.3 63.4 276.0 67.8 279.6 72.5 282.6 77.3" stroke="#20a3d4"/><path d="M282.6 77.3 285.2 82.6 287.5 88.5 289.7 94.6 291.8 100.8 293.8 106.6" stroke="#20a9d3"/><path d="M293.8 106.6 295.7 111.9 297.8 116.6 299.9 121.2 301.9 125.5 303.8 129.3" stroke="#20a9d3"/><path d="M303.8 129.3 305.3 132.5 306.5 134.9" stroke="#20b1cf"/></g><g stroke-width="1.1" opacity="0.85"><path d="M255.5 60.0 257.6 60.8" stroke="#2082db"/><path d="M257.6 60.8 260.6 61.8 264.1 63.0 267.7 64.5 271.1 66.4 273.8 68.5" stroke="#207bdc"/><path d="M273.8 68.5 275.9 71.3 277.7 74.5 279.2 78.1 280.6 81.8 281.9 85.3" stroke="#2077dc"/><path d="M281.9 85.3 283.3 88.3 284.8 91.0 286.3 93.7 287.8 96.1 289.1 98.3" stroke="#207cdc"/><path d="M289.1 98.3 290.3 100.1 291.1 101.5" stroke="#2080db"/></g><g stroke-width="1.1" opacity="0.85"><path d="M258.1 65.4 261.8 67.0 266.8 69.1" stroke="#2058dc"/><path d="M266.8 69.1 272.8 71.7 279.1 74.7 285.3 78.2 290.7 82.1 295.4 86.7" stroke="#2060df"/><path d="M295.4 86.7 300.0 92.1 304.3 97.9 308.5 103.9 312.6 109.5 316.5 114.4" stroke="#2058dc"/><path d="M316.5 114.4 320.5 118.9 324.7 123.2 328.7 127.2 332.3 130.8 335.4 133.7" stroke="#2055db"/><path d="M335.4 133.7 337.6 136.0" stroke="#205add"/></g><g stroke-width="1.4" opacity="0.85"><path d="M243.3 62.6 246.9 64.8 251.8 67.6" stroke="#20abd3"/><path d="M251.8 67.6 257.7 71.0 263.9 75.0 269.9 79.4 275.3 84.2 280.0 89.7" stroke="#20a7d4"/><path d="M280.0 89.7 284.6 96.0 289.0 102.9 293.3 109.7 297.5 116.2 301.5 122.0" stroke="#209ad6"/><path d="M301.5 122.0 305.6 127.2 309.8 132.3 313.8 137.0 317.5 141.2 320.6 144.7" stroke="#2093d7"/><path d="M320.6 144.7 322.9 147.3" stroke="#2094d7"/></g><g stroke-width="1.3" opacity="0.85"><path d="M239.2 68.8 244.0 70.5 250.7 72.6 258.6 75.3 266.9 78.3 274.9 81.7" stroke="#2085da"/><path d="M274.9 81.7 281.9 85.6 287.7 90.0 293.2 95.2 298.3 100.8 303.2 106.5" stroke="#208bd9"/><path d="M303.2 106.5 307.9 111.8 312.6 116.6 317.4 120.9 322.3 125.0 327.1 128.9" stroke="#2077dd"/><path d="M327.1 128.9 331.5 132.3 335.1 135.1 337.8 137.3" stroke="#2090d8"/></g><g stroke-width="1.1" opacity="0.85"><path d="M266.3 51.5 270.0 53.8" stroke="#2098d6"/><path d="M270.0 53.8 275.2 56.8 281.3 60.5 287.7 64.7 293.7 69.5 298.7 74.9" stroke="#209dd5"/><path d="M298.7 74.9 302.6 81.1 306.1 88.4 309.2 96.3 312.0 104.2 314.8 111.8" stroke="#20a7d4"/><path d="M314.8 111.8 317.6 118.4 320.6 124.4 323.6 130.2 326.5 135.7 329.2 140.5" stroke="#20a9d3"/><path d="M329.2 140.5 331.5 144.5 333.1 147.5" stroke="#209dd5"/></g><g stroke-width="1.2" opacity="0.85"><path d="M257.3 60.7 260.3 61.2 264.5 61.8 269.5 62.6 274.7 63.7" stroke="#2058dc"/><path d="M274.7 63.7 279.7 65.3 284.0 67.6 287.7 70.8 291.1 74.8 294.3 79.4" stroke="#205fde"/><path d="M294.3 79.4 297.3 84.1 300.3 88.6 303.2 92.5 306.2 95.9 309.2 99.2" stroke="#2052da"/><path d="M309.2 99.2 312.2 102.3 314.9 105.0 317.2 107.3 318.9 109.0" stroke="#2050da"/></g><g stroke-width="1.3" opacity="0.85"><path d="M237.7 63.9 241.2 64.6 246.1 65.4" stroke="#2042d5"/><path d="M246.1 65.4 251.8 66.4 257.7 67.8 263.2 69.6 267.7 72.0 271.1 75.4" stroke="#2046d6"/><path d="M271.1 75.4 273.8 79.5 276.2 84.1 278.3 88.8 280.3 93.3 282.5 97.2" stroke="#203dd3"/><path d="M282.5 97.2 284.8 100.7 287.1 104.0 289.4 107.2 291.5 110.0 293.3 112.3" stroke="#203dd4"/><path d="M293.3 112.3 294.6 114.0" stroke="#2046d6"/></g><g stroke-width="1.3" opacity="0.85"><path d="M230.2 60.4 234.4 61.1 240.3 61.9 247.2 63.0 254.5 64.4" stroke="#2094d7"/><path d="M254.5 64.4 261.6 66.3 267.7 68.9 272.9 72.4 277.8 76.8 282.4 81.7" stroke="#2086da"/><path d="M282.4 81.7 286.9 86.7 291.1 91.5 295.3 95.6 299.7 99.3 304.1 102.9" stroke="#2074dd"/><path d="M304.1 102.9 308.4 106.2 312.3 109.2 315.6 111.6 318.0 113.5" stroke="#207adc"/></g><g stroke-width="1.4" opacity="0.85"><path d="M237.7 61.9 242.5 63.2 249.3 64.8 257.3 66.8 265.6 69.2" stroke="#205ede"/><path d="M265.6 69.2 273.4 72.2 279.9 75.6 284.9 80.0 289.2 85.1 293.0 90.8" stroke="#205ede"/><path d="M293.0 90.8 296.5 96.6 299.8 102.1 303.3 106.9 307.0 111.2 310.7 115.4" stroke="#2060df"/><path d="M310.7 115.4 314.3 119.3 317.7 122.8 320.4 125.6 322.5 127.8" stroke="#2055db"/></g><g stroke-width="1.3" opacity="0.85"><path d="M257.1 56.3 259.6 57.7 263.0 59.7 267.0 62.0 271.2 64.6" stroke="#208ed8"/><path d="M271.2 64.6 275.3 67.4 278.9 70.4 282.1 73.6 285.0 77.3 287.9 81.1" stroke="#207cdc"/><path d="M287.9 81.1 290.6 85.0 293.3 88.6 295.9 91.9 298.6 94.8 301.3 97.7" stroke="#2089d9"/><path d="M301.3 97.7 303.9 100.4 306.3 102.7 308.3 104.7 309.8 106.2" stroke="#2093d7"/></g><path d="M186.7 108.1 205.0 105.2 235.0 109.2 262.0 108.3" stroke="#8890a0" stroke-width="0.6"/><path d="M181.1 112.2 205.0 110.8 235.0 110.9 262.0 116.3" stroke="#8890a0" stroke-width="0.6"/><path d="M187.7 116.5 205.0 118.4 235.0 118.8 262.0 120.2" stroke="#8890a0" stroke-width="0.6"/><path d="M187.7 116.4 205.0 116.0 235.0 116.7 262.0 118.8" stroke="#8890a0" stroke-width="0.6"/><path d="M182.1 106.5 205.0 107.2 235.0 106.9 262.0 109.1" stroke="#8890a0" stroke-width="0.6"/><path d="M181.5 107.9 205.0 110.2 235.0 110.7 262.0 110.1" stroke="#8890a0" stroke-width="0.6"/><path d="M185.7 124.3 205.0 125.8 235.0 123.2 262.0 130.1" stroke="#8890a0" stroke-width="0.6"/><path d="M181.4 115.1 205.0 112.5 235.0 113.4 262.0 115.1" stroke="#8890a0" stroke-width="0.6"/><path d="M187.9 121.5 205.0 120.1 235.0 121.3 262.0 127.0" stroke="#8890a0" stroke-width="0.6"/><path d="M189.0 110.6 205.0 112.6 235.0 111.1 262.0 113.4" stroke="#8890a0" stroke-width="0.6"/></g>

<!-- nose/green main fill -->
<path d="M11 97 C20 94 32 91.5 45 91.5 C55 92 62 93 67 93 C80 94 95 98 106 104 C100 120 100 140 108 158 C125 164 140 162 150 152 C170 156 195 160 220 162 L240 168 C200 172 170 180 152 182.6 L134 179 L117 175 L99 169 L81 162 L64 156 L46 151 C30 148 18 145 12 141 C9 127 9 112 11 97 Z" fill="url(#gNose)" filter="url(#b1)"/>

<!-- orange/red band -->
<path d="M60 149 C90 153 125 158 160 164 C210 170 270 178 330 186 L362 194 C340 198 315 201 294 202 L266 197.4 L209 190.3 L170 186 L152 182.6 L134 179 L117 175 C100 168 80 158 60 149 Z" fill="url(#gBot)" filter="url(#b1)"/>

<ellipse cx="332" cy="177" rx="24" ry="9" fill="#b8cc48" opacity="0.85" filter="url(#b2)"/>
<g fill="none" stroke-linecap="round"><g stroke-width="2.2" opacity="0.92"><path d="M13.6 97.5 16.8 97.3" stroke="#1d28ad"/><path d="M16.8 97.3 21.4 96.9 26.7 96.4 32.4 96.0" stroke="#1d2bb3"/><path d="M32.4 96.0 37.8 95.6 42.5 95.4 46.4 95.3" stroke="#1e2fbd"/><path d="M46.4 95.3 49.6 95.1 52.7 95.0 55.9 95.1" stroke="#2060df"/><path d="M55.9 95.1 59.5 95.4 63.9 96.1 69.0 97.2" stroke="#28bc93"/><path d="M69.0 97.2 74.8 98.7 81.0 100.4 87.5 102.3" stroke="#2cc26f"/><path d="M87.5 102.3 94.2 104.3 101.2 106.4 108.2 108.5" stroke="#2dc36b"/><path d="M108.2 108.5 115.5 110.8 123.1 113.2 130.9 115.7" stroke="#2fc658"/><path d="M130.9 115.7 138.9 118.2 147.3 120.8 155.9 123.4" stroke="#34c94c"/><path d="M155.9 123.4 164.9 126.1 174.2 128.9 183.7 131.6" stroke="#39cb47"/><path d="M183.7 131.6 193.3 134.3 202.9 136.7 212.8 139.0" stroke="#3ecc43"/><path d="M212.8 139.0 223.2 141.2 233.6 143.3 243.9 145.3" stroke="#3ccc45"/><path d="M243.9 145.3 253.7 146.9 262.8 148.3 271.0 150.0" stroke="#38ca49"/><path d="M271.0 150.0 278.6 152.2 285.7 154.2 292.6 155.1" stroke="#38cb48"/><path d="M292.6 155.1 299.2 154.3 305.9 150.9 312.9 144.5" stroke="#3acb47"/><path d="M312.9 144.5 320.0 135.7 326.9 125.0 333.4 113.3" stroke="#36ca4b"/><path d="M333.4 113.3 339.1 101.2 343.7 89.5 346.9 76.9" stroke="#31c84f"/><path d="M346.9 76.9 349.2 62.7 350.6 48.1 351.5 34.3" stroke="#32c94e"/><path d="M351.5 34.3 352.2 22.7 352.9 14.4" stroke="#33c94d"/></g><g stroke-width="1.4" opacity="0.92"><path d="M13.4 97.1 16.8 96.5 21.5 95.7" stroke="#1d29b0"/><path d="M21.5 95.7 27.0 94.8 32.8 93.9 38.4 93.3" stroke="#2036cd"/><path d="M38.4 93.3 43.3 93.0 47.1 93.0 50.4 93.3" stroke="#2050da"/><path d="M50.4 93.3 53.5 93.8 56.7 94.5 60.2 95.3" stroke="#20aed2"/><path d="M60.2 95.3 64.5 96.3 69.3 97.4 74.5 98.6" stroke="#35c94c"/><path d="M74.5 98.6 80.1 99.9 86.2 101.5 92.7 103.2" stroke="#34c94c"/><path d="M92.7 103.2 99.8 105.3 107.7 107.7 116.4 110.5" stroke="#33c94d"/><path d="M116.4 110.5 125.7 113.6 135.0 116.7 144.2 119.8" stroke="#2fc754"/><path d="M144.2 119.8 152.9 122.7 160.9 125.5 168.4 128.3" stroke="#2fc65b"/><path d="M168.4 128.3 175.8 131.0 183.3 133.7 191.0 136.2" stroke="#36ca4a"/><path d="M191.0 136.2 199.4 138.7 208.5 141.1 218.2 143.5" stroke="#3dcc44"/><path d="M218.2 143.5 228.3 145.8 238.4 147.8 248.2 149.6" stroke="#35c94c"/><path d="M248.2 149.6 257.4 150.8 266.2 152.2 274.8 153.9" stroke="#30c754"/><path d="M274.8 153.9 283.2 155.3 291.1 155.7 298.7 154.3" stroke="#34c94c"/><path d="M298.7 154.3 305.8 150.6 312.2 144.0 318.2 135.1" stroke="#37ca49"/><path d="M318.2 135.1 323.7 124.4 328.9 112.7 333.9 100.6" stroke="#33c94e"/><path d="M333.9 100.6 339.0 88.8 344.2 76.2 349.6 61.9" stroke="#2fc756"/><path d="M349.6 61.9 354.9 47.2 359.6 33.4 363.7 21.7" stroke="#2ec562"/><path d="M363.7 21.7 366.6 13.3" stroke="#2dc369"/></g><g stroke-width="1.9" opacity="0.92"><path d="M12.9 96.3 16.3 96.4 21.1 96.4" stroke="#1d2ab1"/><path d="M21.1 96.4 26.7 96.5 32.6 96.6 38.2 96.9" stroke="#1f33c7"/><path d="M38.2 96.9 42.9 97.2 46.5 97.6 49.3 98.0" stroke="#2048d7"/><path d="M49.3 98.0 51.9 98.5 54.6 99.2 57.7 99.9" stroke="#209dd6"/><path d="M57.7 99.9 61.6 100.8 66.4 101.8 71.5 102.9" stroke="#32c94e"/><path d="M71.5 102.9 77.2 104.1 83.3 105.5 89.9 107.1" stroke="#56d232"/><path d="M89.9 107.1 97.1 109.0 105.0 111.3 113.7 113.9" stroke="#94d232"/><path d="M113.7 113.9 122.9 116.7 132.3 119.6 141.6 122.4" stroke="#4bd136"/><path d="M141.6 122.4 150.7 125.0 159.3 127.3 167.7 129.5" stroke="#34c94c"/><path d="M167.7 129.5 176.1 131.7 184.5 133.7 193.1 135.7" stroke="#37ca49"/><path d="M193.1 135.7 202.0 137.7 211.4 139.6 221.2 141.6" stroke="#39cb48"/><path d="M221.2 141.6 231.2 143.4 241.0 145.2 250.5 146.9" stroke="#35ca4b"/><path d="M250.5 146.9 259.3 148.4 267.5 150.4 275.2 153.0" stroke="#31c84f"/><path d="M275.2 153.0 282.5 155.6 289.4 157.2 296.1 157.1" stroke="#30c850"/><path d="M296.1 157.1 302.4 154.5 308.7 149.0 314.9 141.1" stroke="#30c851"/><path d="M314.9 141.1 320.7 131.5 326.0 120.9 330.6 109.9" stroke="#31c84f"/><path d="M330.6 109.9 334.1 99.3 336.4 87.9 337.6 75.2" stroke="#33c94d"/><path d="M337.6 75.2 338.0 62.0 338.0 49.7 337.8 39.2" stroke="#35c94c"/><path d="M337.8 39.2 337.9 31.7" stroke="#36ca4b"/></g><g stroke-width="1.3" opacity="0.92"><path d="M13.1 99.9 16.4 99.4" stroke="#1b219d"/><path d="M16.4 99.4 21.2 98.6 26.8 97.7 32.7 96.9" stroke="#1d29af"/><path d="M32.7 96.9 38.3 96.1 43.1 95.7 46.8 95.6" stroke="#1f35ca"/><path d="M46.8 95.6 50.0 95.5 52.9 95.6 55.9 95.9" stroke="#206adf"/><path d="M55.9 95.9 59.3 96.4 63.3 97.2 68.0 98.3" stroke="#29be85"/><path d="M68.0 98.3 73.0 99.6 78.4 101.1 84.3 102.8" stroke="#2fc757"/><path d="M84.3 102.8 90.6 104.8 97.4 107.1 104.9 109.7" stroke="#33c94d"/><path d="M104.9 109.7 113.1 112.8 121.8 116.1 130.7 119.5" stroke="#36ca4b"/><path d="M130.7 119.5 139.6 122.7 148.4 125.6 156.9 128.2" stroke="#38ca49"/><path d="M156.9 128.2 165.3 130.7 173.7 132.9 182.3 135.1" stroke="#34c94d"/><path d="M182.3 135.1 191.1 137.3 200.4 139.4 210.3 141.7" stroke="#2fc757"/><path d="M210.3 141.7 220.9 144.1 231.8 146.4 242.5 148.5" stroke="#30c852"/><path d="M242.5 148.5 252.8 150.3 262.1 151.6 270.7 152.9" stroke="#32c94e"/><path d="M270.7 152.9 278.8 154.5 286.4 155.6 293.4 155.9" stroke="#39cb48"/><path d="M293.4 155.9 299.9 154.7 305.7 151.5 310.5 145.8" stroke="#3fcd42"/><path d="M310.5 145.8 314.1 138.1 317.2 128.9 320.2 118.8" stroke="#3fcd42"/><path d="M320.2 118.8 323.6 108.3 327.9 98.1 333.6 87.2" stroke="#3dcc44"/><path d="M333.6 87.2 340.4 74.9 347.6 62.2 354.5 50.3" stroke="#39cb48"/><path d="M354.5 50.3 360.4 40.2 364.6 33.0" stroke="#35ca4b"/></g><g stroke-width="1.7" opacity="0.92"><path d="M14.2 99.1 17.3 98.7 21.7 98.0" stroke="#1f33c5"/><path d="M21.7 98.0 26.8 97.3 32.3 96.6 37.6 96.1" stroke="#1f33c5"/><path d="M37.6 96.1 42.3 95.8 46.2 95.6 49.6 95.5" stroke="#203bd3"/><path d="M49.6 95.5 52.9 95.6 56.3 95.9 60.1 96.5" stroke="#208dd8"/><path d="M60.1 96.5 64.6 97.5 69.8 99.0 75.5 101.0" stroke="#2fc754"/><path d="M75.5 101.0 81.5 103.4 87.9 105.9 94.6 108.3" stroke="#4bd037"/><path d="M94.6 108.3 101.4 110.5 108.5 112.4 115.8 114.2" stroke="#78d232"/><path d="M115.8 114.2 123.5 115.9 131.3 117.7 139.4 119.6" stroke="#42ce3f"/><path d="M139.4 119.6 147.8 121.8 156.4 124.4 165.4 127.4" stroke="#2ec464"/><path d="M165.4 127.4 174.7 130.5 184.0 133.6 193.4 136.5" stroke="#2ec562"/><path d="M193.4 136.5 202.8 139.1 212.2 141.4 221.9 143.6" stroke="#2ec55f"/><path d="M221.9 143.6 231.6 145.6 241.2 147.4 250.4 148.9" stroke="#2ec55e"/><path d="M250.4 148.9 259.0 150.1 267.1 151.5 274.8 153.1" stroke="#2ec55e"/><path d="M274.8 153.1 282.1 154.4 289.1 154.9 295.9 154.1" stroke="#2ec65d"/><path d="M295.9 154.1 302.5 151.4 309.2 146.4 315.9 139.5" stroke="#2ec65c"/><path d="M315.9 139.5 322.4 131.2 328.4 122.2 333.7 112.8" stroke="#2ec561"/><path d="M333.7 112.8 337.9 103.7 341.0 93.9 343.1 82.9" stroke="#2ec464"/><path d="M343.1 82.9 344.4 71.5 345.3 60.9 345.9 51.8" stroke="#2ec65d"/><path d="M345.9 51.8 346.5 45.4" stroke="#2fc658"/></g><g stroke-width="1.5" opacity="0.92"><path d="M12.8 98.6 16.1 98.6" stroke="#1e2fbc"/><path d="M16.1 98.6 20.8 98.7 26.3 98.8 32.0 98.9" stroke="#1f32c3"/><path d="M32.0 98.9 37.5 99.0 42.1 99.0 45.6 98.9" stroke="#2036ce"/><path d="M45.6 98.9 48.3 98.4 50.7 98.0 53.4 97.8" stroke="#207bdc"/><path d="M53.4 97.8 56.6 97.9 60.8 98.6 66.2 100.0" stroke="#31c84f"/><path d="M66.2 100.0 72.4 101.9 79.2 104.3 86.3 106.8" stroke="#71d232"/><path d="M86.3 106.8 93.7 109.3 101.1 111.7 108.5 113.9" stroke="#d5d13c"/><path d="M108.5 113.9 116.2 116.0 124.0 118.2 132.0 120.4" stroke="#8ad232"/><path d="M132.0 120.4 140.1 122.6 148.2 125.0 156.2 127.5" stroke="#3acb46"/><path d="M156.2 127.5 164.1 130.2 172.0 133.0 180.2 135.8" stroke="#36ca4b"/><path d="M180.2 135.8 188.8 138.4 198.0 140.9 208.1 143.2" stroke="#38cb48"/><path d="M208.1 143.2 219.2 145.6 230.6 147.8 242.0 149.9" stroke="#36ca4b"/><path d="M242.0 149.9 252.7 151.6 262.4 153.0 271.0 154.4" stroke="#32c94e"/><path d="M271.0 154.4 278.8 156.1 286.0 157.4 292.8 158.0" stroke="#30c851"/><path d="M292.8 158.0 299.4 157.0 306.0 154.1 312.4 148.8" stroke="#2fc659"/><path d="M312.4 148.8 318.7 141.6 324.7 132.9 330.6 123.3" stroke="#2fc756"/><path d="M330.6 123.3 336.3 113.4 341.9 103.8 347.6 93.5" stroke="#30c851"/><path d="M347.6 93.5 353.6 81.8 359.4 69.9 364.7 58.7" stroke="#34c94d"/><path d="M364.7 58.7 369.2 49.1 372.4 42.3" stroke="#37ca49"/></g><g stroke-width="2.0" opacity="0.92"><path d="M12.4 100.8 16.0 100.7 21.0 100.5 26.9 100.3" stroke="#1f32c5"/><path d="M26.9 100.3 33.0 100.2 38.8 100.2 43.7 100.3" stroke="#2037cf"/><path d="M43.7 100.3 47.3 100.5 50.2 100.7 52.7 101.1" stroke="#205dde"/><path d="M52.7 101.1 55.3 101.5 58.5 102.2 62.6 103.0" stroke="#2bc176"/><path d="M62.6 103.0 67.8 103.9 73.7 105.0 80.1 106.2" stroke="#5bd232"/><path d="M80.1 106.2 86.9 107.6 93.9 109.2 101.1 111.0" stroke="#a4d232"/><path d="M101.1 111.0 108.4 113.0 116.2 115.2 124.1 117.7" stroke="#92d232"/><path d="M124.1 117.7 132.3 120.2 140.5 122.9 148.7 125.6" stroke="#40cd41"/><path d="M148.7 125.6 156.8 128.5 164.9 131.6 173.0 134.8" stroke="#30c753"/><path d="M173.0 134.8 181.4 137.9 190.0 140.8 199.1 143.4" stroke="#35c94c"/><path d="M199.1 143.4 209.0 145.6 219.5 147.6 230.4 149.3" stroke="#38ca49"/><path d="M230.4 149.3 241.2 150.8 251.5 152.2 260.9 153.3" stroke="#39cb47"/><path d="M260.9 153.3 269.4 154.9 277.4 157.0 284.9 158.9" stroke="#38cb48"/><path d="M284.9 158.9 292.0 159.9 298.8 159.2 305.4 156.1" stroke="#35c94c"/><path d="M305.4 156.1 311.7 150.3 317.5 142.1 323.1 132.2" stroke="#30c851"/><path d="M323.1 132.2 328.5 121.4 333.9 110.2 339.3 99.3" stroke="#2dc369"/><path d="M339.3 99.3 345.1 87.6 351.2 74.5 357.4 61.0" stroke="#2cc272"/><path d="M357.4 61.0 363.0 48.3 367.7 37.5 371.2 29.8" stroke="#2cc36d"/></g><g stroke-width="2.1" opacity="0.92"><path d="M13.3 100.3 17.2 100.0" stroke="#2036cc"/><path d="M17.2 100.0 22.9 99.5 29.5 99.0 36.3 98.6" stroke="#2039d2"/><path d="M36.3 98.6 42.6 98.3 47.6 98.2 51.1 98.4" stroke="#203fd4"/><path d="M51.1 98.4 53.5 98.7 55.5 99.2 57.4 99.8" stroke="#207fdb"/><path d="M57.4 99.8 59.8 100.7 63.3 101.8 67.8 103.3" stroke="#2ec563"/><path d="M67.8 103.3 72.8 105.2 78.3 107.3 84.3 109.5" stroke="#4ed233"/><path d="M84.3 109.5 90.8 111.7 97.8 113.9 105.4 116.0" stroke="#a6d232"/><path d="M105.4 116.0 113.8 118.0 122.7 120.1 131.8 122.2" stroke="#71d232"/><path d="M131.8 122.2 140.9 124.5 149.7 126.9 158.2 129.6" stroke="#3fcd42"/><path d="M158.2 129.6 166.4 132.6 174.6 135.7 183.0 138.8" stroke="#3bcb46"/><path d="M183.0 138.8 191.6 141.7 200.8 144.2 210.7 146.4" stroke="#3ccc45"/><path d="M210.7 146.4 221.3 148.5 232.2 150.4 243.0 152.1" stroke="#37ca4a"/><path d="M243.0 152.1 253.2 153.5 262.5 154.6 270.7 155.8" stroke="#30c850"/><path d="M270.7 155.8 278.4 157.2 285.4 158.4 292.1 158.7" stroke="#36ca4a"/><path d="M292.1 158.7 298.3 157.8 304.3 155.0 309.8 150.0" stroke="#3fcd42"/><path d="M309.8 150.0 314.8 143.2 319.5 135.0 323.9 126.0" stroke="#3fcd42"/><path d="M323.9 126.0 328.2 116.8 332.5 107.8 337.1 98.1" stroke="#3dcc44"/><path d="M337.1 98.1 341.8 87.2 346.5 75.9 350.7 65.4" stroke="#3ccc44"/><path d="M350.7 65.4 354.2 56.4 356.8 50.0" stroke="#3ccc45"/></g><g stroke-width="2.2" opacity="0.92"><path d="M13.4 100.2 17.3 100.1 22.8 99.9 29.3 99.7" stroke="#1d2ab0"/><path d="M29.3 99.7 35.9 99.6 42.0 99.5 46.7 99.7" stroke="#1f34ca"/><path d="M46.7 99.7 49.8 100.0 51.7 100.3 53.0 100.8" stroke="#2059dc"/><path d="M53.0 100.8 54.4 101.5 56.4 102.3 59.8 103.5" stroke="#25b7ab"/><path d="M59.8 103.5 64.6 104.9 70.2 106.7 76.4 108.6" stroke="#41cd40"/><path d="M76.4 108.6 83.2 110.7 90.4 112.9 97.9 114.9" stroke="#7ed232"/><path d="M97.9 114.9 105.8 116.9 114.3 118.9 123.2 121.0" stroke="#82d232"/><path d="M123.2 121.0 132.2 123.0 141.3 125.2 150.1 127.4" stroke="#45cf3c"/><path d="M150.1 127.4 158.6 129.7 166.9 132.1 175.2 134.5" stroke="#39cb48"/><path d="M175.2 134.5 183.6 137.0 192.3 139.4 201.3 141.8" stroke="#3dcc44"/><path d="M201.3 141.8 211.1 144.3 221.5 146.9 232.1 149.6" stroke="#3dcc43"/><path d="M232.1 149.6 242.7 152.0 252.8 154.0 262.0 155.3" stroke="#3acb47"/><path d="M262.0 155.3 270.4 156.6 278.2 157.9 285.6 158.8" stroke="#36ca4a"/><path d="M285.6 158.8 292.6 158.8 299.4 157.3 306.1 153.9" stroke="#33c94d"/><path d="M306.1 153.9 312.8 148.1 319.2 140.3 325.5 131.0" stroke="#30c850"/><path d="M325.5 131.0 331.6 120.9 337.5 110.4 343.3 100.2" stroke="#2fc756"/><path d="M343.3 100.2 349.3 89.2 355.4 76.7 361.5 64.0" stroke="#30c850"/><path d="M361.5 64.0 367.0 52.0 371.6 41.8 375.0 34.5" stroke="#36ca4a"/></g><g stroke-width="1.5" opacity="0.92"><path d="M12.0 102.9 15.5 102.6 20.4 102.1" stroke="#2039d2"/><path d="M20.4 102.1 26.2 101.5 32.2 101.0 37.9 100.5" stroke="#2044d6"/><path d="M37.9 100.5 42.6 100.3 45.9 100.3 48.4 100.3" stroke="#2059dc"/><path d="M48.4 100.3 50.5 100.4 52.8 100.8 55.8 101.3" stroke="#25b7ab"/><path d="M55.8 101.3 60.0 102.1 65.6 103.2 72.2 104.6" stroke="#43ce3e"/><path d="M72.2 104.6 79.4 106.2 87.1 107.9 94.9 109.9" stroke="#38ca49"/><path d="M94.9 109.9 102.6 112.0 110.1 114.2 117.8 116.7" stroke="#2fc755"/><path d="M117.8 116.7 125.5 119.3 133.4 122.1 141.5 124.9" stroke="#2ec65d"/><path d="M141.5 124.9 149.8 127.7 158.1 130.6 166.7 133.7" stroke="#2ec561"/><path d="M166.7 133.7 175.4 136.9 184.2 140.0 193.3 142.7" stroke="#2fc757"/><path d="M193.3 142.7 202.5 145.0 212.2 146.8 222.4 148.2" stroke="#31c84f"/><path d="M222.4 148.2 232.8 149.3 243.0 150.2 252.8 151.1" stroke="#37ca4a"/><path d="M252.8 151.1 261.8 152.2 270.0 154.0 277.6 156.7" stroke="#3ccc45"/><path d="M277.6 156.7 284.8 159.3 291.6 161.1 298.1 161.2" stroke="#40cd41"/><path d="M298.1 161.2 304.4 158.8 310.9 153.5 317.5 145.8" stroke="#40cd41"/><path d="M317.5 145.8 323.8 136.5 329.4 126.1 334.0 115.4" stroke="#31c84f"/><path d="M334.0 115.4 337.1 105.1 338.2 94.1 337.6 81.7" stroke="#2bc177"/><path d="M337.6 81.7 335.9 68.9 333.7 56.9 331.7 46.7" stroke="#2cc272"/><path d="M331.7 46.7 330.6 39.5" stroke="#2cc26f"/></g><g stroke-width="1.4" opacity="0.92"><path d="M12.8 104.6 16.2 104.0 21.1 103.0" stroke="#2037d0"/><path d="M21.1 103.0 26.8 101.8 32.8 100.7 38.4 99.9" stroke="#203bd3"/><path d="M38.4 99.9 43.2 99.6 46.9 99.8 49.9 100.5" stroke="#204ad8"/><path d="M49.9 100.5 52.5 101.3 55.3 102.4 58.6 103.6" stroke="#20b0d2"/><path d="M58.6 103.6 62.8 104.8 67.9 106.1 73.7 107.4" stroke="#3ccc44"/><path d="M73.7 107.4 79.9 108.9 86.6 110.5 93.6 112.1" stroke="#43ce3e"/><path d="M93.6 112.1 100.8 114.0 108.4 115.9 116.3 118.0" stroke="#47cf3a"/><path d="M116.3 118.0 124.6 120.2 133.1 122.5 141.7 125.0" stroke="#44ce3e"/><path d="M141.7 125.0 150.2 127.6 158.6 130.4 167.1 133.6" stroke="#3fcd42"/><path d="M167.1 133.6 175.6 136.9 184.2 140.1 193.0 143.1" stroke="#35ca4b"/><path d="M193.0 143.1 202.1 145.6 211.6 147.8 221.6 149.6" stroke="#2fc659"/><path d="M221.6 149.6 231.7 151.2 241.8 152.6 251.5 153.7" stroke="#2fc755"/><path d="M251.5 153.7 260.7 154.7 269.3 156.1 277.6 157.8" stroke="#31c84f"/><path d="M277.6 157.8 285.6 159.4 293.3 160.2 300.4 159.5" stroke="#37ca49"/><path d="M300.4 159.5 307.1 156.7 313.2 151.5 318.5 144.4" stroke="#3bcb46"/><path d="M318.5 144.4 323.4 135.7 328.1 126.3 332.9 116.5" stroke="#31c84f"/><path d="M332.9 116.5 338.0 106.9 343.9 96.7 350.3 85.2" stroke="#2dc466"/><path d="M350.3 85.2 356.8 73.4 362.8 62.2 367.9 52.8" stroke="#2cc36d"/><path d="M367.9 52.8 371.6 46.0" stroke="#2cc272"/></g><g stroke-width="1.5" opacity="0.92"><path d="M11.2 105.9 15.3 105.2 21.2 104.1" stroke="#1e2cb5"/><path d="M21.2 104.1 28.1 102.9 35.2 101.8 41.7 101.0" stroke="#1f35ca"/><path d="M41.7 101.0 46.8 100.7 50.3 101.0 52.6 101.6" stroke="#204bd8"/><path d="M52.6 101.6 54.4 102.6 56.1 103.8 58.4 105.1" stroke="#21b1cc"/><path d="M58.4 105.1 61.9 106.4 66.4 107.7 71.4 109.0" stroke="#3dcc43"/><path d="M71.4 109.0 77.1 110.4 83.2 112.0 89.9 113.8" stroke="#3acb46"/><path d="M89.9 113.8 97.1 115.8 105.2 118.1 114.1 120.8" stroke="#37ca4a"/><path d="M114.1 120.8 123.5 123.6 133.1 126.5 142.6 129.3" stroke="#31c84f"/><path d="M142.6 129.3 151.6 132.0 159.9 134.4 167.9 136.9" stroke="#2ec55f"/><path d="M167.9 136.9 175.7 139.2 183.6 141.5 191.8 143.7" stroke="#2ec55e"/><path d="M191.8 143.7 200.7 145.9 210.5 148.0 221.0 150.1" stroke="#2fc65b"/><path d="M221.0 150.1 232.0 152.2 242.8 154.1 253.1 155.8" stroke="#30c850"/><path d="M253.1 155.8 262.4 157.1 270.9 158.5 278.8 160.2" stroke="#34c94d"/><path d="M278.8 160.2 286.2 161.7 293.0 162.3 299.3 161.6" stroke="#34c94c"/><path d="M299.3 161.6 304.9 159.1 309.6 154.3 313.4 147.6" stroke="#34c94c"/><path d="M313.4 147.6 316.6 139.6 319.5 130.8 322.4 121.7" stroke="#30c851"/><path d="M322.4 121.7 325.8 112.9 329.8 103.4 334.1 92.7" stroke="#2ec55e"/><path d="M334.1 92.7 338.5 81.7 342.7 71.4 346.1 62.6" stroke="#2ec464"/><path d="M346.1 62.6 348.7 56.4" stroke="#2dc468"/></g><g stroke-width="1.5" opacity="0.92"><path d="M12.4 106.1 16.0 105.7 21.2 105.1 27.3 104.4" stroke="#1f35cb"/><path d="M27.3 104.4 33.6 103.7 39.5 103.2 44.4 102.9" stroke="#2048d7"/><path d="M44.4 102.9 48.0 102.9 50.8 103.0 53.2 103.2" stroke="#207cdc"/><path d="M53.2 103.2 55.6 103.7 58.6 104.3 62.6 105.2" stroke="#2ec561"/><path d="M62.6 105.2 67.5 106.5 73.1 107.9 79.1 109.6" stroke="#59d232"/><path d="M79.1 109.6 85.7 111.5 92.7 113.5 100.0 115.6" stroke="#9cd232"/><path d="M100.0 115.6 108.0 117.9 116.7 120.5 125.7 123.2" stroke="#8ed232"/><path d="M125.7 123.2 135.0 126.0 144.1 128.7 152.9 131.2" stroke="#45ce3d"/><path d="M152.9 131.2 161.2 133.6 169.2 135.9 177.1 138.1" stroke="#36ca4a"/><path d="M177.1 138.1 185.1 140.3 193.3 142.5 201.8 144.8" stroke="#3acb47"/><path d="M201.8 144.8 210.9 147.2 220.4 149.8 230.2 152.4" stroke="#38ca49"/><path d="M230.2 152.4 239.9 154.9 249.5 157.0 258.5 158.6" stroke="#30c851"/><path d="M258.5 158.6 267.4 160.2 276.1 161.9 284.6 163.3" stroke="#2fc65a"/><path d="M284.6 163.3 292.8 163.9 300.4 163.1 307.5 160.5" stroke="#31c84f"/><path d="M307.5 160.5 313.9 155.8 319.9 149.2 325.4 141.3" stroke="#32c84f"/><path d="M325.4 141.3 330.4 132.6 334.7 123.6 338.5 114.8" stroke="#30c850"/><path d="M338.5 114.8 341.4 105.4 343.5 94.9 345.1 84.0" stroke="#2ec65d"/><path d="M345.1 84.0 346.2 73.8 347.0 65.1 347.8 58.9" stroke="#2cc270"/></g><g stroke-width="1.8" opacity="0.92"><path d="M11.3 104.1 14.8 104.0 19.9 103.9 25.8 103.7" stroke="#1f35cb"/><path d="M25.8 103.7 32.0 103.6 37.8 103.6 42.6 103.7" stroke="#2040d4"/><path d="M42.6 103.7 46.2 103.8 48.8 104.0 51.0 104.2" stroke="#2066e0"/><path d="M51.0 104.2 53.4 104.5 56.4 105.1 60.4 105.9" stroke="#2abf7e"/><path d="M60.4 105.9 65.6 107.1 71.5 108.5 78.0 110.1" stroke="#3ccc45"/><path d="M78.0 110.1 85.0 111.9 92.2 113.9 99.7 116.0" stroke="#33c94d"/><path d="M99.7 116.0 107.4 118.3 115.6 120.9 124.1 123.6" stroke="#31c84f"/><path d="M124.1 123.6 132.7 126.4 141.4 129.3 150.0 132.0" stroke="#37ca49"/><path d="M150.0 132.0 158.5 134.7 166.8 137.6 175.2 140.4" stroke="#39cb47"/><path d="M175.2 140.4 183.8 143.1 192.5 145.6 201.6 147.8" stroke="#38cb48"/><path d="M201.6 147.8 211.2 149.7 221.4 151.3 231.9 152.7" stroke="#38cb48"/><path d="M231.9 152.7 242.2 153.9 252.0 154.9 260.9 155.8" stroke="#3acb47"/><path d="M260.9 155.8 268.8 157.0 276.1 158.4 282.9 159.7" stroke="#3dcc44"/><path d="M282.9 159.7 289.3 160.4 295.6 159.9 302.1 157.7" stroke="#40cd41"/><path d="M302.1 157.7 308.8 153.7 315.8 148.1 322.6 141.4" stroke="#3dcc44"/><path d="M322.6 141.4 329.0 134.0 334.7 126.3 339.2 118.9" stroke="#32c94e"/><path d="M339.2 118.9 342.6 110.9 345.0 101.9 346.6 92.7" stroke="#31c84f"/><path d="M346.6 92.7 347.7 84.0 348.5 76.6 349.3 71.4" stroke="#38ca49"/></g><g stroke-width="1.7" opacity="0.92"><path d="M12.4 108.3 15.8 107.8 20.5 107.0 26.1 106.1" stroke="#203bd3"/><path d="M26.1 106.1 31.9 105.3 37.4 104.7 42.1 104.4" stroke="#203dd3"/><path d="M42.1 104.4 45.6 104.6 48.4 104.9 50.8 105.5" stroke="#205fde"/><path d="M50.8 105.5 53.4 106.3 56.5 107.2 60.5 108.4" stroke="#2abf81"/><path d="M60.5 108.4 65.4 109.8 70.9 111.4 76.8 113.3" stroke="#49d038"/><path d="M76.8 113.3 83.3 115.3 90.1 117.3 97.3 119.3" stroke="#68d232"/><path d="M97.3 119.3 104.9 121.3 113.0 123.3 121.5 125.4" stroke="#4ed134"/><path d="M121.5 125.4 130.3 127.5 139.2 129.7 147.9 132.0" stroke="#2dc369"/><path d="M147.9 132.0 156.7 134.4 165.4 137.1 174.3 139.8" stroke="#22b4be"/><path d="M174.3 139.8 183.2 142.4 192.3 145.0 201.5 147.4" stroke="#20a0d5"/><path d="M201.5 147.4 211.0 149.6 220.8 151.8 230.8 153.8" stroke="#2092d8"/><path d="M230.8 153.8 240.6 155.7 250.2 157.3 259.3 158.6" stroke="#2092d8"/><path d="M259.3 158.6 268.2 160.0 277.0 161.7 285.5 163.1" stroke="#208bd9"/><path d="M285.5 163.1 293.6 163.7 300.9 163.0 307.4 160.5" stroke="#207cdc"/><path d="M307.4 160.5 312.9 155.9 317.7 149.4 321.8 141.6" stroke="#207fdb"/><path d="M321.8 141.6 325.3 133.0 328.1 124.1 330.5 115.5" stroke="#2095d7"/><path d="M330.5 115.5 332.1 106.2 332.8 95.8 333.0 85.1" stroke="#20aed2"/><path d="M333.0 85.1 332.8 75.0 332.6 66.5 332.6 60.4" stroke="#25b7ab"/></g><g stroke-width="1.4" opacity="0.92"><path d="M10.7 107.4 14.5 107.2" stroke="#203dd3"/><path d="M14.5 107.2 19.9 107.0 26.1 106.8 32.7 106.6" stroke="#2042d5"/><path d="M32.7 106.6 38.8 106.5 43.9 106.6 47.5 106.9" stroke="#2049d8"/><path d="M47.5 106.9 50.2 107.3 52.5 107.8 54.9 108.5" stroke="#208bd9"/><path d="M54.9 108.5 57.9 109.3 62.0 110.3 67.4 111.4" stroke="#2ec561"/><path d="M67.4 111.4 73.5 112.6 80.3 114.1 87.4 115.6" stroke="#4bd037"/><path d="M87.4 115.6 94.8 117.4 102.1 119.3 109.4 121.6" stroke="#90d232"/><path d="M109.4 121.6 116.9 124.1 124.6 126.7 132.5 129.5" stroke="#44ce3d"/><path d="M132.5 129.5 140.5 132.3 148.6 135.0 156.9 137.8" stroke="#25b7ab"/><path d="M156.9 137.8 165.3 140.7 173.8 143.6 182.5 146.4" stroke="#207cdc"/><path d="M182.5 146.4 191.4 148.9 200.7 151.0 210.5 152.6" stroke="#204dd9"/><path d="M210.5 152.6 220.8 153.8 231.5 154.7 242.0 155.5" stroke="#2051da"/><path d="M242.0 155.5 252.1 156.2 261.4 156.9 269.9 158.2" stroke="#205cde"/><path d="M269.9 158.2 278.1 160.0 285.9 161.8 293.2 162.8" stroke="#2062df"/><path d="M293.2 162.8 299.9 162.5 306.2 160.1 311.9 155.4" stroke="#2068df"/><path d="M311.9 155.4 316.9 148.9 321.5 140.9 325.7 132.1" stroke="#208cd9"/><path d="M325.7 132.1 329.5 123.1 333.1 114.3 336.4 104.9" stroke="#21b2c9"/><path d="M336.4 104.9 339.4 94.3 342.1 83.4 344.4 73.2" stroke="#26b9a3"/><path d="M344.4 73.2 346.3 64.5 347.7 58.3" stroke="#29be88"/></g><g stroke-width="1.9" opacity="0.92"><path d="M10.9 107.4 14.6 107.5 19.9 107.7" stroke="#2038d2"/><path d="M19.9 107.7 26.1 107.8 32.5 108.0 38.6 108.3" stroke="#2046d7"/><path d="M38.6 108.3 43.7 108.6 47.6 109.0 50.6 109.4" stroke="#205ede"/><path d="M50.6 109.4 53.3 109.8 56.1 110.4 59.3 111.2" stroke="#24b6b2"/><path d="M59.3 111.2 63.6 112.2 68.8 113.5 74.7 115.1" stroke="#3bcc45"/><path d="M74.7 115.1 81.1 116.8 87.9 118.7 94.9 120.7" stroke="#2fc758"/><path d="M94.9 120.7 102.0 122.6 109.1 124.4 116.5 126.3" stroke="#2abf7e"/><path d="M116.5 126.3 124.1 128.2 131.9 130.2 139.9 132.4" stroke="#2abf80"/><path d="M139.9 132.4 148.1 134.7 156.4 137.3 165.0 140.3" stroke="#28bc8f"/><path d="M165.0 140.3 173.7 143.4 182.6 146.5 191.7 149.3" stroke="#20a6d4"/><path d="M191.7 149.3 200.9 151.6 210.6 153.5 220.8 155.0" stroke="#207bdc"/><path d="M220.8 155.0 231.2 156.3 241.5 157.4 251.4 158.3" stroke="#207adc"/><path d="M251.4 158.3 260.5 159.1 268.8 160.2 276.7 161.5" stroke="#2078dc"/><path d="M276.7 161.5 284.1 162.8 291.2 163.3 298.1 162.7" stroke="#2073dd"/><path d="M298.1 162.7 304.8 160.4 311.5 156.1 318.2 150.2" stroke="#2075dd"/><path d="M318.2 150.2 324.6 143.2 330.6 135.4 335.9 127.4" stroke="#209ad6"/><path d="M335.9 127.4 340.4 119.6 343.8 111.2 346.5 101.8" stroke="#22b3c0"/><path d="M346.5 101.8 348.4 92.1 349.9 82.9 351.1 75.2" stroke="#26b9a3"/><path d="M351.1 75.2 352.0 69.7" stroke="#28bc90"/></g><g stroke-width="1.5" opacity="0.92"><path d="M11.7 109.7 15.5 109.3 20.8 108.6 27.0 107.9" stroke="#1f32c5"/><path d="M27.0 107.9 33.5 107.3 39.5 106.8 44.3 106.6" stroke="#203bd3"/><path d="M44.3 106.6 47.7 106.8 49.9 107.1 51.8 107.5" stroke="#205fde"/><path d="M51.8 107.5 53.7 108.2 56.3 109.1 60.2 110.2" stroke="#27bb97"/><path d="M60.2 110.2 65.3 111.6 71.4 113.2 78.1 115.0" stroke="#44ce3d"/><path d="M78.1 115.0 85.2 117.0 92.8 119.1 100.4 121.4" stroke="#73d232"/><path d="M100.4 121.4 108.3 123.8 116.8 126.5 125.6 129.3" stroke="#5ed232"/><path d="M125.6 129.3 134.5 132.2 143.3 135.1 151.8 137.8" stroke="#2fc65a"/><path d="M151.8 137.8 159.9 140.5 167.7 143.2 175.4 146.0" stroke="#20b0d2"/><path d="M175.4 146.0 183.2 148.6 191.4 150.9 200.2 152.9" stroke="#206dde"/><path d="M200.2 152.9 210.0 154.4 220.5 155.7 231.4 156.6" stroke="#2055db"/><path d="M231.4 156.6 242.3 157.4 252.6 158.2 262.0 158.9" stroke="#204fd9"/><path d="M262.0 158.9 270.5 160.1 278.6 161.7 286.1 163.3" stroke="#205bdd"/><path d="M286.1 163.3 293.1 164.2 299.5 164.0 305.4 161.9" stroke="#208bd9"/><path d="M305.4 161.9 310.3 157.9 314.2 152.2 317.5 145.2" stroke="#20a9d3"/><path d="M317.5 145.2 320.8 137.6 324.4 129.7 329.0 122.1" stroke="#20a9d3"/><path d="M329.0 122.1 335.0 113.9 342.1 104.7 349.6 95.2" stroke="#21b1cc"/><path d="M349.6 95.2 356.8 86.3 363.0 78.7 367.3 73.3" stroke="#25b7ab"/></g><g stroke-width="2.0" opacity="0.92"><path d="M9.8 108.5 14.3 108.4 20.6 108.1" stroke="#1f32c4"/><path d="M20.6 108.1 28.1 107.7 35.7 107.5 42.6 107.4" stroke="#2045d6"/><path d="M42.6 107.4 47.9 107.7 51.3 108.2 53.3 109.0" stroke="#2062df"/><path d="M53.3 109.0 54.6 110.0 55.9 111.1 57.9 112.3" stroke="#25b7ac"/><path d="M57.9 112.3 61.1 113.5 65.6 114.7 70.8 115.9" stroke="#3dcc44"/><path d="M70.8 115.9 76.6 117.2 83.0 118.6 89.8 120.2" stroke="#3bcb46"/><path d="M89.8 120.2 97.0 121.9 104.8 123.7 113.4 125.6" stroke="#37ca4a"/><path d="M113.4 125.6 122.4 127.7 131.5 129.9 140.6 132.2" stroke="#2cc273"/><path d="M140.6 132.2 149.3 134.6 157.4 137.3 165.1 140.2" stroke="#24b6b2"/><path d="M165.1 140.2 172.8 143.2 180.6 146.2 188.7 149.0" stroke="#2087da"/><path d="M188.7 149.0 197.5 151.5 207.3 153.8 217.9 156.0" stroke="#205dde"/><path d="M217.9 156.0 228.8 158.0 239.8 159.8 250.2 161.3" stroke="#2060df"/><path d="M250.2 161.3 259.8 162.3 268.6 163.3 276.9 164.5" stroke="#2063e0"/><path d="M276.9 164.5 284.7 165.4 292.1 165.4 299.0 164.2" stroke="#206adf"/><path d="M299.0 164.2 305.2 161.2 310.7 156.1 315.2 149.3" stroke="#2076dd"/><path d="M315.2 149.3 319.1 141.2 323.0 132.4 327.1 123.2" stroke="#209bd6"/><path d="M327.1 123.2 331.8 114.3 337.7 104.6 344.4 93.8" stroke="#23b4ba"/><path d="M344.4 93.8 351.4 82.7 358.0 72.2 363.7 63.3" stroke="#2abe84"/><path d="M363.7 63.3 367.7 56.9" stroke="#2ec561"/></g><g stroke-width="2.1" opacity="0.92"><path d="M10.7 107.7 14.6 107.6 20.3 107.6 26.8 107.5" stroke="#1f33c6"/><path d="M26.8 107.5 33.7 107.4 40.0 107.5 45.3 107.7" stroke="#203dd4"/><path d="M45.3 107.7 49.1 108.0 52.0 108.3 54.5 108.7" stroke="#2068df"/><path d="M54.5 108.7 57.0 109.3 60.0 110.1 63.9 111.3" stroke="#2ec561"/><path d="M63.9 111.3 68.7 113.0 74.1 115.0 80.0 117.3" stroke="#4cd135"/><path d="M80.0 117.3 86.3 119.8 92.9 122.2 99.9 124.5" stroke="#4cd136"/><path d="M99.9 124.5 107.2 126.7 115.0 128.9 123.1 131.1" stroke="#3dcc43"/><path d="M123.1 131.1 131.5 133.3 140.0 135.5 148.6 137.7" stroke="#29be85"/><path d="M148.6 137.7 157.2 139.9 165.9 142.2 174.7 144.5" stroke="#20add3"/><path d="M174.7 144.5 183.7 146.7 192.9 148.8 202.3 150.8" stroke="#2084da"/><path d="M202.3 150.8 212.2 152.6 222.6 154.3 233.2 155.9" stroke="#2064e0"/><path d="M233.2 155.9 243.6 157.4 253.5 158.7 262.5 159.8" stroke="#2058dc"/><path d="M262.5 159.8 270.7 161.2 278.2 162.9 285.3 164.5" stroke="#205dde"/><path d="M285.3 164.5 291.9 165.4 298.2 165.0 304.1 162.8" stroke="#2083da"/><path d="M304.1 162.8 309.7 158.5 315.0 152.4 319.9 145.0" stroke="#209dd6"/><path d="M319.9 145.0 324.4 136.9 328.2 128.5 331.4 120.3" stroke="#20a4d4"/><path d="M331.4 120.3 333.8 111.6 335.4 101.8 336.4 91.7" stroke="#21b1cd"/><path d="M336.4 91.7 337.0 82.2 337.4 74.1 337.8 68.4" stroke="#25b7aa"/></g><g stroke-width="1.4" opacity="0.92"><path d="M10.0 111.1 14.1 111.0 20.0 110.8" stroke="#1f34c8"/><path d="M20.0 110.8 26.8 110.6 33.9 110.5 40.4 110.4" stroke="#2044d6"/><path d="M40.4 110.4 45.7 110.5 49.3 110.8 51.7 111.1" stroke="#205ede"/><path d="M51.7 111.1 53.6 111.5 55.6 112.0 58.3 112.7" stroke="#24b6b0"/><path d="M58.3 112.7 62.2 113.6 67.4 114.6 73.5 115.8" stroke="#3ccc45"/><path d="M73.5 115.8 80.2 117.0 87.4 118.5 94.9 120.2" stroke="#31c84f"/><path d="M94.9 120.2 102.3 122.1 110.0 124.5 118.1 127.1" stroke="#2cc273"/><path d="M118.1 127.1 126.4 130.0 134.8 133.0 143.1 135.8" stroke="#26ba9d"/><path d="M143.1 135.8 151.2 138.5 158.8 140.8 166.1 143.1" stroke="#22b3c1"/><path d="M166.1 143.1 173.4 145.3 180.8 147.4 188.8 149.4" stroke="#21b2c6"/><path d="M188.8 149.4 197.5 151.3 207.4 153.1 218.3 154.8" stroke="#20b0d1"/><path d="M218.3 154.8 229.7 156.4 241.0 157.9 251.8 159.3" stroke="#2094d7"/><path d="M251.8 159.3 261.5 160.6 270.1 162.3 277.9 164.5" stroke="#2079dc"/><path d="M277.9 164.5 285.2 166.6 292.1 168.0 298.7 168.3" stroke="#2064e0"/><path d="M298.7 168.3 305.3 166.7 311.6 163.1 317.8 157.8" stroke="#205ede"/><path d="M317.8 157.8 323.6 151.3 329.2 144.1 334.6 136.7" stroke="#2075dd"/><path d="M334.6 136.7 339.6 129.5 344.5 121.9 349.3 113.2" stroke="#2096d7"/><path d="M349.3 113.2 353.8 104.4 357.9 96.1 361.3 89.0" stroke="#25b7ad"/><path d="M361.3 89.0 363.8 84.0" stroke="#2bc07a"/></g><g stroke-width="1.7" opacity="0.92"><path d="M10.2 109.9 14.1 110.1 19.6 110.4 26.1 110.7" stroke="#2045d6"/><path d="M26.1 110.7 32.8 111.1 39.1 111.5 44.3 111.8" stroke="#204ed9"/><path d="M44.3 111.8 48.0 111.9 50.8 111.8 53.1 111.7" stroke="#2077dd"/><path d="M53.1 111.7 55.5 111.8 58.4 112.1 62.2 113.0" stroke="#2abe84"/><path d="M62.2 113.0 67.1 114.4 72.5 116.3 78.5 118.5" stroke="#46cf3c"/><path d="M78.5 118.5 84.9 120.9 91.7 123.3 98.8 125.5" stroke="#7ad232"/><path d="M98.8 125.5 106.4 127.7 114.5 129.9 123.0 132.1" stroke="#54d232"/><path d="M123.0 132.1 131.8 134.3 140.5 136.5 149.0 138.7" stroke="#28bc8f"/><path d="M149.0 138.7 157.3 140.8 165.4 142.8 173.5 144.9" stroke="#2090d8"/><path d="M173.5 144.9 181.7 146.9 190.3 149.0 199.4 151.2" stroke="#2069df"/><path d="M199.4 151.2 209.2 153.5 219.8 156.2 230.7 158.8" stroke="#205ede"/><path d="M230.7 158.8 241.4 161.4 251.7 163.5 261.0 165.2" stroke="#2060df"/><path d="M261.0 165.2 269.3 166.7 276.8 168.4 283.8 169.7" stroke="#2061df"/><path d="M283.8 169.7 290.5 170.2 297.0 169.4 303.5 166.8" stroke="#2060df"/><path d="M303.5 166.8 310.3 162.1 317.1 155.6 323.7 147.7" stroke="#2069df"/><path d="M323.7 147.7 330.0 139.1 335.4 130.2 339.9 121.6" stroke="#2082da"/><path d="M339.9 121.6 343.3 112.3 345.7 101.8 347.4 91.1" stroke="#20a0d5"/><path d="M347.4 91.1 348.6 81.0 349.5 72.4 350.3 66.3" stroke="#23b5b6"/></g><g stroke-width="1.6" opacity="0.92"><path d="M10.0 109.7 14.4 109.7" stroke="#1f31c2"/><path d="M14.4 109.7 20.7 109.5 28.1 109.4 35.6 109.4" stroke="#203ed4"/><path d="M35.6 109.4 42.5 109.5 47.9 109.9 51.4 110.5" stroke="#2055db"/><path d="M51.4 110.5 53.6 111.4 55.1 112.4 56.7 113.6" stroke="#2098d6"/><path d="M56.7 113.6 58.8 114.9 62.2 116.2 66.8 117.6" stroke="#2dc369"/><path d="M66.8 117.6 72.2 119.0 78.2 120.6 84.6 122.3" stroke="#35ca4b"/><path d="M84.6 122.3 91.5 124.1 98.6 126.1 106.0 128.5" stroke="#3bcb46"/><path d="M106.0 128.5 114.1 131.1 122.5 133.9 131.0 136.7" stroke="#2dc369"/><path d="M131.0 136.7 139.7 139.5 148.1 142.0 156.4 144.4" stroke="#23b5b9"/><path d="M156.4 144.4 164.6 146.7 172.8 148.9 181.1 151.1" stroke="#2090d8"/><path d="M181.1 151.1 189.8 153.1 198.8 155.0 208.6 156.9" stroke="#2063e0"/><path d="M208.6 156.9 218.9 158.8 229.6 160.5 240.1 162.1" stroke="#208ad9"/><path d="M240.1 162.1 250.3 163.5 259.6 164.6 268.4 165.9" stroke="#24b6b3"/><path d="M268.4 165.9 276.7 167.4 284.6 168.6 292.1 169.3" stroke="#21b2ca"/><path d="M292.1 169.3 299.0 168.8 305.3 166.7 311.1 162.7" stroke="#2098d6"/><path d="M311.1 162.7 316.4 157.2 321.2 150.6 325.4 143.3" stroke="#209dd5"/><path d="M325.4 143.3 329.0 135.7 331.9 128.4 334.0 120.5" stroke="#20a9d3"/><path d="M334.0 120.5 335.3 111.7 336.0 102.6 336.3 94.0" stroke="#25b8a8"/><path d="M336.3 94.0 336.5 86.7 336.8 81.6" stroke="#2bc177"/></g><g stroke-width="1.8" opacity="0.92"><path d="M10.9 111.6 15.2 111.7 21.3 111.9" stroke="#2036cd"/><path d="M21.3 111.9 28.5 112.1 35.8 112.3 42.6 112.6" stroke="#2046d6"/><path d="M42.6 112.6 48.0 112.8 51.6 113.0 54.1 112.9" stroke="#205cdd"/><path d="M54.1 112.9 55.9 112.9 57.8 113.1 60.3 113.7" stroke="#209dd6"/><path d="M60.3 113.7 63.9 114.8 68.7 116.7 74.2 119.1" stroke="#29be86"/><path d="M74.2 119.1 80.3 122.0 86.8 124.9 93.6 127.7" stroke="#34c94c"/><path d="M93.6 127.7 100.6 130.1 107.8 131.9 115.3 133.3" stroke="#40cd41"/><path d="M115.3 133.3 123.1 134.6 131.1 136.0 139.4 137.5" stroke="#2cc26f"/><path d="M139.4 137.5 147.7 139.5 156.3 142.2 165.2 145.3" stroke="#22b3c2"/><path d="M165.2 145.3 174.2 148.7 183.4 152.1 192.7 155.2" stroke="#208dd8"/><path d="M192.7 155.2 201.9 157.7 211.4 159.5 221.0 161.0" stroke="#2067df"/><path d="M221.0 161.0 230.7 162.2 240.3 163.2 249.7 164.0" stroke="#206bdf"/><path d="M249.7 164.0 258.7 164.8 267.6 166.0 276.6 167.5" stroke="#206bdf"/><path d="M276.6 167.5 285.3 168.9 293.5 169.7 301.0 169.4" stroke="#2062df"/><path d="M301.0 169.4 307.4 167.6 312.5 164.0 316.4 158.9" stroke="#2060df"/><path d="M316.4 158.9 319.5 152.8 322.3 146.0 325.1 139.0" stroke="#2081db"/><path d="M325.1 139.0 328.2 132.2 332.0 124.9 336.0 116.7" stroke="#20a5d4"/><path d="M336.0 116.7 340.1 108.3 343.8 100.4 347.0 93.7" stroke="#23b4bc"/><path d="M347.0 93.7 349.3 88.9" stroke="#26b9a1"/></g><g stroke-width="2.1" opacity="0.92"><path d="M9.5 114.7 13.6 114.2 19.5 113.4 26.4 112.5" stroke="#2047d7"/><path d="M26.4 112.5 33.6 111.7 40.1 111.2 45.4 111.2" stroke="#204dd9"/><path d="M45.4 111.2 49.0 111.7 51.4 112.7 53.3 113.9" stroke="#2071de"/><path d="M53.3 113.9 55.3 115.4 57.8 117.0 61.4 118.5" stroke="#28bc91"/><path d="M61.4 118.5 66.2 120.1 71.7 121.7 77.7 123.5" stroke="#35c94c"/><path d="M77.7 123.5 84.3 125.3 91.3 127.2 98.7 129.2" stroke="#34c94d"/><path d="M98.7 129.2 106.8 131.4 115.6 133.7 124.9 136.1" stroke="#2cc270"/><path d="M124.9 136.1 134.3 138.6 143.6 140.9 152.3 143.2" stroke="#21b2c7"/><path d="M152.3 143.2 160.4 145.4 168.0 147.5 175.5 149.6" stroke="#208dd8"/><path d="M175.5 149.6 183.1 151.7 191.1 153.6 199.8 155.5" stroke="#206fde"/><path d="M199.8 155.5 209.6 157.3 220.2 159.2 231.3 160.9" stroke="#2066e0"/><path d="M231.3 160.9 242.4 162.5 252.9 163.9 262.4 164.9" stroke="#2073dd"/><path d="M262.4 164.9 271.0 166.0 279.1 167.1 286.7 168.1" stroke="#2080db"/><path d="M286.7 168.1 293.7 168.4 300.2 167.7 306.1 165.6" stroke="#208ed8"/><path d="M306.1 165.6 311.1 161.9 314.9 156.9 318.1 150.8" stroke="#2094d7"/><path d="M318.1 150.8 321.4 144.1 325.4 137.2 330.6 130.4" stroke="#2094d7"/><path d="M330.6 130.4 337.8 123.2 346.7 115.0 356.2 106.7" stroke="#20aed2"/><path d="M356.2 106.7 365.3 98.8 373.1 92.1 378.6 87.4" stroke="#2abe84"/></g><g stroke-width="1.6" opacity="0.92"><path d="M9.8 112.7 13.9 112.7 19.6 112.7" stroke="#2038d2"/><path d="M19.6 112.7 26.4 112.7 33.4 112.7 40.0 112.8" stroke="#2041d5"/><path d="M40.0 112.8 45.4 113.0 49.4 113.1 52.4 113.3" stroke="#2056db"/><path d="M52.4 113.3 55.1 113.5 57.6 113.9 60.6 114.6" stroke="#26b8a4"/><path d="M60.6 114.6 64.4 115.8 68.9 117.7 73.7 120.1" stroke="#4bd037"/><path d="M73.7 120.1 78.8 122.8 84.5 125.7 90.7 128.5" stroke="#4ad038"/><path d="M90.7 128.5 97.6 131.1 105.5 133.6 114.4 135.9" stroke="#43ce3e"/><path d="M114.4 135.9 123.9 138.3 133.5 140.6 143.0 142.8" stroke="#2abf81"/><path d="M143.0 142.8 151.8 145.1 159.7 147.3 167.1 149.4" stroke="#20a0d5"/><path d="M167.1 149.4 174.2 151.6 181.5 153.7 189.2 155.7" stroke="#2079dc"/><path d="M189.2 155.7 197.7 157.6 207.4 159.5 217.9 161.4" stroke="#205fde"/><path d="M217.9 161.4 228.9 163.3 239.9 165.0 250.5 166.4" stroke="#2065e0"/><path d="M250.5 166.4 260.2 167.5 269.2 168.6 277.8 169.8" stroke="#2072dd"/><path d="M277.8 169.8 286.0 170.8 293.8 171.1 301.0 170.3" stroke="#2084da"/><path d="M301.0 170.3 307.7 168.0 313.6 163.9 318.6 158.3" stroke="#2094d7"/><path d="M318.6 158.3 323.2 151.6 327.6 144.3 332.2 136.7" stroke="#2096d7"/><path d="M332.2 136.7 337.4 129.3 343.6 121.3 350.7 112.4" stroke="#20a0d5"/><path d="M350.7 112.4 358.0 103.2 364.8 94.5 370.7 87.2" stroke="#27ba9a"/><path d="M370.7 87.2 374.8 81.9" stroke="#2ec464"/></g><g stroke-width="1.3" opacity="0.92"><path d="M9.4 114.4 13.3 114.5 18.9 114.7 25.4 115.0" stroke="#2043d6"/><path d="M25.4 115.0 32.2 115.2 38.5 115.6 43.6 115.9" stroke="#204dd9"/><path d="M43.6 115.9 47.3 116.2 50.0 116.5 52.2 116.8" stroke="#2076dd"/><path d="M52.2 116.8 54.5 117.3 57.4 118.0 61.5 119.0" stroke="#2bc07b"/><path d="M61.5 119.0 66.9 120.3 73.2 122.0 80.1 123.9" stroke="#3dcc43"/><path d="M80.1 123.9 87.4 125.9 94.9 128.0 102.3 129.9" stroke="#3dcc44"/><path d="M102.3 129.9 109.6 131.8 117.2 133.7 124.8 135.6" stroke="#30c850"/><path d="M124.8 135.6 132.7 137.6 140.7 139.7 149.0 142.1" stroke="#25b8a8"/><path d="M149.0 142.1 157.5 144.8 166.2 147.8 175.1 151.0" stroke="#2096d7"/><path d="M175.1 151.0 184.2 154.2 193.4 157.1 202.7 159.6" stroke="#2064e0"/><path d="M202.7 159.6 212.4 161.7 222.6 163.5 232.9 165.1" stroke="#2063e0"/><path d="M232.9 165.1 243.0 166.5 252.7 167.6 261.7 168.6" stroke="#2091d8"/><path d="M261.7 168.6 269.8 169.7 277.4 171.1 284.6 172.2" stroke="#209bd6"/><path d="M284.6 172.2 291.4 172.7 298.0 172.0 304.5 169.7" stroke="#207fdb"/><path d="M304.5 169.7 310.8 165.5 316.7 159.7 322.4 152.8" stroke="#207ddb"/><path d="M322.4 152.8 328.0 145.1 333.7 137.2 339.5 129.5" stroke="#2094d7"/><path d="M339.5 129.5 345.9 121.3 352.9 112.0 359.9 102.5" stroke="#20acd3"/><path d="M359.9 102.5 366.4 93.5 371.9 85.9 375.9 80.4" stroke="#24b6b3"/></g><g stroke-width="1.7" opacity="0.92"><path d="M9.8 113.3 13.5 113.8" stroke="#2042d5"/><path d="M13.5 113.8 18.7 114.5 24.8 115.3 31.2 116.2" stroke="#204dd9"/><path d="M31.2 116.2 37.2 116.9 42.2 117.5 46.0 117.6" stroke="#205ede"/><path d="M46.0 117.6 48.9 117.4 51.5 117.1 54.2 116.9" stroke="#20a9d3"/><path d="M54.2 116.9 57.5 117.0 61.8 117.7 67.1 119.0" stroke="#30c850"/><path d="M67.1 119.0 73.2 120.7 79.9 122.8 86.9 125.0" stroke="#5bd232"/><path d="M86.9 125.0 94.2 127.4 101.5 129.8 108.9 132.3" stroke="#bad136"/><path d="M108.9 132.3 116.6 135.0 124.6 137.9 132.7 140.7" stroke="#48d039"/><path d="M132.7 140.7 140.9 143.4 149.3 145.8 157.8 147.9" stroke="#20b0d2"/><path d="M157.8 147.9 166.5 149.9 175.3 151.8 184.3 153.6" stroke="#2085da"/><path d="M184.3 153.6 193.4 155.3 202.6 157.0 212.1 158.6" stroke="#206cdf"/><path d="M212.1 158.6 221.9 160.3 231.9 161.9 241.8 163.4" stroke="#205ede"/><path d="M241.8 163.4 251.2 164.8 260.0 166.0 268.1 167.4" stroke="#2054db"/><path d="M268.1 167.4 275.8 169.2 283.0 170.9 290.0 171.9" stroke="#206adf"/><path d="M290.0 171.9 296.6 171.8 303.1 170.1 309.4 166.4" stroke="#209bd6"/><path d="M309.4 166.4 315.5 161.1 321.4 154.7 327.0 147.7" stroke="#20a9d3"/><path d="M327.0 147.7 332.0 140.3 336.6 133.3 340.7 125.7" stroke="#20b0d0"/><path d="M340.7 125.7 344.4 117.2 347.6 108.5 350.4 100.2" stroke="#24b5b5"/><path d="M350.4 100.2 352.7 93.2 354.5 88.3" stroke="#27ba9c"/></g><g stroke-width="1.4" opacity="0.92"><path d="M10.4 117.5 14.1 117.0 19.2 116.4 25.2 115.6" stroke="#2060df"/><path d="M25.2 115.6 31.5 114.9 37.4 114.5 42.2 114.5" stroke="#26b9a0"/><path d="M42.2 114.5 45.7 114.9 48.3 115.5 50.5 116.4" stroke="#38ca49"/><path d="M50.5 116.4 52.8 117.5 55.7 118.8 59.7 120.3" stroke="#41cd40"/><path d="M59.7 120.3 64.7 122.1 70.4 124.3 76.7 126.7" stroke="#4bd037"/><path d="M76.7 126.7 83.4 129.1 90.6 131.5 98.1 133.7" stroke="#5ed232"/><path d="M98.1 133.7 106.1 135.6 114.7 137.3 123.8 139.0" stroke="#43ce3e"/><path d="M123.8 139.0 132.9 140.6 142.1 142.5 150.8 144.5" stroke="#24b7af"/><path d="M150.8 144.5 159.2 146.8 167.2 149.4 175.2 152.1" stroke="#2083da"/><path d="M175.2 152.1 183.2 154.8 191.6 157.3 200.5 159.5" stroke="#2062df"/><path d="M200.5 159.5 210.2 161.3 220.5 163.0 231.2 164.6" stroke="#205ede"/><path d="M231.2 164.6 241.9 165.9 252.0 167.2 261.3 168.3" stroke="#206bdf"/><path d="M261.3 168.3 269.9 169.6 278.0 171.1 285.6 172.5" stroke="#2079dc"/><path d="M285.6 172.5 292.7 173.4 299.5 173.4 305.7 172.0" stroke="#2080db"/><path d="M305.7 172.0 311.7 169.2 317.3 165.0 322.5 159.9" stroke="#208ed8"/><path d="M322.5 159.9 327.0 154.2 330.9 148.4 333.9 142.7" stroke="#20a3d4"/><path d="M333.9 142.7 335.9 136.7 336.8 129.9 336.9 123.0" stroke="#24b5b5"/><path d="M336.9 123.0 336.7 116.4 336.4 110.9 336.4 106.9" stroke="#2cc174"/></g><g stroke-width="1.5" opacity="0.92"><path d="M9.7 117.1 13.9 116.8" stroke="#2052da"/><path d="M13.9 116.8 20.0 116.4 27.1 116.0 34.4 115.6" stroke="#2087da"/><path d="M34.4 115.6 41.2 115.4 46.6 115.4 50.3 115.8" stroke="#2cc36d"/><path d="M50.3 115.8 53.0 116.2 55.1 116.9 57.2 117.7" stroke="#2ec560"/><path d="M57.2 117.7 59.8 118.9 63.4 120.3 68.0 122.2" stroke="#2cc272"/><path d="M68.0 122.2 73.2 124.6 78.8 127.2 84.9 130.0" stroke="#3bcb46"/><path d="M84.9 130.0 91.5 132.5 98.4 134.8 105.8 136.7" stroke="#5ed232"/><path d="M105.8 136.7 113.9 138.2 122.4 139.7 131.1 141.2" stroke="#30c850"/><path d="M131.1 141.2 139.9 142.8 148.5 144.6 157.0 146.9" stroke="#2097d7"/><path d="M157.0 146.9 165.4 149.4 173.9 152.1 182.5 154.7" stroke="#208dd8"/><path d="M182.5 154.7 191.3 157.2 200.3 159.3 209.8 161.1" stroke="#2098d6"/><path d="M209.8 161.1 219.7 162.7 229.7 164.1 239.7 165.4" stroke="#208ad9"/><path d="M239.7 165.4 249.4 166.5 258.5 167.5 267.1 168.8" stroke="#2077dc"/><path d="M267.1 168.8 275.5 170.3 283.5 171.7 291.2 172.5" stroke="#2086da"/><path d="M291.2 172.5 298.3 172.4 304.8 171.0 310.7 168.0" stroke="#209cd6"/><path d="M310.7 168.0 316.1 163.7 321.0 158.5 325.3 152.7" stroke="#209ad6"/><path d="M325.3 152.7 329.0 146.7 332.2 140.9 334.6 134.7" stroke="#2094d7"/><path d="M334.6 134.7 336.3 127.8 337.4 120.6 338.1 113.9" stroke="#20b1ce"/><path d="M338.1 113.9 338.7 108.2 339.2 104.1" stroke="#27ba9d"/></g><g stroke-width="1.7" opacity="0.92"><path d="M10.5 117.9 14.5 117.9 20.3 117.9 27.1 118.0" stroke="#205dde"/><path d="M27.1 118.0 34.1 118.1 40.5 118.2 45.7 118.5" stroke="#21b2c7"/><path d="M45.7 118.5 49.3 118.9 51.7 119.3 53.7 119.8" stroke="#2dc36a"/><path d="M53.7 119.8 55.7 120.5 58.3 121.3 62.1 122.5" stroke="#32c94e"/><path d="M62.1 122.5 67.2 124.0 73.2 125.9 79.8 128.0" stroke="#39cb48"/><path d="M79.8 128.0 86.8 130.3 94.1 132.4 101.4 134.5" stroke="#3dcc44"/><path d="M101.4 134.5 109.0 136.4 116.9 138.2 125.1 140.0" stroke="#30c754"/><path d="M125.1 140.0 133.4 141.8 141.8 143.8 150.1 145.8" stroke="#22b4be"/><path d="M150.1 145.8 158.2 148.2 166.3 150.7 174.5 153.4" stroke="#2090d8"/><path d="M174.5 153.4 182.8 156.0 191.4 158.4 200.4 160.6" stroke="#207bdc"/><path d="M200.4 160.6 210.1 162.5 220.5 164.2 231.1 165.8" stroke="#206fde"/><path d="M231.1 165.8 241.7 167.3 251.7 168.5 260.9 169.5" stroke="#206bdf"/><path d="M260.9 169.5 269.2 170.7 276.9 172.1 284.1 173.3" stroke="#206fde"/><path d="M284.1 173.3 290.9 174.0 297.3 173.6 303.3 171.8" stroke="#2078dc"/><path d="M303.3 171.8 309.1 168.4 314.5 163.5 319.6 157.7" stroke="#2082db"/><path d="M319.6 157.7 324.1 151.2 328.0 144.6 331.2 138.1" stroke="#208cd9"/><path d="M331.2 138.1 333.4 131.2 334.8 123.5 335.5 115.5" stroke="#20a7d4"/><path d="M335.5 115.5 335.9 107.9 336.1 101.6 336.4 97.0" stroke="#27ba9c"/></g><g stroke-width="1.5" opacity="0.92"><path d="M11.0 118.0 14.7 118.0 19.9 117.8 26.1 117.6" stroke="#2057dc"/><path d="M26.1 117.6 32.5 117.6 38.4 117.7 43.4 118.0" stroke="#24b7ae"/><path d="M43.4 118.0 46.9 118.6 49.5 119.5 51.7 120.4" stroke="#34c94c"/><path d="M51.7 120.4 54.0 121.6 56.8 122.8 60.8 124.2" stroke="#3acb47"/><path d="M60.8 124.2 65.8 125.8 71.6 127.6 77.9 129.5" stroke="#49d039"/><path d="M77.9 129.5 84.7 131.4 91.8 133.4 99.1 135.3" stroke="#7fd232"/><path d="M99.1 135.3 106.6 137.1 114.7 138.8 123.0 140.6" stroke="#56d232"/><path d="M123.0 140.6 131.5 142.4 140.0 144.3 148.3 146.2" stroke="#28bc93"/><path d="M148.3 146.2 156.3 148.4 164.2 150.7 172.1 153.1" stroke="#2090d8"/><path d="M172.1 153.1 180.1 155.4 188.5 157.6 197.2 159.6" stroke="#2073dd"/><path d="M197.2 159.6 206.7 161.4 216.8 163.1 227.2 164.7" stroke="#2060df"/><path d="M227.2 164.7 237.6 166.1 247.7 167.5 257.1 168.7" stroke="#2057dc"/><path d="M257.1 168.7 266.1 170.2 274.9 172.0 283.4 173.7" stroke="#2056dc"/><path d="M283.4 173.7 291.4 174.9 298.9 175.0 305.8 173.7" stroke="#205dde"/><path d="M305.8 173.7 312.1 170.7 317.9 166.3 323.2 160.9" stroke="#206fde"/><path d="M323.2 160.9 327.9 154.8 331.9 148.6 335.0 142.6" stroke="#2091d8"/><path d="M335.0 142.6 337.0 136.2 338.0 129.1 338.3 121.7" stroke="#20b0d2"/><path d="M338.3 121.7 338.1 114.7 337.9 108.8 337.9 104.6" stroke="#26b8a5"/></g><g stroke-width="1.6" opacity="0.92"><path d="M9.1 118.0 13.5 118.4" stroke="#2044d6"/><path d="M13.5 118.4 19.8 118.9 27.2 119.6 34.8 120.2" stroke="#2070de"/><path d="M34.8 120.2 41.9 121.0 47.5 121.7 51.3 122.3" stroke="#2abe84"/><path d="M51.3 122.3 54.1 122.9 56.2 123.6 58.3 124.3" stroke="#30c851"/><path d="M58.3 124.3 60.9 125.3 64.5 126.4 69.0 127.9" stroke="#37ca4a"/><path d="M69.0 127.9 74.0 129.6 79.5 131.4 85.4 133.4" stroke="#60d232"/><path d="M85.4 133.4 91.8 135.4 98.6 137.3 106.1 139.2" stroke="#c0d137"/><path d="M106.1 139.2 114.2 141.2 122.8 143.2 131.6 145.2" stroke="#43ce3e"/><path d="M131.6 145.2 140.5 147.2 149.3 149.2 157.9 151.2" stroke="#2091d8"/><path d="M157.9 151.2 166.6 153.1 175.3 155.1 184.1 157.1" stroke="#2068df"/><path d="M184.1 157.1 193.0 159.0 202.1 161.0 211.4 163.1" stroke="#205dde"/><path d="M211.4 163.1 221.0 165.3 230.8 167.5 240.4 169.6" stroke="#2057dc"/><path d="M240.4 169.6 249.8 171.3 258.8 172.6 267.4 173.6" stroke="#2053db"/><path d="M267.4 173.6 275.7 174.5 283.7 175.2 291.5 175.2" stroke="#205bdd"/><path d="M291.5 175.2 299.0 174.5 306.3 172.8 313.6 169.8" stroke="#206adf"/><path d="M313.6 169.8 320.9 165.7 328.0 160.8 334.5 155.5" stroke="#207adc"/><path d="M334.5 155.5 340.2 150.0 344.8 144.6 348.0 138.8" stroke="#2088d9"/><path d="M348.0 138.8 350.1 132.3 351.4 125.6 352.1 119.3" stroke="#20a7d4"/><path d="M352.1 119.3 352.6 114.0 353.2 110.1" stroke="#24b6b3"/></g><g stroke-width="2.1" opacity="0.92"><path d="M9.5 117.4 13.2 117.8" stroke="#203fd4"/><path d="M13.2 117.8 18.4 118.4 24.5 119.1 30.9 119.8" stroke="#2063e0"/><path d="M30.9 119.8 36.9 120.6 42.0 121.3 45.9 121.8" stroke="#26b9a1"/><path d="M45.9 121.8 49.0 122.3 51.7 122.8 54.5 123.4" stroke="#2ec562"/><path d="M54.5 123.4 57.9 124.1 62.3 125.1 67.7 126.2" stroke="#37ca4a"/><path d="M67.7 126.2 73.7 127.5 80.4 128.9 87.4 130.5" stroke="#3dcc44"/><path d="M87.4 130.5 94.7 132.3 102.1 134.3 109.8 136.7" stroke="#43ce3e"/><path d="M109.8 136.7 118.0 139.4 126.5 142.4 135.0 145.4" stroke="#28bc8e"/><path d="M135.0 145.4 143.4 148.2 151.6 150.7 159.2 152.9" stroke="#2078dc"/><path d="M159.2 152.9 166.5 154.9 173.6 156.7 180.9 158.5" stroke="#2062df"/><path d="M180.9 158.5 188.8 160.1 197.5 161.8 207.4 163.4" stroke="#205dde"/><path d="M207.4 163.4 218.3 165.0 229.7 166.5 241.2 168.0" stroke="#205ede"/><path d="M241.2 168.0 252.1 169.2 261.9 170.3 270.8 171.3" stroke="#2060df"/><path d="M270.8 171.3 278.9 172.5 286.6 173.5 293.8 174.1" stroke="#206ede"/><path d="M293.8 174.1 300.7 174.0 307.3 173.0 313.6 171.0" stroke="#2082da"/><path d="M313.6 171.0 319.4 168.0 324.9 164.4 330.1 160.4" stroke="#2095d7"/><path d="M330.1 160.4 335.1 156.3 339.9 152.3 344.9 148.0" stroke="#20a7d4"/><path d="M344.9 148.0 349.9 143.2 354.7 138.3 359.0 133.7" stroke="#23b5b8"/><path d="M359.0 133.7 362.6 129.7 365.3 126.9" stroke="#27bb95"/></g><g stroke-width="1.9" opacity="0.92"><path d="M10.2 121.2 14.3 121.1" stroke="#2043d5"/><path d="M14.3 121.1 20.3 121.0 27.3 120.8 34.5 120.7" stroke="#207adc"/><path d="M34.5 120.7 41.1 120.9 46.4 121.3 50.1 122.0" stroke="#2fc754"/><path d="M50.1 122.0 52.8 122.9 54.9 124.0 56.9 125.2" stroke="#36ca4a"/><path d="M56.9 125.2 59.5 126.6 63.2 127.9 67.8 129.3" stroke="#32c94e"/><path d="M67.8 129.3 72.9 130.8 78.6 132.4 84.8 134.0" stroke="#48cf3a"/><path d="M84.8 134.0 91.4 135.8 98.5 137.7 106.3 139.9" stroke="#86d232"/><path d="M106.3 139.9 114.8 142.4 123.8 144.9 133.0 147.5" stroke="#31c84f"/><path d="M133.0 147.5 142.1 149.9 150.8 152.1 158.9 153.9" stroke="#2078dc"/><path d="M158.9 153.9 166.7 155.5 174.4 156.9 182.2 158.4" stroke="#205dde"/><path d="M182.2 158.4 190.4 159.8 199.2 161.4 209.0 163.3" stroke="#2057dc"/><path d="M209.0 163.3 219.6 165.5 230.6 167.6 241.4 169.7" stroke="#2069df"/><path d="M241.4 169.7 251.8 171.5 261.1 172.9 269.4 174.0" stroke="#2091d8"/><path d="M269.4 174.0 276.9 175.2 284.0 176.0 290.6 176.4" stroke="#20acd3"/><path d="M290.6 176.4 296.9 176.1 303.1 174.8 309.3 172.4" stroke="#24b6b3"/><path d="M309.3 172.4 315.5 169.0 321.4 165.0 326.8 160.4" stroke="#20b1ce"/><path d="M326.8 160.4 331.5 155.8 335.3 151.3 338.1 146.4" stroke="#209ad6"/><path d="M338.1 146.4 339.9 141.0 341.0 135.4 341.6 130.1" stroke="#20b1cf"/><path d="M341.6 130.1 342.1 125.7 342.6 122.5" stroke="#26b9a1"/></g><g stroke-width="1.4" opacity="0.92"><path d="M9.8 120.6 13.8 120.6 19.4 120.5" stroke="#2059dc"/><path d="M19.4 120.5 26.0 120.4 32.8 120.3 39.1 120.4" stroke="#20a6d4"/><path d="M39.1 120.4 44.2 120.6 47.8 120.9 50.2 121.2" stroke="#2fc754"/><path d="M50.2 121.2 52.1 121.6 54.2 122.2 56.9 123.1" stroke="#33c94d"/><path d="M56.9 123.1 60.9 124.2 66.2 125.8 72.4 127.7" stroke="#36ca4a"/><path d="M72.4 127.7 79.2 129.8 86.6 132.2 94.2 134.6" stroke="#31c84f"/><path d="M94.2 134.6 101.8 137.0 109.7 139.4 118.0 142.1" stroke="#2dc369"/><path d="M118.0 142.1 126.6 144.8 135.2 147.5 143.8 150.1" stroke="#22b3c3"/><path d="M143.8 150.1 152.0 152.7 159.9 155.2 167.3 157.8" stroke="#2083da"/><path d="M167.3 157.8 174.7 160.3 182.2 162.7 190.2 164.8" stroke="#2061df"/><path d="M190.2 164.8 198.7 166.5 208.2 167.7 218.4 168.6" stroke="#2051da"/><path d="M218.4 168.6 229.0 169.2 239.7 169.6 249.9 170.1" stroke="#2054db"/><path d="M249.9 170.1 259.4 170.6 268.2 171.7 276.7 173.2" stroke="#2057dc"/><path d="M276.7 173.2 284.8 174.7 292.5 175.7 299.5 175.9" stroke="#205ede"/><path d="M299.5 175.9 305.7 174.7 311.0 171.9 315.5 167.8" stroke="#2068df"/><path d="M315.5 167.8 319.3 162.9 322.7 157.4 326.0 151.7" stroke="#207fdb"/><path d="M326.0 151.7 329.4 146.2 333.1 140.4 336.8 133.8" stroke="#209ad6"/><path d="M336.8 133.8 340.3 127.0 343.6 120.6 346.3 115.2" stroke="#24b6b3"/><path d="M346.3 115.2 348.3 111.4" stroke="#29be88"/></g><g stroke-width="2.0" opacity="0.92"><path d="M9.2 118.0 13.4 118.6 19.3 119.4" stroke="#2060df"/><path d="M19.3 119.4 26.3 120.3 33.5 121.3 40.3 122.2" stroke="#21b2c6"/><path d="M40.3 122.2 45.7 123.0 49.6 123.5 52.5 123.7" stroke="#39cb48"/><path d="M52.5 123.7 55.0 123.9 57.3 124.2 60.2 124.9" stroke="#3acb46"/><path d="M60.2 124.9 64.0 126.0 68.6 127.8 73.7 130.1" stroke="#3bcc45"/><path d="M73.7 130.1 79.3 132.7 85.3 135.5 91.7 138.3" stroke="#38ca49"/><path d="M91.7 138.3 98.5 140.8 105.9 143.3 113.9 145.9" stroke="#2fc756"/><path d="M113.9 145.9 122.3 148.4 131.0 150.9 139.6 153.2" stroke="#20afd2"/><path d="M139.6 153.2 148.1 155.3 156.4 157.2 164.6 158.9" stroke="#206cdf"/><path d="M164.6 158.9 172.8 160.5 181.2 162.0 189.8 163.3" stroke="#2063e0"/><path d="M189.8 163.3 198.7 164.7 208.3 166.0 218.4 167.1" stroke="#205fde"/><path d="M218.4 167.1 228.8 168.3 239.1 169.3 249.1 170.3" stroke="#205dde"/><path d="M249.1 170.3 258.5 171.2 267.4 172.4 276.0 173.9" stroke="#205ede"/><path d="M276.0 173.9 284.3 175.3 292.2 176.3 299.8 176.6" stroke="#2070de"/><path d="M299.8 176.6 306.8 175.9 313.5 173.8 319.7 170.8" stroke="#2087da"/><path d="M319.7 170.8 325.6 167.0 330.9 162.8 335.9 158.4" stroke="#2096d7"/><path d="M335.9 158.4 340.3 154.2 344.2 149.8 347.6 144.8" stroke="#20a7d4"/><path d="M347.6 144.8 350.5 139.7 353.0 134.8 355.0 130.7" stroke="#24b6b2"/><path d="M355.0 130.7 356.6 127.8" stroke="#28bc94"/></g><g stroke-width="1.5" opacity="0.92"><path d="M10.6 122.0 14.7 122.1 20.5 122.1" stroke="#2058dc"/><path d="M20.5 122.1 27.3 122.2 34.3 122.3 40.7 122.6" stroke="#20a9d3"/><path d="M40.7 122.6 45.8 123.2 49.3 124.1 51.6 125.2" stroke="#30c850"/><path d="M51.6 125.2 53.3 126.5 55.1 127.9 57.5 129.3" stroke="#2dc36a"/><path d="M57.5 129.3 61.1 130.6 65.9 131.7 71.4 132.6" stroke="#2bc07b"/><path d="M71.4 132.6 77.5 133.6 84.1 134.7 91.2 136.0" stroke="#2ec463"/><path d="M91.2 136.0 98.7 137.7 106.8 140.0 115.7 142.7" stroke="#2ec464"/><path d="M115.7 142.7 125.0 145.7 134.4 148.7 143.7 151.5" stroke="#20a6d4"/><path d="M143.7 151.5 152.4 154.0 160.5 156.1 168.0 157.9" stroke="#2062df"/><path d="M168.0 157.9 175.4 159.6 182.8 161.2 190.6 162.8" stroke="#2058dc"/><path d="M190.6 162.8 198.9 164.4 208.1 166.0 218.0 167.7" stroke="#2053db"/><path d="M218.0 167.7 228.3 169.4 238.5 171.0 248.4 172.4" stroke="#2060df"/><path d="M248.4 172.4 257.6 173.6 266.1 174.7 274.2 176.0" stroke="#2072dd"/><path d="M274.2 176.0 282.0 177.1 289.5 177.8 296.8 177.7" stroke="#2073dd"/><path d="M296.8 177.7 304.0 176.5 311.1 174.1 317.9 170.7" stroke="#2078dc"/><path d="M317.9 170.7 324.6 166.5 331.1 161.9 337.5 157.1" stroke="#2097d7"/><path d="M337.5 157.1 343.9 152.4 350.4 147.5 357.3 141.9" stroke="#21b1cd"/><path d="M357.3 141.9 364.1 136.2 370.3 130.8 375.6 126.2" stroke="#24b6b3"/><path d="M375.6 126.2 379.4 122.9" stroke="#26b9a2"/></g><g stroke-width="1.7" opacity="0.92"><path d="M9.5 123.8 13.9 124.2 20.3 124.7 27.7 125.4" stroke="#2069df"/><path d="M27.7 125.4 35.3 126.1 42.2 126.7 47.5 127.1" stroke="#27ba9a"/><path d="M47.5 127.1 50.6 127.2 52.3 127.0 53.2 126.7" stroke="#33c94d"/><path d="M53.2 126.7 54.2 126.5 55.9 126.7 59.3 127.5" stroke="#33c94d"/><path d="M59.3 127.5 64.4 128.9 70.7 130.9 77.7 133.2" stroke="#44ce3d"/><path d="M77.7 133.2 85.3 135.7 93.1 138.2 100.7 140.8" stroke="#8ed232"/><path d="M100.7 140.8 108.3 143.3 116.2 146.1 124.3 148.9" stroke="#54d232"/><path d="M124.3 148.9 132.5 151.7 140.8 154.4 149.1 156.9" stroke="#20aad3"/><path d="M149.1 156.9 157.2 159.1 165.4 161.2 173.5 163.3" stroke="#205fde"/><path d="M173.5 163.3 181.9 165.1 190.5 166.9 199.6 168.6" stroke="#2060df"/><path d="M199.6 168.6 209.5 170.2 220.0 171.7 230.9 173.1" stroke="#205fdf"/><path d="M230.9 173.1 241.7 174.4 251.9 175.5 261.3 176.4" stroke="#205ede"/><path d="M261.3 176.4 269.7 177.3 277.6 178.3 285.0 179.1" stroke="#205ede"/><path d="M285.0 179.1 291.9 179.5 298.4 179.3 304.5 178.3" stroke="#205fde"/><path d="M304.5 178.3 310.3 176.2 315.8 173.2 320.8 169.6" stroke="#206dde"/><path d="M320.8 169.6 325.3 165.7 329.3 161.6 332.8 157.6" stroke="#2092d8"/><path d="M332.8 157.6 335.7 153.4 337.9 148.6 339.6 143.7" stroke="#21b1ce"/><path d="M339.6 143.7 340.9 139.1 341.9 135.2 342.8 132.4" stroke="#26b9a1"/></g><g stroke-width="1.5" opacity="0.92"><path d="M9.7 124.1 14.2 124.0 20.6 123.9" stroke="#2053db"/><path d="M20.6 123.9 28.1 123.7 35.8 123.6 42.7 123.8" stroke="#20a3d4"/><path d="M42.7 123.8 48.0 124.3 51.1 125.2 52.6 126.4" stroke="#30c850"/><path d="M52.6 126.4 53.4 127.9 54.2 129.5 56.0 131.2" stroke="#2fc65b"/><path d="M56.0 131.2 59.4 132.7 64.6 134.2 71.1 135.6" stroke="#30c850"/><path d="M71.1 135.6 78.5 137.1 86.3 138.6 94.4 140.2" stroke="#5bd232"/><path d="M94.4 140.2 102.2 141.9 110.1 143.7 118.2 145.6" stroke="#8cd232"/><path d="M118.2 145.6 126.5 147.6 134.8 149.7 143.1 151.8" stroke="#27bb99"/><path d="M143.1 151.8 151.3 154.1 159.1 156.5 166.6 159.1" stroke="#205dde"/><path d="M166.6 159.1 174.0 161.8 181.6 164.4 189.7 166.8" stroke="#2087da"/><path d="M189.7 166.8 198.5 168.9 208.4 170.6 219.2 172.0" stroke="#20add3"/><path d="M219.2 172.0 230.4 173.2 241.6 174.3 252.3 175.3" stroke="#20a1d5"/><path d="M252.3 175.3 261.8 176.3 270.4 177.5 278.3 178.8" stroke="#2091d8"/><path d="M278.3 178.8 285.7 180.1 292.6 181.1 298.9 181.4" stroke="#2071de"/><path d="M298.9 181.4 304.7 180.8 309.6 179.2 313.5 176.6" stroke="#205fde"/><path d="M313.5 176.6 316.8 173.5 320.2 169.9 324.1 166.3" stroke="#2073dd"/><path d="M324.1 166.3 329.1 162.8 335.8 159.1 344.0 154.9" stroke="#2090d8"/><path d="M344.0 154.9 352.7 150.6 361.1 146.5 368.2 143.1" stroke="#22b3c1"/><path d="M368.2 143.1 373.2 140.7" stroke="#28bb94"/></g><g stroke-width="1.4" opacity="0.92"><path d="M9.7 123.6 13.6 123.9 19.2 124.3 25.8 124.8" stroke="#205fdf"/><path d="M25.8 124.8 32.6 125.4 39.0 126.0 44.3 126.6" stroke="#21b2ca"/><path d="M44.3 126.6 48.2 127.1 51.3 127.7 53.9 128.3" stroke="#2bc07c"/><path d="M53.9 128.3 56.6 129.0 59.8 129.8 63.9 130.8" stroke="#2cc26e"/><path d="M63.9 130.8 68.9 132.1 74.5 133.4 80.6 134.9" stroke="#31c84f"/><path d="M80.6 134.9 87.1 136.6 94.0 138.5 101.2 140.5" stroke="#42ce3f"/><path d="M101.2 140.5 108.9 142.9 117.2 145.7 125.8 148.6" stroke="#30c753"/><path d="M125.8 148.6 134.6 151.5 143.4 154.3 152.1 156.8" stroke="#208ad9"/><path d="M152.1 156.8 160.4 159.0 168.7 161.0 176.9 162.9" stroke="#2056db"/><path d="M176.9 162.9 185.2 164.7 193.8 166.3 202.7 167.9" stroke="#204fd9"/><path d="M202.7 167.9 212.1 169.3 222.1 170.6 232.3 171.8" stroke="#205add"/><path d="M232.3 171.8 242.4 172.9 252.1 174.0 260.9 175.1" stroke="#2089d9"/><path d="M260.9 175.1 269.1 176.6 276.9 178.5 284.2 180.4" stroke="#2093d7"/><path d="M284.2 180.4 291.1 181.8 297.4 182.3 303.3 181.4" stroke="#206cde"/><path d="M303.3 181.4 308.4 179.0 312.9 175.2 316.8 170.4" stroke="#206adf"/><path d="M316.8 170.4 320.5 165.2 323.9 159.7 327.2 154.5" stroke="#208bd9"/><path d="M327.2 154.5 330.6 149.0 334.0 142.8 337.1 136.4" stroke="#20b0d2"/><path d="M337.1 136.4 339.9 130.4 342.2 125.3 344.0 121.6" stroke="#28bc92"/></g><g stroke-width="1.3" opacity="0.92"><path d="M10.8 122.4 14.8 123.1 20.5 124.1 27.2 125.2" stroke="#205cde"/><path d="M27.2 125.2 34.1 126.4 40.5 127.5 45.6 128.4" stroke="#23b5b8"/><path d="M45.6 128.4 49.1 128.9 51.6 129.1 53.6 129.2" stroke="#2fc65a"/><path d="M53.6 129.2 55.6 129.5 58.1 130.0 61.7 131.1" stroke="#32c94e"/><path d="M61.7 131.1 66.3 133.0 71.5 135.3 77.3 138.0" stroke="#37ca4a"/><path d="M77.3 138.0 83.5 140.8 90.3 143.5 97.4 145.9" stroke="#3bcb46"/><path d="M97.4 145.9 105.2 147.8 113.7 149.5 122.6 151.1" stroke="#2bc079"/><path d="M122.6 151.1 131.7 152.7 140.8 154.4 149.5 156.3" stroke="#207edb"/><path d="M149.5 156.3 157.7 158.6 165.7 161.1 173.5 163.7" stroke="#2062df"/><path d="M173.5 163.7 181.5 166.3 189.8 168.6 198.7 170.6" stroke="#208fd8"/><path d="M198.7 170.6 208.3 172.3 218.6 173.8 229.2 175.1" stroke="#2095d7"/><path d="M229.2 175.1 239.8 176.2 250.1 177.1 259.6 178.0" stroke="#2071de"/><path d="M259.6 178.0 268.6 178.8 277.2 179.7 285.4 180.4" stroke="#2062df"/><path d="M285.4 180.4 293.3 180.8 300.7 180.7 307.7 180.1" stroke="#2062e0"/><path d="M307.7 180.1 314.4 178.7 320.9 176.7 327.0 174.2" stroke="#2075dd"/><path d="M327.0 174.2 332.4 171.5 337.1 168.7 341.0 166.0" stroke="#209bd6"/><path d="M341.0 166.0 343.6 163.2 345.3 159.9 346.1 156.6" stroke="#23b4ba"/><path d="M346.1 156.6 346.6 153.4 346.8 150.8 347.2 148.9" stroke="#29be87"/></g><g stroke-width="1.6" opacity="0.92"><path d="M10.5 121.9 14.5 122.5 20.3 123.2" stroke="#2cc270"/><path d="M20.3 123.2 27.0 124.0 33.9 125.0 40.2 125.9" stroke="#2dc465"/><path d="M40.2 125.9 45.2 126.9 48.6 127.7 50.7 128.5" stroke="#2fc658"/><path d="M50.7 128.5 52.3 129.4 53.9 130.3 56.1 131.4" stroke="#30c852"/><path d="M56.1 131.4 59.7 132.7 64.4 134.3 69.8 136.1" stroke="#31c84f"/><path d="M69.8 136.1 75.9 138.1 82.6 140.1 89.8 142.2" stroke="#32c94e"/><path d="M89.8 142.2 97.3 144.4 105.7 146.7 114.9 149.2" stroke="#3bcc45"/><path d="M114.9 149.2 124.5 151.7 134.4 154.3 144.0 156.6" stroke="#a9d232"/><path d="M144.0 156.6 153.0 158.7 161.3 160.4 169.1 161.9" stroke="#eca730"/><path d="M169.1 161.9 176.6 163.2 184.3 164.5 192.3 165.7" stroke="#eabb38"/><path d="M192.3 165.7 200.9 167.1 210.5 168.6 220.8 170.3" stroke="#e8cc3e"/><path d="M220.8 170.3 231.5 172.0 242.1 173.6 252.3 175.0" stroke="#e9c83d"/><path d="M252.3 175.0 261.7 176.1 270.5 177.1 279.0 178.1" stroke="#e9c63c"/><path d="M279.0 178.1 287.1 178.9 294.6 179.4 301.5 179.2" stroke="#e8ce3f"/><path d="M301.5 179.2 307.6 178.3 312.4 176.4 315.9 173.7" stroke="#e1d03e"/><path d="M315.9 173.7 318.7 170.5 321.5 166.9 324.9 163.1" stroke="#d3d13b"/><path d="M324.9 163.1 329.6 159.5 336.2 155.6 344.4 151.3" stroke="#c5d138"/><path d="M344.4 151.3 353.3 146.8 361.8 142.6 369.1 139.1" stroke="#b5d235"/><path d="M369.1 139.1 374.2 136.5" stroke="#abd232"/></g><g stroke-width="2.0" opacity="0.92"><path d="M10.6 127.1 14.3 127.1 19.5 127.0 25.6 126.9" stroke="#2abf7f"/><path d="M25.6 126.9 32.0 126.9 37.9 127.1 42.8 127.5" stroke="#2dc369"/><path d="M42.8 127.5 46.2 128.1 48.6 128.8 50.6 129.7" stroke="#2fc754"/><path d="M50.6 129.7 52.8 130.7 55.5 131.9 59.5 133.4" stroke="#35c94c"/><path d="M59.5 133.4 64.8 135.1 71.0 137.1 77.8 139.3" stroke="#45cf3c"/><path d="M77.8 139.3 85.1 141.6 92.6 143.9 100.1 146.2" stroke="#81d232"/><path d="M100.1 146.2 107.7 148.4 115.5 150.8 123.6 153.1" stroke="#c7d139"/><path d="M123.6 153.1 131.9 155.4 140.3 157.6 148.8 159.5" stroke="#ebb234"/><path d="M148.8 159.5 157.3 161.3 165.9 162.8 174.7 164.2" stroke="#eda12d"/><path d="M174.7 164.2 183.6 165.5 192.6 167.0 201.7 168.6" stroke="#eabf39"/><path d="M201.7 168.6 211.0 170.5 220.7 172.6 230.5 174.8" stroke="#e8d040"/><path d="M230.5 174.8 240.2 176.9 249.6 178.7 258.5 180.1" stroke="#e4d03f"/><path d="M258.5 180.1 267.0 181.1 275.5 182.0 283.6 182.7" stroke="#e5d03f"/><path d="M283.6 182.7 291.3 182.8 298.3 182.3 304.5 180.9" stroke="#e8cc3e"/><path d="M304.5 180.9 309.6 178.4 313.6 175.0 317.0 170.9" stroke="#e3d03f"/><path d="M317.0 170.9 320.1 166.4 323.3 161.8 326.8 157.3" stroke="#ccd13a"/><path d="M326.8 157.3 331.0 152.4 335.5 147.0 340.1 141.4" stroke="#c2d137"/><path d="M340.1 141.4 344.4 136.1 348.1 131.6 350.7 128.4" stroke="#c5d138"/></g><g stroke-width="1.6" opacity="0.92"><path d="M11.8 125.0 15.3 125.5 20.4 126.2" stroke="#2dc36c"/><path d="M20.4 126.2 26.3 126.9 32.5 127.8 38.4 128.7" stroke="#2bc175"/><path d="M38.4 128.7 43.3 129.6 46.9 130.4 49.8 131.2" stroke="#2bc079"/><path d="M49.8 131.2 52.3 132.1 54.9 133.1 58.1 134.2" stroke="#2fc65a"/><path d="M58.1 134.2 62.2 135.4 67.4 136.9 73.3 138.6" stroke="#37ca49"/><path d="M73.3 138.6 79.7 140.4 86.6 142.3 93.7 144.3" stroke="#4ad038"/><path d="M93.7 144.3 100.9 146.3 108.4 148.4 116.2 150.7" stroke="#75d232"/><path d="M116.2 150.7 124.3 153.1 132.6 155.4 141.1 157.8" stroke="#bad136"/><path d="M141.1 157.8 149.5 160.1 158.0 162.4 166.7 164.8" stroke="#e9c93d"/><path d="M166.7 164.8 175.5 167.1 184.4 169.4 193.3 171.4" stroke="#eabe39"/><path d="M193.3 171.4 202.4 173.2 211.6 174.6 221.0 175.8" stroke="#eab836"/><path d="M221.0 175.8 230.5 176.9 239.9 177.7 249.2 178.6" stroke="#e9c53c"/><path d="M249.2 178.6 258.2 179.4 267.2 180.5 276.3 181.8" stroke="#e8ce3f"/><path d="M276.3 181.8 285.2 183.1 293.7 184.0 301.3 184.3" stroke="#e9c63c"/><path d="M301.3 184.3 308.0 183.8 313.3 182.3 317.6 179.9" stroke="#e9c63c"/><path d="M317.6 179.9 321.1 176.9 324.1 173.6 327.0 170.2" stroke="#c5d138"/><path d="M327.0 170.2 330.0 167.0 333.1 163.5 336.2 159.6" stroke="#9dd232"/><path d="M336.2 159.6 339.1 155.6 341.8 151.9 343.9 148.7" stroke="#95d232"/><path d="M343.9 148.7 345.6 146.4" stroke="#90d232"/></g><g stroke-width="2.0" opacity="0.92"><path d="M10.5 124.7 14.1 125.2 19.1 125.9" stroke="#2abe84"/><path d="M19.1 125.9 25.0 126.6 31.2 127.5 37.1 128.3" stroke="#2cc26f"/><path d="M37.1 128.3 42.0 129.2 45.9 130.0 49.0 130.8" stroke="#2fc758"/><path d="M49.0 130.8 51.8 131.6 54.7 132.5 58.1 133.5" stroke="#31c84f"/><path d="M58.1 133.5 62.6 134.9 68.0 136.4 74.3 138.2" stroke="#32c94e"/><path d="M74.3 138.2 81.0 140.1 88.2 142.2 95.5 144.3" stroke="#2fc65a"/><path d="M95.5 144.3 102.8 146.5 110.1 148.8 117.6 151.2" stroke="#32c84f"/><path d="M117.6 151.2 125.3 153.7 133.1 156.2 141.1 158.6" stroke="#8cd232"/><path d="M141.1 158.6 149.2 160.7 157.4 162.6 165.7 164.2" stroke="#eabd39"/><path d="M165.7 164.2 174.1 165.7 182.7 167.2 191.5 168.7" stroke="#ebb535"/><path d="M191.5 168.7 200.6 170.3 210.1 172.1 220.1 174.1" stroke="#ebb133"/><path d="M220.1 174.1 230.3 176.1 240.4 178.0 250.2 179.7" stroke="#eabd38"/><path d="M250.2 179.7 259.2 181.0 267.5 182.1 275.3 183.1" stroke="#e9c43b"/><path d="M275.3 183.1 282.7 184.0 289.8 184.4 296.8 184.1" stroke="#ebb636"/><path d="M296.8 184.1 303.8 183.0 310.9 180.8 318.1 177.7" stroke="#ebb435"/><path d="M318.1 177.7 325.1 174.0 331.8 169.8 338.0 165.6" stroke="#cfd13a"/><path d="M338.0 165.6 343.4 161.4 348.2 157.0 352.4 152.0" stroke="#a2d232"/><path d="M352.4 152.0 356.2 146.9 359.4 142.1 362.0 138.0" stroke="#9ed232"/><path d="M362.0 138.0 364.0 135.1" stroke="#9bd232"/></g><g stroke-width="1.9" opacity="0.92"><path d="M11.6 124.8 15.5 125.4 21.1 126.2" stroke="#26b9a0"/><path d="M21.1 126.2 27.6 127.1 34.3 128.2 40.6 129.2" stroke="#28bc90"/><path d="M40.6 129.2 45.7 130.1 49.4 130.8 52.1 131.5" stroke="#2bc07a"/><path d="M52.1 131.5 54.3 132.1 56.6 132.9 59.4 133.8" stroke="#2ec65d"/><path d="M59.4 133.8 63.1 135.0 67.7 136.6 72.9 138.3" stroke="#38cb48"/><path d="M72.9 138.3 78.5 140.3 84.6 142.4 91.2 144.6" stroke="#69d232"/><path d="M91.2 144.6 98.3 147.0 106.0 149.6 114.4 152.6" stroke="#bbd136"/><path d="M114.4 152.6 123.2 155.7 132.3 158.7 141.4 161.5" stroke="#e9c93d"/><path d="M141.4 161.5 150.3 163.9 158.8 165.8 167.3 167.3" stroke="#eda02d"/><path d="M167.3 167.3 175.7 168.6 184.3 169.8 193.0 170.9" stroke="#ebb133"/><path d="M193.0 170.9 201.9 172.1 211.4 173.5 221.3 174.9" stroke="#eabc38"/><path d="M221.3 174.9 231.4 176.3 241.4 177.6 250.9 178.8" stroke="#ebae32"/><path d="M250.9 178.8 259.9 179.7 268.1 180.5 275.9 181.1" stroke="#eda32e"/><path d="M275.9 181.1 283.4 181.7 290.5 181.9 297.3 181.9" stroke="#eca830"/><path d="M297.3 181.9 304.0 181.5 310.7 180.5 317.4 179.1" stroke="#ebb334"/><path d="M317.4 179.1 323.8 177.4 329.7 175.4 334.9 173.5" stroke="#ded03e"/><path d="M334.9 173.5 339.1 171.6 342.2 169.5 344.3 167.2" stroke="#bfd137"/><path d="M344.3 167.2 345.7 164.9 346.5 162.7 347.2 160.8" stroke="#c3d138"/><path d="M347.2 160.8 347.8 159.5" stroke="#c6d138"/></g><g stroke-width="1.7" opacity="0.92"><path d="M11.7 129.6 15.4 130.0 20.8 130.4" stroke="#27bb98"/><path d="M20.8 130.4 27.1 131.0 33.6 131.6 39.7 132.3" stroke="#2bc176"/><path d="M39.7 132.3 44.6 133.1 48.0 134.0 50.5 134.9" stroke="#2fc755"/><path d="M50.5 134.9 52.5 135.9 54.6 137.0 57.3 138.1" stroke="#2ec55f"/><path d="M57.3 138.1 61.3 139.3 66.4 140.5 72.4 141.7" stroke="#2dc465"/><path d="M72.4 141.7 79.0 143.0 86.1 144.4 93.5 146.0" stroke="#2fc755"/><path d="M93.5 146.0 101.0 147.8 109.0 149.8 117.5 152.2" stroke="#3bcb46"/><path d="M117.5 152.2 126.3 154.8 135.3 157.3 144.1 159.8" stroke="#a5d232"/><path d="M144.1 159.8 152.6 162.1 160.5 164.2 168.2 166.1" stroke="#ecab31"/><path d="M168.2 166.1 175.7 168.0 183.3 169.8 191.3 171.6" stroke="#ecad32"/><path d="M191.3 171.6 200.0 173.3 209.6 175.1 220.0 176.9" stroke="#ebaf33"/><path d="M220.0 176.9 230.8 178.7 241.6 180.4 251.8 181.8" stroke="#ebb435"/><path d="M251.8 181.8 261.1 182.8 269.5 183.3 277.2 183.4" stroke="#ebb636"/><path d="M277.2 183.4 284.5 183.2 291.3 182.9 297.9 182.7" stroke="#ebb033"/><path d="M297.9 182.7 304.3 182.5 310.9 182.6 317.5 182.6" stroke="#ecab31"/><path d="M317.5 182.6 323.8 182.6 329.5 182.7 334.3 182.7" stroke="#ecab31"/><path d="M334.3 182.7 337.8 182.8" stroke="#ecab31"/></g><g stroke-width="1.5" opacity="0.92"><path d="M10.9 129.0 14.9 129.4 20.6 129.8 27.3 130.4" stroke="#2cc270"/><path d="M27.3 130.4 34.2 131.0 40.6 131.7 45.7 132.3" stroke="#2bc07d"/><path d="M45.7 132.3 49.3 132.9 51.7 133.4 53.7 133.9" stroke="#2dc36a"/><path d="M53.7 133.9 55.7 134.6 58.4 135.5 62.4 136.9" stroke="#37ca49"/><path d="M62.4 136.9 67.6 138.7 73.8 141.0 80.5 143.6" stroke="#45ce3d"/><path d="M80.5 143.6 87.8 146.2 95.3 148.9 102.9 151.3" stroke="#53d232"/><path d="M102.9 151.3 110.6 153.5 118.8 155.7 127.2 157.9" stroke="#8ad232"/><path d="M127.2 157.9 135.8 160.0 144.2 162.0 152.5 163.8" stroke="#d0d13b"/><path d="M152.5 163.8 160.3 165.5 167.9 167.1 175.4 168.6" stroke="#eab736"/><path d="M175.4 168.6 183.1 170.0 191.1 171.3 199.7 172.6" stroke="#ee992a"/><path d="M199.7 172.6 209.2 173.9 219.5 175.1 230.1 176.2" stroke="#ef8d25"/><path d="M230.1 176.2 240.6 177.3 250.7 178.5 259.9 179.6" stroke="#ee9328"/><path d="M259.9 179.6 268.4 180.9 276.4 182.3 284.0 183.8" stroke="#ee9528"/><path d="M284.0 183.8 291.1 185.1 297.6 186.2 303.4 186.8" stroke="#ee9428"/><path d="M303.4 186.8 308.6 186.9 313.1 186.5 317.1 185.9" stroke="#ee9328"/><path d="M317.1 185.9 320.5 185.2 323.3 184.5 325.4 184.1" stroke="#ee9328"/></g><g stroke-width="1.9" opacity="0.92"><path d="M11.1 128.1 15.2 128.7 21.0 129.4 27.9 130.3" stroke="#26b9a0"/><path d="M27.9 130.3 35.0 131.3 41.6 132.2 47.0 133.1" stroke="#28bd8d"/><path d="M47.0 133.1 50.8 133.8 53.7 134.4 56.1 135.0" stroke="#2ec560"/><path d="M56.1 135.0 58.5 135.6 61.3 136.5 64.9 137.7" stroke="#41cd40"/><path d="M64.9 137.7 69.3 139.2 74.0 140.9 79.2 142.9" stroke="#45cf3c"/><path d="M79.2 142.9 84.8 145.0 90.9 147.3 97.7 149.7" stroke="#38cb48"/><path d="M97.7 149.7 105.2 152.4 113.5 155.5 122.4 158.7" stroke="#6ad232"/><path d="M122.4 158.7 131.5 161.9 140.5 164.7 149.1 167.1" stroke="#ef8522"/><path d="M149.1 167.1 157.3 168.9 165.1 170.2 172.8 171.3" stroke="#e84018"/><path d="M172.8 171.3 180.7 172.2 189.0 173.1 198.0 174.2" stroke="#ef7b1f"/><path d="M198.0 174.2 208.1 175.5 219.1 176.9 230.5 178.3" stroke="#ed9e2c"/><path d="M230.5 178.3 241.9 179.7 252.6 180.9 262.3 181.8" stroke="#ecac31"/><path d="M262.3 181.8 270.9 182.7 278.8 183.5 286.1 184.2" stroke="#ebb334"/><path d="M286.1 184.2 293.0 184.6 299.6 184.7 306.0 184.2" stroke="#ebb435"/><path d="M306.0 184.2 312.4 182.7 318.8 180.4 324.8 177.7" stroke="#e9c73c"/><path d="M324.8 177.7 330.3 175.0 335.0 173.1 338.7 172.3" stroke="#ced13a"/><path d="M338.7 172.3 341.2 173.1 342.6 175.0 343.2 177.5" stroke="#bdd136"/><path d="M343.2 177.5 343.3 180.2 343.3 182.6 343.5 184.2" stroke="#bdd136"/></g><g stroke-width="2.0" opacity="0.92"><path d="M10.9 128.3 14.9 128.9 20.6 129.5 27.2 130.3" stroke="#2ac07d"/><path d="M27.2 130.3 34.0 131.3 40.3 132.3 45.4 133.4" stroke="#2bc07c"/><path d="M45.4 133.4 48.8 134.7 51.2 136.1 53.1 137.6" stroke="#2ec562"/><path d="M53.1 137.6 55.0 139.2 57.4 140.7 61.1 142.3" stroke="#3acb47"/><path d="M61.1 142.3 65.9 143.7 71.3 145.1 77.3 146.5" stroke="#4dd135"/><path d="M77.3 146.5 83.9 148.0 90.9 149.7 98.4 151.6" stroke="#87d232"/><path d="M98.4 151.6 106.6 153.9 115.6 156.6 125.1 159.4" stroke="#dfd03e"/><path d="M125.1 159.4 134.7 162.2 144.0 164.8 152.7 167.0" stroke="#ed671d"/><path d="M152.7 167.0 160.5 168.7 167.6 170.0 174.5 171.0" stroke="#ea4d1a"/><path d="M174.5 171.0 181.5 172.0 189.1 173.1 197.7 174.3" stroke="#ef8d25"/><path d="M197.7 174.3 207.6 175.7 218.6 177.3 230.3 179.0" stroke="#ebad32"/><path d="M230.3 179.0 241.8 180.6 252.8 182.0 262.6 183.2" stroke="#ebaf33"/><path d="M262.6 183.2 271.3 184.2 279.1 185.2 286.4 186.1" stroke="#eca72f"/><path d="M286.4 186.1 293.2 186.6 299.7 186.7 305.9 186.2" stroke="#ee9529"/><path d="M305.9 186.2 312.1 184.7 318.1 182.2 323.8 179.3" stroke="#eca62f"/><path d="M323.8 179.3 329.0 176.5 333.6 174.3 337.4 173.4" stroke="#e0d03e"/><path d="M337.4 173.4 340.4 174.0 342.6 175.8 344.2 178.3" stroke="#c8d139"/><path d="M344.2 178.3 345.4 180.9 346.3 183.3 347.1 184.8" stroke="#c8d139"/></g><g stroke-width="2.1" opacity="0.92"><path d="M12.0 129.7 15.3 130.6" stroke="#2ec464"/><path d="M15.3 130.6 20.1 131.9 25.7 133.4 31.6 134.9" stroke="#2dc36c"/><path d="M31.6 134.9 37.2 136.3 42.2 137.2 46.2 137.7" stroke="#2bc177"/><path d="M46.2 137.7 49.7 137.7 52.9 137.5 56.3 137.5" stroke="#2fc757"/><path d="M56.3 137.5 60.1 137.8 64.6 138.8 70.0 140.5" stroke="#3acb47"/><path d="M70.0 140.5 75.8 142.9 82.1 145.7 88.7 148.6" stroke="#4ed134"/><path d="M88.7 148.6 95.5 151.4 102.4 154.0 109.4 156.3" stroke="#8ad232"/><path d="M109.4 156.3 116.5 158.5 123.9 160.7 131.5 162.8" stroke="#ebb435"/><path d="M131.5 162.8 139.4 164.8 147.5 166.9 156.1 168.9" stroke="#e03417"/><path d="M156.1 168.9 165.1 170.9 174.3 172.9 183.7 174.8" stroke="#e94619"/><path d="M183.7 174.8 193.1 176.7 202.4 178.3 211.8 179.9" stroke="#f07c20"/><path d="M211.8 179.9 221.4 181.4 231.1 182.9 240.6 184.1" stroke="#f07c20"/><path d="M240.6 184.1 249.8 185.1 258.5 185.9 266.9 186.3" stroke="#ee721e"/><path d="M266.9 186.3 275.2 186.3 283.2 186.1 290.6 185.8" stroke="#f08020"/><path d="M290.6 185.8 297.4 185.6 303.3 185.5 308.3 185.6" stroke="#ee9227"/><path d="M308.3 185.6 312.6 185.8 316.1 186.0 319.1 186.2" stroke="#ee9629"/><path d="M319.1 186.2 321.5 186.4 323.3 186.6" stroke="#ee9629"/></g><g stroke-width="1.5" opacity="0.92"><path d="M11.5 132.3 15.0 133.2 19.9 134.4 25.6 135.8" stroke="#2cc272"/><path d="M25.6 135.8 31.7 137.2 37.5 138.4 42.4 139.2" stroke="#2ec561"/><path d="M42.4 139.2 46.3 139.4 49.6 139.2 52.6 138.8" stroke="#30c852"/><path d="M52.6 138.8 55.7 138.4 59.3 138.4 63.8 139.0" stroke="#34c94d"/><path d="M63.8 139.0 69.1 140.3 75.1 142.0 81.6 144.1" stroke="#3bcb46"/><path d="M81.6 144.1 88.4 146.4 95.6 148.8 102.9 151.3" stroke="#46cf3c"/><path d="M102.9 151.3 110.5 154.0 118.6 157.0 126.9 160.1" stroke="#a0d232"/><path d="M126.9 160.1 135.4 163.2 143.8 166.1 152.0 168.5" stroke="#ee731e"/><path d="M152.0 168.5 159.9 170.5 167.5 172.2 175.1 173.7" stroke="#e73e18"/><path d="M175.1 173.7 182.8 175.1 190.9 176.3 199.4 177.6" stroke="#ef7a1f"/><path d="M199.4 177.6 208.8 179.0 218.9 180.2 229.4 181.4" stroke="#ee992a"/><path d="M229.4 181.4 239.8 182.6 249.8 183.6 259.0 184.6" stroke="#ed9a2a"/><path d="M259.0 184.6 267.6 185.4 275.8 186.3 283.7 187.0" stroke="#ee992a"/><path d="M283.7 187.0 291.1 187.6 297.9 188.1 304.1 188.4" stroke="#ee9528"/><path d="M304.1 188.4 309.7 188.4 314.9 188.2 319.5 187.8" stroke="#ee9428"/><path d="M319.5 187.8 323.5 187.4 326.8 187.0 329.3 186.7" stroke="#ee9428"/></g><g stroke-width="1.3" opacity="0.92"><path d="M11.4 131.9 14.9 132.6" stroke="#2ec55e"/><path d="M14.9 132.6 19.9 133.6 25.7 134.9 31.8 136.2" stroke="#31c84f"/><path d="M31.8 136.2 37.6 137.4 42.6 138.5 46.4 139.3" stroke="#38cb48"/><path d="M46.4 139.3 49.6 139.9 52.5 140.5 55.4 141.2" stroke="#39cb48"/><path d="M55.4 141.2 58.9 142.0 63.1 143.0 68.2 144.2" stroke="#38cb48"/><path d="M68.2 144.2 73.7 145.6 79.7 147.1 86.2 148.8" stroke="#3fcd42"/><path d="M86.2 148.8 92.9 150.6 100.0 152.5 107.6 154.7" stroke="#48cf3a"/><path d="M107.6 154.7 115.7 157.3 124.2 159.9 132.8 162.6" stroke="#c3d138"/><path d="M132.8 162.6 141.3 165.1 149.6 167.2 157.5 168.9" stroke="#ec631c"/><path d="M157.5 168.9 165.1 170.4 172.6 171.7 180.3 172.9" stroke="#e13617"/><path d="M180.3 172.9 188.5 174.2 197.3 175.6 207.1 177.2" stroke="#d32014"/><path d="M207.1 177.2 217.9 179.0 229.1 180.8 240.3 182.5" stroke="#d52315"/><path d="M240.3 182.5 250.8 184.1 260.3 185.5 268.7 186.8" stroke="#da2b16"/><path d="M268.7 186.8 276.2 188.2 283.1 189.4 289.7 190.3" stroke="#d72515"/><path d="M289.7 190.3 296.2 190.6 302.8 190.2 309.8 188.4" stroke="#d21e14"/><path d="M309.8 188.4 317.0 185.4 324.1 181.9 330.7 178.5" stroke="#f08421"/><path d="M330.7 178.5 336.5 175.8 341.0 174.6 344.2 175.1" stroke="#a6d232"/><path d="M344.2 175.1 346.2 177.0 347.4 179.7 348.1 182.6" stroke="#8bd232"/><path d="M348.1 182.6 348.5 185.1 349.0 186.8" stroke="#8bd232"/></g><g stroke-width="1.8" opacity="0.92"><path d="M11.7 129.7 15.9 131.1" stroke="#29bd8a"/><path d="M15.9 131.1 21.9 133.0 28.9 135.2 36.1 137.5" stroke="#2dc36b"/><path d="M36.1 137.5 42.6 139.5 47.7 140.8 50.8 141.4" stroke="#36ca4b"/><path d="M50.8 141.4 52.6 141.4 53.8 141.1 55.0 140.8" stroke="#2fc756"/><path d="M55.0 140.8 56.9 140.9 60.2 141.5 64.8 142.9" stroke="#2ac07d"/><path d="M64.8 142.9 70.3 144.7 76.4 146.9 83.2 149.2" stroke="#2ec65d"/><path d="M83.2 149.2 90.3 151.7 97.8 154.2 105.8 156.8" stroke="#3acb47"/><path d="M105.8 156.8 114.5 159.7 123.6 162.6 132.9 165.6" stroke="#b3d234"/><path d="M132.9 165.6 142.1 168.3 151.1 170.8 159.6 172.8" stroke="#ec601c"/><path d="M159.6 172.8 168.0 174.6 176.3 176.3 184.7 177.8" stroke="#e84118"/><path d="M184.7 177.8 193.3 179.2 202.3 180.6 211.8 182.1" stroke="#e73e18"/><path d="M211.8 182.1 221.9 183.6 232.1 185.0 242.3 186.3" stroke="#e73f18"/><path d="M242.3 186.3 252.2 187.3 261.4 188.2 270.0 188.8" stroke="#e84018"/><path d="M270.0 188.8 278.3 189.3 286.2 189.5 293.8 189.6" stroke="#e33817"/><path d="M293.8 189.6 300.9 189.3 307.7 188.8 314.2 187.6" stroke="#dd2f16"/><path d="M314.2 187.6 320.5 185.7 326.3 183.6 331.6 181.5" stroke="#ef8723"/><path d="M331.6 181.5 336.2 180.0 339.7 179.3 342.1 179.8" stroke="#bfd137"/><path d="M342.1 179.8 343.3 181.1 343.8 182.9 343.9 184.8" stroke="#acd233"/><path d="M343.9 184.8 343.8 186.5 343.9 187.6" stroke="#acd233"/></g><g stroke-width="1.3" opacity="0.92"><path d="M13.1 131.0 17.2 131.7 22.9 132.7" stroke="#2abe85"/><path d="M22.9 132.7 29.6 133.8 36.5 135.0 42.9 136.2" stroke="#2abf83"/><path d="M42.9 136.2 47.8 137.3 51.1 138.2 53.1 138.9" stroke="#2abf81"/><path d="M53.1 138.9 54.5 139.6 56.0 140.5 58.2 141.6" stroke="#2ac07e"/><path d="M58.2 141.6 61.8 143.0 66.6 145.0 72.4 147.3" stroke="#2dc368"/><path d="M72.4 147.3 78.8 149.8 85.8 152.5 93.1 155.1" stroke="#4ad038"/><path d="M93.1 155.1 100.6 157.6 108.5 160.1 117.0 162.6" stroke="#a1d232"/><path d="M117.0 162.6 125.8 165.1 134.7 167.5 143.6 169.7" stroke="#ebaf33"/><path d="M143.6 169.7 152.1 171.7 160.1 173.3 167.9 174.6" stroke="#eb541b"/><path d="M167.9 174.6 175.5 175.8 183.2 176.9 191.3 177.9" stroke="#e94619"/><path d="M191.3 177.9 199.8 178.9 209.0 180.0 218.8 181.1" stroke="#e43a17"/><path d="M218.8 181.1 228.9 182.1 239.0 183.0 248.8 184.0" stroke="#db2c16"/><path d="M248.8 184.0 258.1 184.8 267.3 185.7 276.5 186.6" stroke="#d52315"/><path d="M276.5 186.6 285.5 187.4 293.9 188.2 301.4 188.8" stroke="#d92915"/><path d="M301.4 188.8 307.7 189.3 312.5 189.5 316.2 189.6" stroke="#dd2f16"/><path d="M316.2 189.6 319.0 189.5 321.1 189.4 322.8 189.2" stroke="#dd2f16"/><path d="M322.8 189.2 324.2 189.2" stroke="#dd2f16"/></g><g stroke-width="1.7" opacity="0.92"><path d="M13.1 132.7 16.9 133.8" stroke="#2fc754"/><path d="M16.9 133.8 22.2 135.5 28.4 137.4 34.8 139.4" stroke="#30c850"/><path d="M34.8 139.4 40.8 141.2 45.5 142.6 48.7 143.4" stroke="#33c94d"/><path d="M48.7 143.4 50.8 143.8 52.4 144.0 54.2 144.2" stroke="#47cf3b"/><path d="M54.2 144.2 56.7 144.8 60.5 145.8 65.9 147.4" stroke="#76d232"/><path d="M65.9 147.4 72.4 149.5 79.6 151.8 87.3 154.3" stroke="#d1d13b"/><path d="M87.3 154.3 95.1 156.7 102.7 158.8 110.2 160.8" stroke="#ef8b25"/><path d="M110.2 160.8 117.9 162.7 125.8 164.4 133.7 166.2" stroke="#ec5e1c"/><path d="M133.7 166.2 141.8 168.0 149.9 169.9 158.1 171.8" stroke="#e53c18"/><path d="M158.1 171.8 166.4 173.9 174.7 176.0 183.3 178.0" stroke="#e23617"/><path d="M183.3 178.0 192.0 179.9 201.1 181.4 210.7 182.6" stroke="#e03417"/><path d="M210.7 182.6 220.8 183.5 231.2 184.2 241.5 184.9" stroke="#dc2e16"/><path d="M241.5 184.9 251.4 185.4 260.7 186.1 269.7 186.8" stroke="#d82715"/><path d="M269.7 186.8 278.6 187.4 287.1 188.1 294.9 188.6" stroke="#dc2d16"/><path d="M294.9 188.6 301.8 189.2 307.3 189.6 311.3 189.9" stroke="#e13517"/><path d="M311.3 189.9 314.0 190.2 315.6 190.4 316.6 190.5" stroke="#e23617"/><path d="M316.6 190.5 317.4 190.6 318.1 190.7" stroke="#e23617"/></g><g stroke-width="1.6" opacity="0.92"><path d="M13.8 136.0 17.3 136.6" stroke="#29be87"/><path d="M17.3 136.6 22.3 137.5 28.2 138.5 34.3 139.5" stroke="#2dc36a"/><path d="M34.3 139.5 40.1 140.6 44.9 141.4 48.4 142.1" stroke="#35ca4b"/><path d="M48.4 142.1 51.0 142.6 53.3 143.1 55.7 143.7" stroke="#44ce3d"/><path d="M55.7 143.7 58.7 144.4 62.8 145.4 68.2 146.7" stroke="#5bd232"/><path d="M68.2 146.7 74.3 148.3 81.1 150.0 88.2 151.8" stroke="#c5d138"/><path d="M88.2 151.8 95.6 153.9 102.8 156.0 110.1 158.4" stroke="#ef8723"/><path d="M110.1 158.4 117.5 161.1 125.1 164.0 132.8 166.8" stroke="#eb5a1b"/><path d="M132.8 166.8 140.7 169.4 148.7 171.6 156.8 173.4" stroke="#e53c17"/><path d="M156.8 173.4 165.0 174.8 173.4 176.0 182.0 177.1" stroke="#db2c16"/><path d="M182.0 177.1 190.7 178.2 199.7 179.5 209.0 181.0" stroke="#d21e14"/><path d="M209.0 181.0 218.7 182.6 228.7 184.3 238.6 185.9" stroke="#d52315"/><path d="M238.6 185.9 248.3 187.3 257.5 188.5 266.5 189.6" stroke="#dc2e16"/><path d="M266.5 189.6 275.3 190.5 284.0 191.2 292.2 191.8" stroke="#dd3016"/><path d="M292.2 191.8 299.9 192.2 306.8 192.5 313.1 192.4" stroke="#de3016"/><path d="M313.1 192.4 318.8 192.1 324.0 191.6 328.5 191.1" stroke="#de3016"/><path d="M328.5 191.1 332.3 190.6 335.1 190.3" stroke="#de3016"/></g><g stroke-width="1.9" opacity="0.92"><path d="M13.2 135.6 16.8 136.3 21.9 137.3 27.9 138.6" stroke="#31c84f"/><path d="M27.9 138.6 34.1 139.8 40.0 141.0 44.9 142.1" stroke="#35c94c"/><path d="M44.9 142.1 48.5 142.7 51.4 143.2 53.9 143.5" stroke="#41cd40"/><path d="M53.9 143.5 56.5 144.0 59.5 144.8 63.3 146.0" stroke="#65d232"/><path d="M63.3 146.0 67.8 147.8 72.7 150.1 78.0 152.8" stroke="#b3d234"/><path d="M78.0 152.8 83.8 155.5 90.2 158.1 97.3 160.3" stroke="#ebb133"/><path d="M97.3 160.3 105.2 162.3 114.1 164.2 123.5 165.9" stroke="#ef761f"/><path d="M123.5 165.9 133.2 167.5 142.7 169.2 151.9 170.8" stroke="#eb571b"/><path d="M151.9 170.8 160.5 172.4 168.8 174.0 177.1 175.5" stroke="#e84318"/><path d="M177.1 175.5 185.4 177.1 193.9 178.6 202.7 180.2" stroke="#e53c18"/><path d="M202.7 180.2 212.2 181.9 222.1 183.8 232.3 185.7" stroke="#e23717"/><path d="M232.3 185.7 242.3 187.4 252.0 188.9 260.9 190.1" stroke="#e13517"/><path d="M260.9 190.1 269.3 190.8 277.4 191.3 285.1 191.4" stroke="#e13617"/><path d="M285.1 191.4 292.3 191.5 298.9 191.4 304.8 191.5" stroke="#e33917"/><path d="M304.8 191.5 310.0 191.6 314.6 191.6 318.6 191.6" stroke="#e43a17"/><path d="M318.6 191.6 322.0 191.6 324.7 191.6 326.9 191.5" stroke="#e43a17"/></g><g stroke-width="2.2" opacity="0.92"><path d="M13.2 136.1 16.8 136.6" stroke="#29be89"/><path d="M16.8 136.6 21.8 137.1 27.7 137.8 33.9 138.6" stroke="#2abf82"/><path d="M33.9 138.6 39.5 139.6 44.1 140.6 47.3 141.8" stroke="#2bc178"/><path d="M47.3 141.8 49.4 143.1 51.1 144.5 53.0 146.0" stroke="#3bcb46"/><path d="M53.0 146.0 55.4 147.6 59.1 149.3 64.1 151.1" stroke="#60d232"/><path d="M64.1 151.1 69.8 153.1 76.1 155.1 83.0 157.2" stroke="#d1d13b"/><path d="M83.0 157.2 90.4 159.3 98.0 161.4 106.2 163.6" stroke="#ef771f"/><path d="M106.2 163.6 115.1 165.9 124.4 168.2 133.8 170.5" stroke="#e94619"/><path d="M133.8 170.5 143.0 172.6 151.8 174.6 159.8 176.4" stroke="#da2b15"/><path d="M159.8 176.4 167.2 178.1 174.5 179.6 181.9 181.1" stroke="#dc2d16"/><path d="M181.9 181.1 189.8 182.5 198.4 183.8 208.1 185.0" stroke="#e13517"/><path d="M208.1 185.0 218.7 186.0 229.7 187.0 240.7 187.9" stroke="#db2b16"/><path d="M240.7 187.9 251.3 188.8 260.9 189.7 269.7 190.8" stroke="#d21e14"/><path d="M269.7 190.8 277.9 191.9 285.7 193.1 293.0 194.1" stroke="#d21e14"/><path d="M293.0 194.1 300.0 194.9 306.7 195.3 313.2 195.1" stroke="#d21e14"/><path d="M313.2 195.1 319.6 194.5 325.7 193.7 331.2 192.7" stroke="#d21e14"/><path d="M331.2 192.7 335.7 191.9 339.1 191.4" stroke="#d21e14"/></g><g stroke-width="1.5" opacity="0.92"><path d="M13.7 134.6 17.1 135.7 21.9 137.2 27.5 139.0" stroke="#2abf80"/><path d="M27.5 139.0 33.3 140.8 38.9 142.5 43.4 143.9" stroke="#2dc369"/><path d="M43.4 143.9 46.9 144.9 49.5 145.6 51.8 146.1" stroke="#3acb47"/><path d="M51.8 146.1 54.2 146.7 57.1 147.4 61.0 148.5" stroke="#5dd232"/><path d="M61.0 148.5 65.8 149.8 71.2 151.2 77.2 152.8" stroke="#b2d234"/><path d="M77.2 152.8 83.6 154.6 90.3 156.6 97.4 158.8" stroke="#ebb334"/><path d="M97.4 158.8 104.9 161.4 113.0 164.4 121.4 167.6" stroke="#ef751f"/><path d="M121.4 167.6 130.0 170.8 138.7 173.7 147.3 176.1" stroke="#ea4f1a"/><path d="M147.3 176.1 155.7 177.8 164.1 179.1 172.5 180.1" stroke="#e33817"/><path d="M172.5 180.1 181.1 181.0 189.9 181.9 199.1 182.9" stroke="#db2c16"/><path d="M199.1 182.9 208.9 184.1 219.3 185.4 229.9 186.6" stroke="#d72615"/><path d="M229.9 186.6 240.5 187.8 250.7 189.0 260.2 190.1" stroke="#d62415"/><path d="M260.2 190.1 269.0 191.2 277.5 192.5 285.7 193.7" stroke="#d72515"/><path d="M285.7 193.7 293.4 194.7 300.8 195.3 307.7 195.1" stroke="#da2a15"/><path d="M307.7 195.1 314.3 194.0 320.7 191.9 326.7 189.3" stroke="#ec5d1c"/><path d="M326.7 189.3 332.2 186.8 336.9 184.8 340.8 183.8" stroke="#e8ce3f"/><path d="M340.8 183.8 343.7 184.1 345.6 185.3 346.8 187.1" stroke="#b3d234"/><path d="M346.8 187.1 347.6 189.0 348.1 190.6 348.7 191.7" stroke="#b3d234"/></g><g stroke-width="1.7" opacity="0.92"><path d="M14.3 134.0 18.1 135.0" stroke="#27bb99"/><path d="M18.1 135.0 23.5 136.4 29.8 138.0 36.2 139.7" stroke="#2abf83"/><path d="M36.2 139.7 42.2 141.3 46.8 142.6 49.7 143.6" stroke="#2ec463"/><path d="M49.7 143.6 51.5 144.2 52.7 144.7 53.9 145.4" stroke="#3fcd42"/><path d="M53.9 145.4 55.9 146.4 59.2 147.9 64.0 150.0" stroke="#60d232"/><path d="M64.0 150.0 69.6 152.8 76.0 155.8 82.8 158.9" stroke="#d4d13c"/><path d="M82.8 158.9 90.0 161.9 97.3 164.5 104.9 166.8" stroke="#ee6c1e"/><path d="M104.9 166.8 112.9 168.9 121.3 170.8 129.8 172.6" stroke="#e73e18"/><path d="M129.8 172.6 138.6 174.3 147.4 175.8 156.2 177.0" stroke="#d82815"/><path d="M156.2 177.0 165.3 178.0 174.5 178.9 183.8 179.7" stroke="#d92915"/><path d="M183.8 179.7 193.3 180.7 202.9 182.0 212.8 183.7" stroke="#dc2e16"/><path d="M212.8 183.7 223.2 185.7 233.7 187.8 244.0 190.0" stroke="#da2a15"/><path d="M244.0 190.0 253.8 191.8 262.7 193.3 270.6 194.4" stroke="#d52315"/><path d="M270.6 194.4 277.8 195.3 284.5 196.0 290.8 196.4" stroke="#db2c16"/><path d="M290.8 196.4 296.9 196.4 303.2 196.1 309.7 195.1" stroke="#e33917"/><path d="M309.7 195.1 316.3 193.4 322.8 191.3 328.9 189.3" stroke="#ef8a24"/><path d="M328.9 189.3 334.2 187.7 338.5 186.9 341.6 187.1" stroke="#cdd13a"/><path d="M341.6 187.1 343.8 187.9 345.1 189.2 346.0 190.6" stroke="#bed136"/><path d="M346.0 190.6 346.7 191.8 347.4 192.6" stroke="#bed136"/></g><g stroke-width="1.6" opacity="0.92"><path d="M14.4 135.4 17.9 136.3" stroke="#30c852"/><path d="M17.9 136.3 23.0 137.5 29.0 139.0 35.2 140.6" stroke="#2ec65d"/><path d="M35.2 140.6 40.9 142.1 45.5 143.5 48.7 144.7" stroke="#2cc36d"/><path d="M48.7 144.7 50.8 145.8 52.5 146.8 54.4 147.9" stroke="#3ecc43"/><path d="M54.4 147.9 57.0 149.1 60.9 150.4 66.3 151.9" stroke="#6ad232"/><path d="M66.3 151.9 72.8 153.5 80.1 155.2 87.7 157.0" stroke="#d6d13c"/><path d="M87.7 157.0 95.4 158.8 102.9 160.8 110.1 162.9" stroke="#ef751f"/><path d="M110.1 162.9 117.4 165.2 124.7 167.5 132.2 169.9" stroke="#ea521a"/><path d="M132.2 169.9 139.9 172.1 147.7 174.2 155.8 176.0" stroke="#e73f18"/><path d="M155.8 176.0 164.0 177.8 172.4 179.4 180.9 181.0" stroke="#e43a17"/><path d="M180.9 181.0 189.7 182.5 198.8 183.9 208.4 185.4" stroke="#e13617"/><path d="M208.4 185.4 218.4 186.9 228.7 188.3 239.0 189.6" stroke="#e03417"/><path d="M239.0 189.6 248.9 190.7 258.3 191.6 267.4 192.3" stroke="#df3216"/><path d="M267.4 192.3 276.3 192.8 284.9 193.1 293.1 193.3" stroke="#df3216"/><path d="M293.1 193.3 300.6 193.4 307.2 193.6 313.0 193.8" stroke="#de3116"/><path d="M313.0 193.8 318.2 193.9 322.6 194.0 326.4 194.1" stroke="#de3116"/><path d="M326.4 194.1 329.6 194.2 332.0 194.2" stroke="#de3116"/></g><g stroke-width="2.1" opacity="0.92"><path d="M15.8 137.6 19.2 138.9" stroke="#2bc079"/><path d="M19.2 138.9 24.1 140.7 29.9 142.8 35.9 144.9" stroke="#2dc468"/><path d="M35.9 144.9 41.6 146.9 46.3 148.3 49.9 149.1" stroke="#31c84f"/><path d="M49.9 149.1 52.7 149.4 55.2 149.5 57.7 149.7" stroke="#3ccc45"/><path d="M57.7 149.7 60.7 150.1 64.7 151.0 69.5 152.4" stroke="#48d039"/><path d="M69.5 152.4 74.9 154.3 80.8 156.3 87.2 158.6" stroke="#b3d234"/><path d="M87.2 158.6 93.9 161.0 100.9 163.3 108.5 165.8" stroke="#ef8a24"/><path d="M108.5 165.8 116.7 168.6 125.2 171.4 133.9 174.2" stroke="#eb551b"/><path d="M133.9 174.2 142.6 176.8 151.0 179.0 159.1 180.9" stroke="#e03316"/><path d="M159.1 180.9 166.9 182.4 174.6 183.8 182.5 185.1" stroke="#e03316"/><path d="M182.5 185.1 190.8 186.3 199.6 187.5 209.3 188.7" stroke="#e33917"/><path d="M209.3 188.7 219.8 189.9 230.7 191.0 241.4 192.1" stroke="#e03316"/><path d="M241.4 192.1 251.6 193.0 260.9 193.8 269.3 194.4" stroke="#db2b16"/><path d="M269.3 194.4 277.2 194.8 284.6 195.2 291.5 195.4" stroke="#de3116"/><path d="M291.5 195.4 297.7 195.5 303.4 195.7 308.4 195.7" stroke="#e43a17"/><path d="M308.4 195.7 312.8 195.7 316.7 195.5 319.9 195.4" stroke="#e53c17"/><path d="M319.9 195.4 322.6 195.3 324.7 195.2" stroke="#e53c17"/></g><g stroke-width="1.7" opacity="0.92"><path d="M14.8 136.2 18.2 137.2 23.0 138.8 28.7 140.6" stroke="#30c850"/><path d="M28.7 140.6 34.5 142.5 40.0 144.3 44.4 145.9" stroke="#2ec561"/><path d="M44.4 145.9 47.6 147.1 49.9 148.3 51.7 149.4" stroke="#37ca4a"/><path d="M51.7 149.4 53.7 150.4 56.3 151.6 59.9 152.9" stroke="#58d232"/><path d="M59.9 152.9 64.7 154.3 70.1 155.7 76.1 157.1" stroke="#bad136"/><path d="M76.1 157.1 82.7 158.8 89.7 160.6 97.2 162.7" stroke="#ee9328"/><path d="M97.2 162.7 105.3 165.3 114.2 168.4 123.6 171.7" stroke="#eb541b"/><path d="M123.6 171.7 133.2 175.0 142.6 178.0 151.5 180.3" stroke="#e84218"/><path d="M151.5 180.3 159.8 182.1 167.8 183.4 175.6 184.4" stroke="#e33817"/><path d="M175.6 184.4 183.5 185.2 191.7 186.0 200.5 186.9" stroke="#df3216"/><path d="M200.5 186.9 210.2 187.9 220.7 188.8 231.5 189.8" stroke="#da2b16"/><path d="M231.5 189.8 242.3 190.6 252.5 191.5 261.9 192.3" stroke="#d42114"/><path d="M261.9 192.3 270.4 193.1 278.7 193.9 286.4 194.6" stroke="#d21e14"/><path d="M286.4 194.6 293.4 195.3 299.7 195.8 305.1 196.2" stroke="#d21e14"/><path d="M305.1 196.2 309.3 196.5 312.6 196.5 315.0 196.5" stroke="#d21e14"/><path d="M315.0 196.5 316.9 196.4 318.4 196.2 319.6 196.2" stroke="#d21e14"/></g><g stroke-width="1.5" opacity="0.92"><path d="M15.1 139.6 18.3 141.0 23.0 142.9 28.5 145.1" stroke="#29be85"/><path d="M28.5 145.1 34.2 147.3 39.6 149.3 44.2 150.7" stroke="#2abf7f"/><path d="M44.2 150.7 47.6 151.4 50.4 151.5 52.8 151.4" stroke="#2fc659"/><path d="M52.8 151.4 55.4 151.4 58.4 151.6 62.2 152.6" stroke="#42cd40"/><path d="M62.2 152.6 66.9 154.4 72.0 156.8 77.6 159.5" stroke="#90d232"/><path d="M77.6 159.5 83.6 162.4 90.1 165.1 97.1 167.4" stroke="#eda12d"/><path d="M97.1 167.4 104.8 169.4 113.3 171.1 122.1 172.6" stroke="#ea501a"/><path d="M122.1 172.6 131.3 174.1 140.4 175.6 149.2 177.1" stroke="#e33917"/><path d="M149.2 177.1 157.8 178.6 166.3 180.1 174.8 181.5" stroke="#df3216"/><path d="M174.8 181.5 183.3 183.0 192.0 184.4 200.9 185.9" stroke="#e23717"/><path d="M200.9 185.9 210.3 187.4 219.9 189.1 229.8 190.8" stroke="#e23717"/><path d="M229.8 190.8 239.5 192.3 249.0 193.8 257.9 195.0" stroke="#df3216"/><path d="M257.9 195.0 266.3 196.1 274.3 197.0 282.0 197.8" stroke="#dc2d16"/><path d="M282.0 197.8 289.5 198.4 296.8 198.8 303.9 198.9" stroke="#d92815"/><path d="M303.9 198.9 311.1 198.5 318.5 197.7 325.6 196.6" stroke="#ec601c"/><path d="M325.6 196.6 332.2 195.5 337.9 194.6 342.2 194.1" stroke="#cfd13a"/><path d="M342.2 194.1 345.1 194.0 346.6 194.2 347.1 194.6" stroke="#88d232"/><path d="M347.1 194.6 347.2 195.1 347.1 195.6 347.2 195.8" stroke="#88d232"/></g><g stroke-width="2.1" opacity="0.92"><path d="M15.9 138.7 19.2 140.1 24.0 142.0 29.5 144.2" stroke="#2fc757"/><path d="M29.5 144.2 35.3 146.6 40.8 148.7 45.3 150.4" stroke="#2fc65b"/><path d="M45.3 150.4 48.7 151.6 51.3 152.4 53.5 153.1" stroke="#37ca49"/><path d="M53.5 153.1 55.9 153.7 58.8 154.6 62.6 155.8" stroke="#4ed134"/><path d="M62.6 155.8 67.4 157.5 72.7 159.4 78.6 161.6" stroke="#a4d232"/><path d="M78.6 161.6 85.0 163.9 91.7 166.2 98.9 168.3" stroke="#ebae32"/><path d="M98.9 168.3 106.7 170.5 115.1 172.8 123.9 175.0" stroke="#ed651d"/><path d="M123.9 175.0 133.0 177.2 142.1 179.1 150.9 180.7" stroke="#e63d18"/><path d="M150.9 180.7 159.4 181.8 167.8 182.4 176.3 182.8" stroke="#de3016"/><path d="M176.3 182.8 184.8 183.2 193.5 183.8 202.5 184.9" stroke="#e13517"/><path d="M202.5 184.9 212.1 186.5 222.2 188.5 232.5 190.7" stroke="#de3116"/><path d="M232.5 190.7 242.7 193.0 252.6 195.0 261.7 196.5" stroke="#d72515"/><path d="M261.7 196.5 270.3 197.6 278.5 198.6 286.3 199.3" stroke="#d52315"/><path d="M286.3 199.3 293.7 199.8 300.7 199.9 307.3 199.7" stroke="#db2c16"/><path d="M307.3 199.7 313.6 198.9 319.7 197.5 325.4 195.8" stroke="#ed6a1d"/><path d="M325.4 195.8 330.4 194.1 334.7 192.7 338.1 192.0" stroke="#cdd13a"/><path d="M338.1 192.0 340.2 192.1 341.1 192.7 341.3 193.8" stroke="#8ad232"/><path d="M341.3 193.8 341.1 194.9 340.8 195.9 340.7 196.5" stroke="#8ad232"/></g><g stroke-width="1.7" opacity="0.92"><path d="M16.1 141.8 19.0 142.7 23.0 144.0 27.8 145.4" stroke="#2cc273"/><path d="M27.8 145.4 32.9 147.0 37.8 148.5 42.1 149.7" stroke="#2dc36b"/><path d="M42.1 149.7 45.8 150.7 49.0 151.4 52.1 152.1" stroke="#33c94d"/><path d="M52.1 152.1 55.3 152.9 58.9 153.7 63.2 154.8" stroke="#46cf3b"/><path d="M63.2 154.8 68.0 156.2 73.2 157.8 78.8 159.6" stroke="#90d232"/><path d="M78.8 159.6 84.8 161.4 91.2 163.3 98.1 165.3" stroke="#ebb636"/><path d="M98.1 165.3 105.6 167.3 113.7 169.5 122.3 171.8" stroke="#ee701e"/><path d="M122.3 171.8 131.1 174.0 139.9 176.1 148.6 178.1" stroke="#eb551b"/><path d="M148.6 178.1 157.2 179.8 165.7 181.3 174.2 182.7" stroke="#e94719"/><path d="M174.2 182.7 182.9 184.1 191.8 185.5 201.0 187.1" stroke="#e94719"/><path d="M201.0 187.1 210.8 188.8 221.1 190.7 231.7 192.7" stroke="#e84218"/><path d="M231.7 192.7 242.1 194.5 252.1 196.1 261.2 197.4" stroke="#e53b17"/><path d="M261.2 197.4 269.4 198.2 277.0 198.8 284.1 199.2" stroke="#e03417"/><path d="M284.1 199.2 290.8 199.4 297.4 199.4 303.9 199.4" stroke="#dc2e16"/><path d="M303.9 199.4 310.6 199.0 317.5 198.4 324.1 197.7" stroke="#ec611c"/><path d="M324.1 197.7 330.2 196.9 335.6 196.3 339.8 195.9" stroke="#d9d03d"/><path d="M339.8 195.9 342.7 195.8 344.5 195.9 345.5 196.1" stroke="#99d232"/><path d="M345.5 196.1 346.0 196.4 346.3 196.6 346.8 196.8" stroke="#99d232"/></g><g stroke-width="1.9" opacity="0.92"><path d="M16.3 141.0 19.5 142.3" stroke="#2dc467"/><path d="M19.5 142.3 24.2 144.2 29.6 146.4 35.4 148.6" stroke="#2dc467"/><path d="M35.4 148.6 40.8 150.7 45.5 152.3 49.1 153.4" stroke="#2dc466"/><path d="M49.1 153.4 52.0 154.2 54.7 154.7 57.6 155.3" stroke="#41cd40"/><path d="M57.6 155.3 60.8 156.1 65.0 157.3 70.0 158.9" stroke="#73d232"/><path d="M70.0 158.9 75.5 160.9 81.5 163.1 87.9 165.4" stroke="#d7d13c"/><path d="M87.9 165.4 94.7 167.7 101.8 169.8 109.5 171.8" stroke="#f07d20"/><path d="M109.5 171.8 117.7 173.8 126.3 175.7 135.1 177.5" stroke="#eb581b"/><path d="M135.1 177.5 143.7 179.3 152.1 181.1 159.9 182.7" stroke="#e73f18"/><path d="M159.9 182.7 167.4 184.3 174.8 185.8 182.3 187.2" stroke="#e33917"/><path d="M182.3 187.2 190.2 188.5 198.7 189.7 208.1 190.7" stroke="#e13517"/><path d="M208.1 190.7 218.3 191.5 228.8 192.2 239.3 192.8" stroke="#da2a15"/><path d="M239.3 192.8 249.4 193.6 258.8 194.4 267.4 195.6" stroke="#d21e14"/><path d="M267.4 195.6 275.5 196.9 283.2 198.3 290.6 199.6" stroke="#da2b16"/><path d="M290.6 199.6 297.6 200.7 304.3 201.2 311.0 201.2" stroke="#e73e18"/><path d="M311.0 201.2 317.6 200.8 323.9 200.1 329.5 199.2" stroke="#e84218"/><path d="M329.5 199.2 334.2 198.5 337.7 198.0" stroke="#e84218"/></g><g stroke-width="1.5" opacity="0.92"><path d="M16.8 140.1 19.8 141.7 23.9 144.0 28.7 146.7" stroke="#2bc07a"/><path d="M28.7 146.7 33.8 149.4 38.7 151.8 42.9 153.6" stroke="#2dc467"/><path d="M42.9 153.6 46.2 154.5 48.8 154.9 51.3 155.0" stroke="#39cb47"/><path d="M51.3 155.0 53.9 155.1 57.1 155.5 61.3 156.4" stroke="#5ad232"/><path d="M61.3 156.4 66.6 158.0 72.7 160.0 79.3 162.2" stroke="#b8d235"/><path d="M79.3 162.2 86.3 164.6 93.6 167.0 100.8 169.2" stroke="#ed992a"/><path d="M100.8 169.2 108.1 171.3 115.7 173.3 123.4 175.4" stroke="#ec5e1c"/><path d="M123.4 175.4 131.3 177.4 139.4 179.3 147.7 181.2" stroke="#ea511a"/><path d="M147.7 181.2 156.0 183.0 164.4 184.8 173.1 186.6" stroke="#e84218"/><path d="M173.1 186.6 181.9 188.2 191.0 189.7 200.4 191.1" stroke="#e23717"/><path d="M200.4 191.1 210.4 192.3 221.2 193.2 232.2 194.0" stroke="#de3016"/><path d="M232.2 194.0 243.0 194.7 253.3 195.5 262.6 196.4" stroke="#dc2e16"/><path d="M262.6 196.4 271.1 197.5 279.2 198.8 286.6 200.1" stroke="#dd2f16"/><path d="M286.6 200.1 293.4 201.3 299.5 202.2 304.6 202.8" stroke="#e03417"/><path d="M304.6 202.8 308.7 202.8 311.9 202.3 314.2 201.6" stroke="#e23617"/><path d="M314.2 201.6 316.0 200.8 317.4 200.1 318.6 199.6" stroke="#e23617"/></g></g>

<!-- nose grille -->
<path d="M11 104 C12 99 15 96 20 95 C24 96 25 104 24 115 C23 124 21 132 17 137 C13 136 10 130 10 120 Z" fill="#101a60" opacity="0.65" filter="url(#b1)"/>
<path d="M0 80 L22 80 C17 90 13 93 10.5 99 L0 99 Z" fill="#fff"/>
<g fill="#e8ecff" opacity="0.8"><circle cx="30" cy="108" r="0.8"/><circle cx="34" cy="113" r="0.7"/><circle cx="27" cy="118" r="0.8"/><circle cx="20" cy="123" r="1.1" fill="#d8d8a0"/><circle cx="37" cy="104" r="0.6"/></g>
<!-- wheel -->
<ellipse cx="125" cy="134" rx="21" ry="29" fill="#202024" opacity="0.85" filter="url(#b1)"/>
<path d="M141 110 C151 124 151 146 141 160" stroke="#c8c8c8" stroke-width="3" fill="none" filter="url(#b05)"/>
<g fill="none" stroke="#8a8a90" stroke-width="0.7">
 <path d="M125 112 L126 156 M110 125 L140 145 M110 145 L140 125 M115 116 L135 152 M135 116 L115 152"/>
</g>
<circle cx="126" cy="135" r="3" fill="#fff" filter="url(#b05)"/>
<g fill="none" stroke-linecap="round"><g stroke-width="1.3" opacity="0.85"><path d="M53.6 97.3 56.6 97.6 60.9 98.1 65.9 98.7 71.2 99.5" stroke="#42ce3f"/><path d="M71.2 99.5 76.4 100.4 81.0 101.4 84.9 102.7 88.6 104.1 92.1 105.7" stroke="#3acb46"/><path d="M92.1 105.7 95.6 107.4 99.2 109.3 103.1 111.3 107.3 113.6 111.8 116.3" stroke="#50d232"/><path d="M111.8 116.3 116.3 119.0 120.9 121.8 125.4 124.3 129.8 126.6 133.8 128.4" stroke="#4cd136"/><path d="M133.8 128.4 137.7 130.0 141.4 131.4 145.2 132.7 149.2 133.9 153.6 135.2" stroke="#3fcd42"/><path d="M153.6 135.2 158.4 136.4 163.5 137.5 168.8 138.6 174.2 139.7 179.6 140.8" stroke="#2dc467"/><path d="M179.6 140.8 184.9 142.0 190.3 143.3 196.2 144.9 202.0 146.4 207.4 147.9" stroke="#24b6b4"/><path d="M207.4 147.9 211.9 149.1 215.2 150.0" stroke="#20afd2"/></g><g stroke-width="1.2" opacity="0.85"><path d="M51.5 94.1 54.5 94.1 58.5 94.0 63.3 93.9" stroke="#7ed232"/><path d="M63.3 93.9 68.4 94.0 73.6 94.3 78.5 95.0 83.2 96.0 88.0 97.3" stroke="#ef8923"/><path d="M88.0 97.3 92.9 98.9 97.7 100.7 102.3 102.7 106.5 104.8 110.2 107.1" stroke="#ebaf33"/><path d="M110.2 107.1 113.6 109.8 116.8 112.7 119.9 115.5 123.2 118.2 126.9 120.5" stroke="#eca730"/><path d="M126.9 120.5 130.9 122.3 135.0 123.9 139.4 125.3 143.9 126.6 148.6 127.9" stroke="#b7d235"/><path d="M148.6 127.9 153.5 129.4 158.7 131.0 164.3 132.8 170.0 134.6 175.8 136.3" stroke="#2fc755"/><path d="M175.8 136.3 181.5 138.0 186.8 139.4 192.3 140.8 197.9 142.1 203.4 143.2" stroke="#25b7ab"/><path d="M203.4 143.2 208.4 144.3 212.6 145.1 215.7 145.8" stroke="#20b0cf"/></g><g stroke-width="1.0" opacity="0.85"><path d="M50.9 92.1 54.0 92.7 58.4 93.4 63.5 94.3 69.0 95.3" stroke="#4cd136"/><path d="M69.0 95.3 74.4 96.3 79.3 97.4 83.8 98.5 88.3 99.6 92.6 100.7" stroke="#79d232"/><path d="M92.6 100.7 96.9 102.0 101.2 103.3 105.3 104.6 109.4 106.1 113.4 107.7" stroke="#ef8622"/><path d="M113.4 107.7 117.3 109.3 121.2 111.0 125.0 112.7 128.8 114.6 132.5 116.6" stroke="#ee8f26"/><path d="M132.5 116.6 136.0 118.8 139.4 121.1 143.1 123.4 147.0 125.5 151.4 127.5" stroke="#84d232"/><path d="M151.4 127.5 156.5 129.3 162.2 131.0 168.2 132.5 174.3 134.0 180.2 135.5" stroke="#2dc467"/><path d="M180.2 135.5 185.8 136.9 191.3 138.4 197.0 140.0 202.5 141.5 207.5 142.8" stroke="#24b6b4"/><path d="M207.5 142.8 211.8 144.0 214.9 144.8" stroke="#20afd2"/></g><g stroke-width="1.2" opacity="0.85"><path d="M52.3 93.4 55.1 93.4" stroke="#46cf3b"/><path d="M55.1 93.4 59.0 93.2 63.6 93.1 68.5 93.2 73.5 93.5 78.0 94.3" stroke="#45cf3c"/><path d="M78.0 94.3 82.3 95.6 86.7 97.4 91.0 99.5 95.4 101.8 99.6 104.0" stroke="#8fd232"/><path d="M99.6 104.0 103.7 106.0 107.7 107.9 111.5 109.8 115.2 111.6 118.9 113.5" stroke="#ebb736"/><path d="M118.9 113.5 122.7 115.4 126.8 117.3 131.0 119.4 135.3 121.6 139.8 123.9" stroke="#ded03e"/><path d="M139.8 123.9 144.3 126.1 149.0 128.2 153.7 130.0 158.6 131.6 163.7 132.8" stroke="#3ecc43"/><path d="M163.7 132.8 168.8 134.0 174.0 135.1 179.2 136.2 184.4 137.6 189.8 139.2" stroke="#29bd8c"/><path d="M189.8 139.2 195.8 141.0 201.7 142.9 207.1 144.6 211.8 146.1 215.1 147.2" stroke="#21b2c6"/></g><g stroke-width="1.3" opacity="0.85"><path d="M53.6 94.8 56.4 94.9" stroke="#4dd135"/><path d="M56.4 94.9 60.4 95.0 65.0 95.2 70.0 95.5 74.9 96.2 79.5 97.2" stroke="#b1d234"/><path d="M79.5 97.2 83.7 98.7 87.8 100.7 92.0 102.9 96.1 105.3 100.1 107.7" stroke="#abd232"/><path d="M100.1 107.7 104.1 110.0 107.9 112.3 111.6 114.6 115.2 116.9 118.8 119.2" stroke="#4dd134"/><path d="M118.8 119.2 122.5 121.5 126.4 123.7 130.3 125.8 134.1 127.9 138.0 129.9" stroke="#a5d232"/><path d="M138.0 129.9 142.1 131.8 146.5 133.6 151.2 135.3 156.5 136.7 162.2 138.0" stroke="#3bcc45"/><path d="M162.2 138.0 168.1 139.1 174.1 140.2 180.0 141.3 185.5 142.3 190.9 143.5" stroke="#29bd8c"/><path d="M190.9 143.5 196.6 144.7 202.0 145.9 207.0 147.0 211.2 147.9 214.2 148.5" stroke="#21b2c6"/></g><g stroke-width="0.9" opacity="0.85"><path d="M52.2 93.8 55.2 93.9 59.4 94.0 64.3 94.1 69.6 94.4" stroke="#5ad232"/><path d="M69.6 94.4 74.8 94.9 79.7 95.6 84.3 96.7 88.9 98.0 93.6 99.4" stroke="#9cd232"/><path d="M93.6 99.4 98.1 101.1 102.5 102.9 106.7 105.0 110.5 107.3 114.1 110.1" stroke="#4dd135"/><path d="M114.1 110.1 117.6 113.0 121.0 115.9 124.4 118.7 128.0 121.2 131.5 123.3" stroke="#d1d13b"/><path d="M131.5 123.3 134.9 125.3 138.3 127.2 141.9 129.0 146.0 130.6 150.5 132.2" stroke="#74d232"/><path d="M150.5 132.2 155.9 133.8 161.9 135.3 168.2 136.7 174.7 138.0 181.0 139.3" stroke="#2dc467"/><path d="M181.0 139.3 186.8 140.4 192.4 141.5 198.2 142.6 203.7 143.6 208.8 144.5" stroke="#24b6b4"/><path d="M208.8 144.5 213.0 145.3 216.2 145.9" stroke="#20afd2"/></g><g stroke-width="1.1" opacity="0.85"><path d="M49.9 96.8 53.5 97.3 58.5 98.0 64.5 98.8 70.7 99.8 76.7 100.9" stroke="#49d038"/><path d="M76.7 100.9 81.8 102.3 86.1 103.8 90.0 105.5 93.6 107.4 97.1 109.5" stroke="#65d232"/><path d="M97.1 109.5 100.6 111.7 104.3 114.2 108.1 116.9 112.1 120.1 116.1 123.4" stroke="#b4d234"/><path d="M116.1 123.4 120.0 126.7 124.0 129.7 127.9 132.4 131.6 134.6 135.0 136.6" stroke="#98d232"/><path d="M135.0 136.6 138.5 138.3 142.1 139.8 146.0 141.1 150.5 142.2 155.6 142.9" stroke="#43ce3e"/><path d="M155.6 142.9 161.2 143.2 167.2 143.2 173.3 143.2 179.4 143.5 185.1 144.1" stroke="#2bc07a"/><path d="M185.1 144.1 190.9 145.3 197.1 146.9 203.1 148.7 208.7 150.4 213.3 152.0" stroke="#23b4bd"/><path d="M213.3 152.0 216.7 153.0" stroke="#20acd3"/></g><g stroke-width="1.1" opacity="0.85"><path d="M54.0 95.2 56.9 95.6 61.0 96.0 65.8 96.6 71.0 97.3" stroke="#42cd40"/><path d="M71.0 97.3 76.1 98.2 80.7 99.2 84.8 100.5 88.8 102.0 92.8 103.6" stroke="#3ecc43"/><path d="M92.8 103.6 96.7 105.4 100.6 107.3 104.5 109.2 108.3 111.1 112.0 113.2" stroke="#bad136"/><path d="M112.0 113.2 115.7 115.3 119.4 117.5 123.2 119.6 127.1 121.7 131.2 123.8" stroke="#5bd232"/><path d="M131.2 123.8 135.3 125.9 139.6 128.0 143.9 130.0 148.4 132.0 153.1 133.8" stroke="#3dcc44"/><path d="M153.1 133.8 158.0 135.5 163.1 137.1 168.3 138.6 173.6 140.1 178.9 141.4" stroke="#2dc467"/><path d="M178.9 141.4 184.2 142.7 189.8 143.9 195.8 145.1 201.8 146.1 207.4 147.1" stroke="#24b6b4"/><path d="M207.4 147.1 212.2 147.9 215.6 148.5" stroke="#20afd2"/></g><g stroke-width="0.9" opacity="0.85"><path d="M50.7 93.6 53.8 93.9" stroke="#47cf3a"/><path d="M53.8 93.9 58.1 94.3 63.2 94.7 68.6 95.3 74.1 96.1 79.1 97.1" stroke="#4cd136"/><path d="M79.1 97.1 83.8 98.4 88.5 99.9 93.3 101.6 97.9 103.4 102.4 105.2" stroke="#68d232"/><path d="M102.4 105.2 106.8 107.1 110.8 109.0 114.7 111.0 118.5 113.0 122.2 115.1" stroke="#abd232"/><path d="M122.2 115.1 125.9 117.2 129.7 119.3 133.5 121.4 137.3 123.6 141.1 125.9" stroke="#e9ca3e"/><path d="M141.1 125.9 145.0 128.0 149.1 130.0 153.5 131.8 158.2 133.4 163.3 134.7" stroke="#3ecc43"/><path d="M163.3 134.7 168.6 135.9 174.0 137.1 179.3 138.3 184.5 139.6 189.8 141.3" stroke="#29bd8c"/><path d="M189.8 141.3 195.4 143.2 200.9 145.1 206.1 147.0 210.4 148.5 213.6 149.7" stroke="#21b2c6"/></g><g stroke-width="1.0" opacity="0.85"><path d="M51.0 97.0 54.2 97.3 58.8 97.7" stroke="#57d232"/><path d="M58.8 97.7 64.1 98.2 69.8 98.9 75.4 99.8 80.3 101.0 84.7 102.5" stroke="#c8d139"/><path d="M84.7 102.5 88.8 104.3 92.8 106.4 96.7 108.6 100.7 110.9 104.7 113.1" stroke="#e8cf40"/><path d="M104.7 113.1 108.8 115.5 112.8 118.2 116.9 120.8 121.0 123.5 125.1 125.9" stroke="#80d232"/><path d="M125.1 125.9 129.1 128.1 133.0 129.8 136.8 131.3 140.6 132.6 144.5 133.8" stroke="#2fc755"/><path d="M144.5 133.8 148.5 135.0 152.9 136.2 157.6 137.5 162.6 138.8 167.7 140.0" stroke="#34c94d"/><path d="M167.7 140.0 173.0 141.2 178.4 142.4 183.6 143.5 189.3 144.6 195.4 145.7" stroke="#26ba9e"/><path d="M195.4 145.7 201.5 146.8 207.3 147.8 212.1 148.6 215.6 149.2" stroke="#21b1cb"/></g><g stroke-width="1.3" opacity="0.85"><path d="M52.4 95.5 55.4 95.6 59.6 95.7 64.6 95.8 69.9 96.1 75.2 96.5" stroke="#a4d232"/><path d="M75.2 96.5 79.9 97.2 84.2 98.1 88.4 99.3 92.5 100.7 96.6 102.2" stroke="#ee992a"/><path d="M96.6 102.2 100.6 103.8 104.7 105.4 108.7 107.1 112.8 108.9 116.8 110.8" stroke="#e9cb3e"/><path d="M116.8 110.8 120.8 112.8 124.8 114.8 128.7 116.9 132.3 119.2 135.7 121.7" stroke="#a8d232"/><path d="M135.7 121.7 139.1 124.3 142.6 126.8 146.5 129.2 150.8 131.2 155.8 132.8" stroke="#44ce3d"/><path d="M155.8 132.8 161.2 134.1 167.0 135.2 172.9 136.3 178.8 137.4 184.5 138.7" stroke="#2bc07a"/><path d="M184.5 138.7 190.3 140.3 196.6 142.2 202.8 144.0 208.5 145.8 213.3 147.3" stroke="#23b4bd"/><path d="M213.3 147.3 216.8 148.4" stroke="#20acd3"/></g><g stroke-width="0.8" opacity="0.85"><path d="M46.1 94.8 49.9 95.5" stroke="#4cd136"/><path d="M49.9 95.5 55.3 96.4 61.6 97.6 68.3 98.8 74.7 100.2 80.3 101.5" stroke="#9bd232"/><path d="M80.3 101.5 85.2 102.9 89.7 104.3 94.0 105.7 98.1 107.3 102.2 109.1" stroke="#bad136"/><path d="M102.2 109.1 106.3 111.0 110.3 113.3 114.2 116.0 118.0 118.8 121.8 121.5" stroke="#acd232"/><path d="M121.8 121.5 125.5 124.1 129.3 126.4 132.9 128.2 136.3 129.8 139.7 131.2" stroke="#eabf39"/><path d="M139.7 131.2 143.2 132.5 147.1 133.8 151.5 135.2 156.5 136.5 162.0 137.9" stroke="#3fcd42"/><path d="M162.0 137.9 167.9 139.2 173.8 140.5 179.7 141.8 185.4 143.2 191.1 144.6" stroke="#29bd8c"/><path d="M191.1 144.6 197.2 146.2 203.2 147.9 208.8 149.4 213.4 150.6 216.8 151.6" stroke="#21b2c6"/></g><g stroke-width="1.3" opacity="0.85"><path d="M54.3 93.6 57.3 94.0 61.5 94.5 66.5 95.2" stroke="#4cd136"/><path d="M66.5 95.2 71.7 96.0 76.9 97.0 81.5 98.2 85.6 99.7 89.5 101.6" stroke="#6fd232"/><path d="M89.5 101.6 93.4 103.6 97.1 105.7 100.9 107.8 104.7 109.8 108.6 111.7" stroke="#67d232"/><path d="M108.6 111.7 112.4 113.6 116.2 115.5 120.1 117.4 124.0 119.3 128.0 121.1" stroke="#3ccc45"/><path d="M128.0 121.1 131.9 123.0 135.8 125.0 139.8 126.9 143.8 128.7 148.2 130.5" stroke="#2fc755"/><path d="M148.2 130.5 152.8 132.1 158.0 133.5 163.6 134.7 169.4 135.8 175.2 136.8" stroke="#2fc755"/><path d="M175.2 136.8 181.0 138.0 186.4 139.2 191.8 140.8 197.5 142.6 203.0 144.5" stroke="#25b7ab"/><path d="M203.0 144.5 208.0 146.3 212.3 147.8 215.4 148.9" stroke="#20b0cf"/></g><g stroke-width="1.1" opacity="0.85"><path d="M47.8 93.5 51.4 93.9 56.6 94.6 62.6 95.3 69.0 96.3" stroke="#48cf3a"/><path d="M69.0 96.3 75.2 97.4 80.5 98.7 84.9 100.4 89.0 102.4 92.8 104.5" stroke="#59d232"/><path d="M92.8 104.5 96.5 106.8 100.2 109.0 104.2 111.0 108.3 112.9 112.5 114.7" stroke="#ef7a1f"/><path d="M112.5 114.7 116.8 116.5 121.0 118.3 125.2 120.1 129.3 121.9 133.1 123.9" stroke="#8ed232"/><path d="M133.1 123.9 136.6 126.0 140.1 128.1 143.7 130.1 147.7 132.1 152.1 134.0" stroke="#3fcd42"/><path d="M152.1 134.0 157.3 135.7 163.1 137.4 169.2 139.0 175.3 140.4 181.3 141.8" stroke="#2dc467"/><path d="M181.3 141.8 186.7 143.1 192.0 144.2 197.4 145.2 202.5 146.1 207.2 146.9" stroke="#24b6b4"/><path d="M207.2 146.9 211.1 147.5 214.0 148.0" stroke="#20afd2"/></g></g>

<!-- red arcs -->
<g fill="none" stroke="#a03838" stroke-width="1.1" filter="url(#b05)">
 <path d="M213 70 C218 45 240 30 306 21"/>
 <path d="M216 68 C221 44 244 31 306 23"/>
 <path d="M219 67 C225 45 248 33 305 25"/>
 <path d="M222 68 C229 47 252 36 300 28"/>
 <path d="M226 69 C233 50 258 40 296 32"/>
 <path d="M210 74 C214 52 232 36 270 27"/>
</g>
<g fill="none" stroke-width="1.1" opacity="0.9">
 <path d="M252 60 C256 44 268 38 276 42 C282 46 282 56 280 62" stroke="#2a8a9a"/>
 <path d="M262 58 C266 42 280 36 288 40 C294 45 294 55 292 60" stroke="#2a9aa8"/>
 <path d="M272 56 C276 40 290 32 298 37 C304 42 304 52 302 58" stroke="#30a0b0"/>
 <path d="M285 52 C290 38 300 30 308 34 C314 40 314 50 312 56" stroke="#38a890"/>
 <path d="M244 62 C250 48 262 44 270 48 C275 52 275 58 274 64" stroke="#2468c8"/>
</g>
<g fill="none" stroke="#3a5a50" stroke-width="0.8" opacity="0.8">
 <path d="M232 50 C250 40 270 36 296 34"/>
 <path d="M238 52 C255 44 272 42 292 42"/>
 <path d="M228 56 C245 46 262 44 280 45"/>
</g>
<!-- yellow-green right lines -->
<g fill="none" stroke-width="2" filter="url(#b05)">
 <path d="M338 186 C352 172 364 150 372 118" stroke="#d8d048"/>
 <path d="M344 187 C358 174 368 154 376 122" stroke="#e0d860"/>
 <path d="M332 182 C346 168 358 146 366 116" stroke="#c8d040"/>
 <path d="M350 188 C362 176 372 160 380 130" stroke="#b8a040"/>
</g>
<!-- mirror -->
<path d="M32 85 C32 81 37 80 43 80.5 C46 81 46.5 85 45 88.5 C41 90.5 36 90.5 33 88.5 Z" fill="#4a4e56" stroke="#6a6e76" stroke-width="0.6"/>
<path d="M42 89 L44 96" stroke="#4a4e56" stroke-width="1.6"/>
<!-- dots -->
<rect x="200" y="13" width="4.8" height="4.5" fill="#000"/>
<rect x="211.5" y="13" width="4.8" height="4.5" fill="#000"/>
<rect x="223" y="13" width="4.8" height="4.5" fill="#000"/>
<rect x="0.5" y="0.5" width="379" height="210" fill="none" stroke="#e6e6e6"/>
</svg>

</div>
</body>
</html>
